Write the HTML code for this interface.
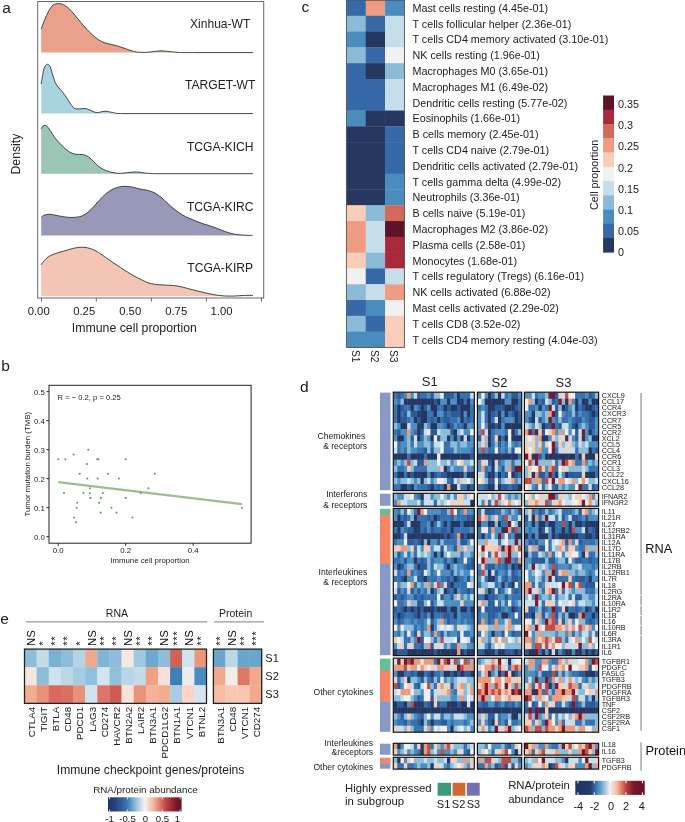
<!DOCTYPE html>
<html><head><meta charset="utf-8"><style>
html,body{margin:0;padding:0;background:#fff;width:685px;height:822px;overflow:hidden}
svg{display:block;will-change:transform}
text{font-family:"Liberation Sans", sans-serif}
</style></head><body>
<svg width="685" height="822" viewBox="0 0 685 822" shape-rendering="auto">
<rect width="685" height="822" fill="#fff"/>
<text x="2.20" y="13.40" font-size="15.5" text-anchor="start" fill="#222" >a</text>
<path d="M41.20,29.20 C41.73,27.73 43.13,23.45 44.40,20.40 C45.67,17.35 47.35,13.45 48.80,10.90 C50.25,8.35 51.53,6.32 53.10,5.10 C54.67,3.88 56.48,3.67 58.20,3.60 C59.92,3.53 61.57,3.83 63.40,4.70 C65.23,5.57 67.27,7.03 69.20,8.80 C71.13,10.57 73.05,13.00 75.00,15.30 C76.95,17.60 78.95,20.28 80.90,22.60 C82.85,24.92 84.75,27.13 86.70,29.20 C88.65,31.27 90.65,33.25 92.60,35.00 C94.55,36.75 96.47,38.43 98.40,39.70 C100.33,40.97 102.02,41.80 104.20,42.60 C106.38,43.40 109.07,43.87 111.50,44.50 C113.93,45.13 116.37,45.67 118.80,46.40 C121.23,47.13 123.67,48.07 126.10,48.90 C128.53,49.73 131.08,50.83 133.40,51.40 C135.72,51.97 137.25,52.18 140.00,52.30 C142.75,52.42 146.43,52.35 149.90,52.10 C153.37,51.85 157.15,50.83 160.80,50.80 C164.45,50.77 168.52,51.62 171.80,51.90 C175.08,52.18 176.63,52.38 180.50,52.50 C184.37,52.62 192.58,52.58 195.00,52.60 L253,52.60 L195.00,52.60 L41.2,52.60 Z" fill="#E9A18B" stroke="none"/>
<path d="M41.20,29.20 C41.73,27.73 43.13,23.45 44.40,20.40 C45.67,17.35 47.35,13.45 48.80,10.90 C50.25,8.35 51.53,6.32 53.10,5.10 C54.67,3.88 56.48,3.67 58.20,3.60 C59.92,3.53 61.57,3.83 63.40,4.70 C65.23,5.57 67.27,7.03 69.20,8.80 C71.13,10.57 73.05,13.00 75.00,15.30 C76.95,17.60 78.95,20.28 80.90,22.60 C82.85,24.92 84.75,27.13 86.70,29.20 C88.65,31.27 90.65,33.25 92.60,35.00 C94.55,36.75 96.47,38.43 98.40,39.70 C100.33,40.97 102.02,41.80 104.20,42.60 C106.38,43.40 109.07,43.87 111.50,44.50 C113.93,45.13 116.37,45.67 118.80,46.40 C121.23,47.13 123.67,48.07 126.10,48.90 C128.53,49.73 131.08,50.83 133.40,51.40 C135.72,51.97 137.25,52.18 140.00,52.30 C142.75,52.42 146.43,52.35 149.90,52.10 C153.37,51.85 157.15,50.83 160.80,50.80 C164.45,50.77 168.52,51.62 171.80,51.90 C175.08,52.18 176.63,52.38 180.50,52.50 C184.37,52.62 192.58,52.58 195.00,52.60 L253,52.60" fill="none" stroke="#333" stroke-width="0.9"/>
<text x="220.20" y="28.00" font-size="12.1" text-anchor="middle" fill="#222" >Xinhua-WT</text>
<path d="M41.20,84.10 C41.60,81.78 42.83,73.37 43.60,70.20 C44.37,67.03 45.07,66.07 45.80,65.10 C46.53,64.13 47.27,64.15 48.00,64.40 C48.73,64.65 49.47,65.02 50.20,66.60 C50.93,68.18 51.55,71.23 52.40,73.90 C53.25,76.57 54.33,80.42 55.30,82.60 C56.27,84.78 56.98,85.42 58.20,87.00 C59.42,88.58 61.02,90.03 62.60,92.10 C64.18,94.17 66.12,97.08 67.70,99.40 C69.28,101.72 70.88,104.47 72.10,106.00 C73.32,107.53 73.78,108.12 75.00,108.60 C76.22,109.08 77.68,108.92 79.40,108.90 C81.12,108.88 83.60,108.33 85.30,108.50 C87.00,108.67 88.15,109.32 89.60,109.90 C91.05,110.48 92.53,111.55 94.00,112.00 C95.47,112.45 96.93,112.70 98.40,112.60 C99.87,112.50 101.33,111.60 102.80,111.40 C104.27,111.20 105.75,111.25 107.20,111.40 C108.65,111.55 110.05,111.98 111.50,112.30 C112.95,112.62 114.18,113.08 115.90,113.30 C117.62,113.52 120.82,113.55 121.80,113.60 L253,113.60 L121.80,113.60 L41.2,113.60 Z" fill="#A8D3DF" stroke="none"/>
<path d="M41.20,84.10 C41.60,81.78 42.83,73.37 43.60,70.20 C44.37,67.03 45.07,66.07 45.80,65.10 C46.53,64.13 47.27,64.15 48.00,64.40 C48.73,64.65 49.47,65.02 50.20,66.60 C50.93,68.18 51.55,71.23 52.40,73.90 C53.25,76.57 54.33,80.42 55.30,82.60 C56.27,84.78 56.98,85.42 58.20,87.00 C59.42,88.58 61.02,90.03 62.60,92.10 C64.18,94.17 66.12,97.08 67.70,99.40 C69.28,101.72 70.88,104.47 72.10,106.00 C73.32,107.53 73.78,108.12 75.00,108.60 C76.22,109.08 77.68,108.92 79.40,108.90 C81.12,108.88 83.60,108.33 85.30,108.50 C87.00,108.67 88.15,109.32 89.60,109.90 C91.05,110.48 92.53,111.55 94.00,112.00 C95.47,112.45 96.93,112.70 98.40,112.60 C99.87,112.50 101.33,111.60 102.80,111.40 C104.27,111.20 105.75,111.25 107.20,111.40 C108.65,111.55 110.05,111.98 111.50,112.30 C112.95,112.62 114.18,113.08 115.90,113.30 C117.62,113.52 120.82,113.55 121.80,113.60 L253,113.60" fill="none" stroke="#333" stroke-width="0.9"/>
<text x="220.20" y="88.60" font-size="12.1" text-anchor="middle" fill="#222" >TARGET-WT</text>
<path d="M41.20,128.80 C41.48,128.35 42.25,126.67 42.90,126.10 C43.55,125.53 44.37,125.32 45.10,125.40 C45.83,125.48 46.32,125.55 47.30,126.60 C48.28,127.65 49.78,129.88 51.00,131.70 C52.22,133.52 53.27,135.68 54.60,137.50 C55.93,139.32 57.53,141.02 59.00,142.60 C60.47,144.18 61.95,145.65 63.40,147.00 C64.85,148.35 66.25,149.65 67.70,150.70 C69.15,151.75 70.63,152.70 72.10,153.30 C73.57,153.90 74.80,154.08 76.50,154.30 C78.20,154.52 80.60,154.35 82.30,154.60 C84.00,154.85 85.23,155.05 86.70,155.80 C88.17,156.55 89.63,157.82 91.10,159.10 C92.57,160.38 94.03,162.12 95.50,163.50 C96.97,164.88 98.20,166.25 99.90,167.40 C101.60,168.55 103.52,169.53 105.70,170.40 C107.88,171.27 110.57,172.10 113.00,172.60 C115.43,173.10 117.87,173.40 120.30,173.40 C122.73,173.40 125.17,172.83 127.60,172.60 C130.03,172.37 132.83,172.05 134.90,172.00 C136.97,171.95 138.15,172.10 140.00,172.30 C141.85,172.50 143.63,172.97 146.00,173.20 C148.37,173.43 152.83,173.62 154.20,173.70 L253,173.70 L154.20,173.70 L41.2,173.70 Z" fill="#9BC6B5" stroke="none"/>
<path d="M41.20,128.80 C41.48,128.35 42.25,126.67 42.90,126.10 C43.55,125.53 44.37,125.32 45.10,125.40 C45.83,125.48 46.32,125.55 47.30,126.60 C48.28,127.65 49.78,129.88 51.00,131.70 C52.22,133.52 53.27,135.68 54.60,137.50 C55.93,139.32 57.53,141.02 59.00,142.60 C60.47,144.18 61.95,145.65 63.40,147.00 C64.85,148.35 66.25,149.65 67.70,150.70 C69.15,151.75 70.63,152.70 72.10,153.30 C73.57,153.90 74.80,154.08 76.50,154.30 C78.20,154.52 80.60,154.35 82.30,154.60 C84.00,154.85 85.23,155.05 86.70,155.80 C88.17,156.55 89.63,157.82 91.10,159.10 C92.57,160.38 94.03,162.12 95.50,163.50 C96.97,164.88 98.20,166.25 99.90,167.40 C101.60,168.55 103.52,169.53 105.70,170.40 C107.88,171.27 110.57,172.10 113.00,172.60 C115.43,173.10 117.87,173.40 120.30,173.40 C122.73,173.40 125.17,172.83 127.60,172.60 C130.03,172.37 132.83,172.05 134.90,172.00 C136.97,171.95 138.15,172.10 140.00,172.30 C141.85,172.50 143.63,172.97 146.00,173.20 C148.37,173.43 152.83,173.62 154.20,173.70 L253,173.70" fill="none" stroke="#333" stroke-width="0.9"/>
<text x="220.20" y="151.00" font-size="12.1" text-anchor="middle" fill="#222" >TCGA-KICH</text>
<path d="M41.20,217.20 C41.73,216.83 43.02,215.48 44.40,215.00 C45.78,214.52 47.80,214.30 49.50,214.30 C51.20,214.30 52.53,214.63 54.60,215.00 C56.67,215.37 59.47,216.10 61.90,216.50 C64.33,216.90 66.77,217.28 69.20,217.40 C71.63,217.52 74.32,217.47 76.50,217.20 C78.68,216.93 80.35,216.65 82.30,215.80 C84.25,214.95 86.25,213.68 88.20,212.10 C90.15,210.52 92.05,208.37 94.00,206.30 C95.95,204.23 97.95,201.77 99.90,199.70 C101.85,197.63 103.52,195.67 105.70,193.90 C107.88,192.13 110.57,190.30 113.00,189.10 C115.43,187.90 118.12,187.15 120.30,186.70 C122.48,186.25 123.92,186.30 126.10,186.40 C128.28,186.50 131.08,186.85 133.40,187.30 C135.72,187.75 137.73,188.62 140.00,189.10 C142.27,189.58 144.67,189.62 147.00,190.20 C149.33,190.78 151.67,191.43 154.00,192.60 C156.33,193.77 158.67,195.35 161.00,197.20 C163.33,199.05 165.67,201.60 168.00,203.70 C170.33,205.80 172.67,207.97 175.00,209.80 C177.33,211.63 179.67,213.30 182.00,214.70 C184.33,216.10 186.65,217.12 189.00,218.20 C191.35,219.28 193.75,220.27 196.10,221.20 C198.45,222.13 200.77,223.02 203.10,223.80 C205.43,224.58 207.77,225.13 210.10,225.90 C212.43,226.67 214.77,227.52 217.10,228.40 C219.43,229.28 221.77,230.37 224.10,231.20 C226.43,232.03 228.77,232.82 231.10,233.40 C233.43,233.98 235.77,234.40 238.10,234.70 C240.43,235.00 242.70,235.08 245.10,235.20 C247.50,235.32 251.27,235.37 252.50,235.40 L252.50,235.40 L41.2,235.40 Z" fill="#9898B8" stroke="none"/>
<path d="M41.20,217.20 C41.73,216.83 43.02,215.48 44.40,215.00 C45.78,214.52 47.80,214.30 49.50,214.30 C51.20,214.30 52.53,214.63 54.60,215.00 C56.67,215.37 59.47,216.10 61.90,216.50 C64.33,216.90 66.77,217.28 69.20,217.40 C71.63,217.52 74.32,217.47 76.50,217.20 C78.68,216.93 80.35,216.65 82.30,215.80 C84.25,214.95 86.25,213.68 88.20,212.10 C90.15,210.52 92.05,208.37 94.00,206.30 C95.95,204.23 97.95,201.77 99.90,199.70 C101.85,197.63 103.52,195.67 105.70,193.90 C107.88,192.13 110.57,190.30 113.00,189.10 C115.43,187.90 118.12,187.15 120.30,186.70 C122.48,186.25 123.92,186.30 126.10,186.40 C128.28,186.50 131.08,186.85 133.40,187.30 C135.72,187.75 137.73,188.62 140.00,189.10 C142.27,189.58 144.67,189.62 147.00,190.20 C149.33,190.78 151.67,191.43 154.00,192.60 C156.33,193.77 158.67,195.35 161.00,197.20 C163.33,199.05 165.67,201.60 168.00,203.70 C170.33,205.80 172.67,207.97 175.00,209.80 C177.33,211.63 179.67,213.30 182.00,214.70 C184.33,216.10 186.65,217.12 189.00,218.20 C191.35,219.28 193.75,220.27 196.10,221.20 C198.45,222.13 200.77,223.02 203.10,223.80 C205.43,224.58 207.77,225.13 210.10,225.90 C212.43,226.67 214.77,227.52 217.10,228.40 C219.43,229.28 221.77,230.37 224.10,231.20 C226.43,232.03 228.77,232.82 231.10,233.40 C233.43,233.98 235.77,234.40 238.10,234.70 C240.43,235.00 242.70,235.08 245.10,235.20 C247.50,235.32 251.27,235.37 252.50,235.40" fill="none" stroke="#333" stroke-width="0.9"/>
<text x="220.20" y="211.00" font-size="12.1" text-anchor="middle" fill="#222" >TCGA-KIRC</text>
<path d="M41.20,264.80 C41.73,264.07 43.13,261.78 44.40,260.40 C45.67,259.02 47.10,257.58 48.80,256.50 C50.50,255.42 52.42,254.70 54.60,253.90 C56.78,253.10 59.47,252.43 61.90,251.70 C64.33,250.97 66.77,250.17 69.20,249.50 C71.63,248.83 74.07,248.07 76.50,247.70 C78.93,247.33 81.37,247.12 83.80,247.30 C86.23,247.48 88.67,247.95 91.10,248.80 C93.53,249.65 95.97,250.95 98.40,252.40 C100.83,253.85 103.27,255.80 105.70,257.50 C108.13,259.20 110.57,260.95 113.00,262.60 C115.43,264.25 117.87,265.82 120.30,267.40 C122.73,268.98 125.17,270.58 127.60,272.10 C130.03,273.62 132.83,275.37 134.90,276.50 C136.97,277.63 138.20,278.02 140.00,278.90 C141.80,279.78 143.80,281.00 145.70,281.80 C147.60,282.60 149.18,283.20 151.40,283.70 C153.62,284.20 156.15,284.55 159.00,284.80 C161.85,285.05 165.33,284.98 168.50,285.20 C171.67,285.42 174.85,285.57 178.00,286.10 C181.15,286.63 184.25,287.60 187.40,288.40 C190.55,289.20 193.73,290.12 196.90,290.90 C200.07,291.68 203.23,292.42 206.40,293.10 C209.57,293.78 212.73,294.52 215.90,295.00 C219.07,295.48 222.23,295.83 225.40,296.00 C228.57,296.17 231.73,296.10 234.90,296.00 C238.07,295.90 241.40,295.50 244.40,295.40 C247.40,295.30 251.48,295.40 252.90,295.40 L252.90,296.20 L41.2,296.20 Z" fill="#F4C5B5" stroke="none"/>
<path d="M41.20,264.80 C41.73,264.07 43.13,261.78 44.40,260.40 C45.67,259.02 47.10,257.58 48.80,256.50 C50.50,255.42 52.42,254.70 54.60,253.90 C56.78,253.10 59.47,252.43 61.90,251.70 C64.33,250.97 66.77,250.17 69.20,249.50 C71.63,248.83 74.07,248.07 76.50,247.70 C78.93,247.33 81.37,247.12 83.80,247.30 C86.23,247.48 88.67,247.95 91.10,248.80 C93.53,249.65 95.97,250.95 98.40,252.40 C100.83,253.85 103.27,255.80 105.70,257.50 C108.13,259.20 110.57,260.95 113.00,262.60 C115.43,264.25 117.87,265.82 120.30,267.40 C122.73,268.98 125.17,270.58 127.60,272.10 C130.03,273.62 132.83,275.37 134.90,276.50 C136.97,277.63 138.20,278.02 140.00,278.90 C141.80,279.78 143.80,281.00 145.70,281.80 C147.60,282.60 149.18,283.20 151.40,283.70 C153.62,284.20 156.15,284.55 159.00,284.80 C161.85,285.05 165.33,284.98 168.50,285.20 C171.67,285.42 174.85,285.57 178.00,286.10 C181.15,286.63 184.25,287.60 187.40,288.40 C190.55,289.20 193.73,290.12 196.90,290.90 C200.07,291.68 203.23,292.42 206.40,293.10 C209.57,293.78 212.73,294.52 215.90,295.00 C219.07,295.48 222.23,295.83 225.40,296.00 C228.57,296.17 231.73,296.10 234.90,296.00 C238.07,295.90 241.40,295.50 244.40,295.40 C247.40,295.30 251.48,295.40 252.90,295.40" fill="none" stroke="#333" stroke-width="0.9"/>
<text x="220.20" y="271.90" font-size="12.1" text-anchor="middle" fill="#222" >TCGA-KIRP</text>
<rect x="37.7" y="1.5" width="226" height="296.5" fill="none" stroke="#6a6a6a" stroke-width="1"/>
<line x1="41.50" y1="298.00" x2="41.50" y2="301.50" stroke="#555" stroke-width="0.9" />
<line x1="96.30" y1="298.00" x2="96.30" y2="301.50" stroke="#555" stroke-width="0.9" />
<line x1="151.40" y1="298.00" x2="151.40" y2="301.50" stroke="#555" stroke-width="0.9" />
<line x1="206.40" y1="298.00" x2="206.40" y2="301.50" stroke="#555" stroke-width="0.9" />
<line x1="261.50" y1="298.00" x2="261.50" y2="301.50" stroke="#555" stroke-width="0.9" />
<text x="38.70" y="314.90" font-size="11.3" text-anchor="middle" fill="#222" >0.00</text>
<text x="84.20" y="314.90" font-size="11.3" text-anchor="middle" fill="#222" >0.25</text>
<text x="130.20" y="314.90" font-size="11.3" text-anchor="middle" fill="#222" >0.50</text>
<text x="176.20" y="314.90" font-size="11.3" text-anchor="middle" fill="#222" >0.75</text>
<text x="221.50" y="314.90" font-size="11.3" text-anchor="middle" fill="#222" >1.00</text>
<text x="134.40" y="332.30" font-size="12.3" text-anchor="middle" fill="#222" >Immune cell proportion</text>
<text transform="translate(19.90,154.10) rotate(-90)" font-size="12.25" text-anchor="middle" fill="#222">Density</text>
<text x="1.20" y="371.20" font-size="15.5" text-anchor="start" fill="#222" >b</text>
<rect x="49" y="385.3" width="202.1" height="157.9" fill="none" stroke="#222" stroke-width="1"/>
<line x1="46.40" y1="536.70" x2="49.00" y2="536.70" stroke="#222" stroke-width="1" />
<text x="44.90" y="539.55" font-size="7.8" text-anchor="end" fill="#222" >0.0</text>
<line x1="46.40" y1="507.70" x2="49.00" y2="507.70" stroke="#222" stroke-width="1" />
<text x="44.90" y="510.55" font-size="7.8" text-anchor="end" fill="#222" >0.1</text>
<line x1="46.40" y1="478.70" x2="49.00" y2="478.70" stroke="#222" stroke-width="1" />
<text x="44.90" y="481.55" font-size="7.8" text-anchor="end" fill="#222" >0.2</text>
<line x1="46.40" y1="449.70" x2="49.00" y2="449.70" stroke="#222" stroke-width="1" />
<text x="44.90" y="452.55" font-size="7.8" text-anchor="end" fill="#222" >0.3</text>
<line x1="46.40" y1="420.70" x2="49.00" y2="420.70" stroke="#222" stroke-width="1" />
<text x="44.90" y="423.55" font-size="7.8" text-anchor="end" fill="#222" >0.4</text>
<line x1="46.40" y1="391.70" x2="49.00" y2="391.70" stroke="#222" stroke-width="1" />
<text x="44.90" y="394.55" font-size="7.8" text-anchor="end" fill="#222" >0.5</text>
<line x1="58.20" y1="543.20" x2="58.20" y2="545.80" stroke="#222" stroke-width="1" />
<text x="58.20" y="552.70" font-size="7.8" text-anchor="middle" fill="#222" >0.0</text>
<line x1="125.70" y1="543.20" x2="125.70" y2="545.80" stroke="#222" stroke-width="1" />
<text x="125.70" y="552.70" font-size="7.8" text-anchor="middle" fill="#222" >0.2</text>
<line x1="193.20" y1="543.20" x2="193.20" y2="545.80" stroke="#222" stroke-width="1" />
<text x="193.20" y="552.70" font-size="7.8" text-anchor="middle" fill="#222" >0.4</text>
<text x="150.00" y="562.60" font-size="7.8" text-anchor="middle" fill="#222" >Immune cell proportion</text>
<text transform="translate(29.60,464.30) rotate(-90)" font-size="7.8" text-anchor="middle" fill="#222">Tumor mutation burden (TMB)</text>
<text x="57.60" y="400.20" font-size="7.6" text-anchor="start" fill="#222" >R = − 0.2, p = 0.25</text>
<line x1="58.20" y1="482.10" x2="241.90" y2="504.10" stroke="#9DBF8E" stroke-width="2.4" />
<circle cx="58.2" cy="459.2" r="1.05" fill="#63A05C"/>
<circle cx="65.4" cy="459.2" r="1.05" fill="#63A05C"/>
<circle cx="73.6" cy="454.5" r="1.05" fill="#63A05C"/>
<circle cx="88.3" cy="449.8" r="1.05" fill="#63A05C"/>
<circle cx="86.9" cy="464.1" r="1.05" fill="#63A05C"/>
<circle cx="97.2" cy="459.2" r="1.05" fill="#63A05C"/>
<circle cx="98.4" cy="459.2" r="1.05" fill="#63A05C"/>
<circle cx="125.7" cy="459.2" r="1.05" fill="#63A05C"/>
<circle cx="79.7" cy="473.7" r="1.05" fill="#63A05C"/>
<circle cx="107.9" cy="473.7" r="1.05" fill="#63A05C"/>
<circle cx="87.3" cy="478.6" r="1.05" fill="#63A05C"/>
<circle cx="97.7" cy="478.6" r="1.05" fill="#63A05C"/>
<circle cx="118.9" cy="478.6" r="1.05" fill="#63A05C"/>
<circle cx="64.0" cy="493.0" r="1.05" fill="#63A05C"/>
<circle cx="83.4" cy="493.0" r="1.05" fill="#63A05C"/>
<circle cx="89.9" cy="488.2" r="1.05" fill="#63A05C"/>
<circle cx="89.9" cy="493.0" r="1.05" fill="#63A05C"/>
<circle cx="90.5" cy="497.9" r="1.05" fill="#63A05C"/>
<circle cx="102.8" cy="493.0" r="1.05" fill="#63A05C"/>
<circle cx="100.8" cy="497.9" r="1.05" fill="#63A05C"/>
<circle cx="125.7" cy="497.9" r="1.05" fill="#63A05C"/>
<circle cx="77.3" cy="502.8" r="1.05" fill="#63A05C"/>
<circle cx="76.6" cy="507.7" r="1.05" fill="#63A05C"/>
<circle cx="99.1" cy="502.8" r="1.05" fill="#63A05C"/>
<circle cx="111.4" cy="507.7" r="1.05" fill="#63A05C"/>
<circle cx="100.6" cy="512.6" r="1.05" fill="#63A05C"/>
<circle cx="116.5" cy="512.6" r="1.05" fill="#63A05C"/>
<circle cx="74.0" cy="517.5" r="1.05" fill="#63A05C"/>
<circle cx="132.4" cy="517.5" r="1.05" fill="#63A05C"/>
<circle cx="76.0" cy="522.2" r="1.05" fill="#63A05C"/>
<circle cx="154.8" cy="473.7" r="1.05" fill="#63A05C"/>
<circle cx="148.4" cy="488.3" r="1.05" fill="#63A05C"/>
<circle cx="140.7" cy="493.1" r="1.05" fill="#63A05C"/>
<circle cx="241.9" cy="508.0" r="1.05" fill="#63A05C"/>
<text x="301.60" y="11.90" font-size="15.5" text-anchor="start" fill="#222" >c</text>
<rect x="346.40" y="0.00" width="19.63" height="16.09" fill="#3768A8" />
<rect x="365.73" y="0.00" width="19.63" height="16.09" fill="#EE9C82" />
<rect x="385.07" y="0.00" width="19.63" height="16.09" fill="#4A8CBE" />
<text x="412.50" y="11.90" font-size="10.75" text-anchor="start" fill="#222" >Mast cells resting (4.45e-01)</text>
<rect x="346.40" y="15.79" width="19.63" height="16.09" fill="#8BBBD7" />
<rect x="365.73" y="15.79" width="19.63" height="16.09" fill="#3768A8" />
<rect x="385.07" y="15.79" width="19.63" height="16.09" fill="#C6DDEA" />
<text x="412.50" y="27.69" font-size="10.75" text-anchor="start" fill="#222" >T cells follicular helper (2.36e-01)</text>
<rect x="346.40" y="31.58" width="19.63" height="16.09" fill="#4A8CBE" />
<rect x="365.73" y="31.58" width="19.63" height="16.09" fill="#263760" />
<rect x="385.07" y="31.58" width="19.63" height="16.09" fill="#C6DDEA" />
<text x="412.50" y="43.48" font-size="10.75" text-anchor="start" fill="#222" >T cells CD4 memory activated (3.10e-01)</text>
<rect x="346.40" y="47.37" width="19.63" height="16.09" fill="#8BBBD7" />
<rect x="365.73" y="47.37" width="19.63" height="16.09" fill="#3768A8" />
<rect x="385.07" y="47.37" width="19.63" height="16.09" fill="#F1F1F1" />
<text x="412.50" y="59.27" font-size="10.75" text-anchor="start" fill="#222" >NK cells resting (1.96e-01)</text>
<rect x="346.40" y="63.16" width="19.63" height="16.09" fill="#3768A8" />
<rect x="365.73" y="63.16" width="19.63" height="16.09" fill="#263760" />
<rect x="385.07" y="63.16" width="19.63" height="16.09" fill="#8BBBD7" />
<text x="412.50" y="75.06" font-size="10.75" text-anchor="start" fill="#222" >Macrophages M0 (3.65e-01)</text>
<rect x="346.40" y="78.95" width="19.63" height="16.09" fill="#3768A8" />
<rect x="365.73" y="78.95" width="19.63" height="16.09" fill="#3768A8" />
<rect x="385.07" y="78.95" width="19.63" height="16.09" fill="#C6DDEA" />
<text x="412.50" y="90.85" font-size="10.75" text-anchor="start" fill="#222" >Macrophages M1 (6.49e-02)</text>
<rect x="346.40" y="94.75" width="19.63" height="16.09" fill="#3768A8" />
<rect x="365.73" y="94.75" width="19.63" height="16.09" fill="#3768A8" />
<rect x="385.07" y="94.75" width="19.63" height="16.09" fill="#C6DDEA" />
<text x="412.50" y="106.65" font-size="10.75" text-anchor="start" fill="#222" >Dendritic cells resting (5.77e-02)</text>
<rect x="346.40" y="110.54" width="19.63" height="16.09" fill="#4A8CBE" />
<rect x="365.73" y="110.54" width="19.63" height="16.09" fill="#263760" />
<rect x="385.07" y="110.54" width="19.63" height="16.09" fill="#263760" />
<text x="412.50" y="122.44" font-size="10.75" text-anchor="start" fill="#222" >Eosinophils (1.66e-01)</text>
<rect x="346.40" y="126.33" width="19.63" height="16.09" fill="#263760" />
<rect x="365.73" y="126.33" width="19.63" height="16.09" fill="#263760" />
<rect x="385.07" y="126.33" width="19.63" height="16.09" fill="#3768A8" />
<text x="412.50" y="138.23" font-size="10.75" text-anchor="start" fill="#222" >B cells memory (2.45e-01)</text>
<rect x="346.40" y="142.12" width="19.63" height="16.09" fill="#263760" />
<rect x="365.73" y="142.12" width="19.63" height="16.09" fill="#263760" />
<rect x="385.07" y="142.12" width="19.63" height="16.09" fill="#3768A8" />
<text x="412.50" y="154.02" font-size="10.75" text-anchor="start" fill="#222" >T cells CD4 naive (2.79e-01)</text>
<rect x="346.40" y="157.91" width="19.63" height="16.09" fill="#263760" />
<rect x="365.73" y="157.91" width="19.63" height="16.09" fill="#263760" />
<rect x="385.07" y="157.91" width="19.63" height="16.09" fill="#3768A8" />
<text x="412.50" y="169.81" font-size="10.75" text-anchor="start" fill="#222" >Dendritic cells activated (2.79e-01)</text>
<rect x="346.40" y="173.70" width="19.63" height="16.09" fill="#263760" />
<rect x="365.73" y="173.70" width="19.63" height="16.09" fill="#263760" />
<rect x="385.07" y="173.70" width="19.63" height="16.09" fill="#4A8CBE" />
<text x="412.50" y="185.60" font-size="10.75" text-anchor="start" fill="#222" >T cells gamma delta (4.99e-02)</text>
<rect x="346.40" y="189.49" width="19.63" height="16.09" fill="#263760" />
<rect x="365.73" y="189.49" width="19.63" height="16.09" fill="#263760" />
<rect x="385.07" y="189.49" width="19.63" height="16.09" fill="#4A8CBE" />
<text x="412.50" y="201.39" font-size="10.75" text-anchor="start" fill="#222" >Neutrophils (3.36e-01)</text>
<rect x="346.40" y="205.28" width="19.63" height="16.09" fill="#F9CDB9" />
<rect x="365.73" y="205.28" width="19.63" height="16.09" fill="#8BBBD7" />
<rect x="385.07" y="205.28" width="19.63" height="16.09" fill="#D2695A" />
<text x="412.50" y="217.18" font-size="10.75" text-anchor="start" fill="#222" >B cells naive (5.19e-01)</text>
<rect x="346.40" y="221.07" width="19.63" height="16.09" fill="#EE9C82" />
<rect x="365.73" y="221.07" width="19.63" height="16.09" fill="#C6DDEA" />
<rect x="385.07" y="221.07" width="19.63" height="16.09" fill="#5E1428" />
<text x="412.50" y="232.97" font-size="10.75" text-anchor="start" fill="#222" >Macrophages M2 (3.86e-02)</text>
<rect x="346.40" y="236.86" width="19.63" height="16.09" fill="#EE9C82" />
<rect x="365.73" y="236.86" width="19.63" height="16.09" fill="#C6DDEA" />
<rect x="385.07" y="236.86" width="19.63" height="16.09" fill="#A8293A" />
<text x="412.50" y="248.76" font-size="10.75" text-anchor="start" fill="#222" >Plasma cells (2.58e-01)</text>
<rect x="346.40" y="252.65" width="19.63" height="16.09" fill="#F9CDB9" />
<rect x="365.73" y="252.65" width="19.63" height="16.09" fill="#8BBBD7" />
<rect x="385.07" y="252.65" width="19.63" height="16.09" fill="#A8293A" />
<text x="412.50" y="264.55" font-size="10.75" text-anchor="start" fill="#222" >Monocytes (1.68e-01)</text>
<rect x="346.40" y="268.45" width="19.63" height="16.09" fill="#F1F1F1" />
<rect x="365.73" y="268.45" width="19.63" height="16.09" fill="#3768A8" />
<rect x="385.07" y="268.45" width="19.63" height="16.09" fill="#C6DDEA" />
<text x="412.50" y="280.35" font-size="10.75" text-anchor="start" fill="#222" >T cells regulatory (Tregs) (6.16e-01)</text>
<rect x="346.40" y="284.24" width="19.63" height="16.09" fill="#8BBBD7" />
<rect x="365.73" y="284.24" width="19.63" height="16.09" fill="#C6DDEA" />
<rect x="385.07" y="284.24" width="19.63" height="16.09" fill="#EE9C82" />
<text x="412.50" y="296.14" font-size="10.75" text-anchor="start" fill="#222" >NK cells activated (6.88e-02)</text>
<rect x="346.40" y="300.03" width="19.63" height="16.09" fill="#3768A8" />
<rect x="365.73" y="300.03" width="19.63" height="16.09" fill="#4A8CBE" />
<rect x="385.07" y="300.03" width="19.63" height="16.09" fill="#F1F1F1" />
<text x="412.50" y="311.93" font-size="10.75" text-anchor="start" fill="#222" >Mast cells activated (2.29e-02)</text>
<rect x="346.40" y="315.82" width="19.63" height="16.09" fill="#8BBBD7" />
<rect x="365.73" y="315.82" width="19.63" height="16.09" fill="#3768A8" />
<rect x="385.07" y="315.82" width="19.63" height="16.09" fill="#F9CDB9" />
<text x="412.50" y="327.72" font-size="10.75" text-anchor="start" fill="#222" >T cells CD8 (3.52e-02)</text>
<rect x="346.40" y="331.61" width="19.63" height="16.09" fill="#4A8CBE" />
<rect x="365.73" y="331.61" width="19.63" height="16.09" fill="#4A8CBE" />
<rect x="385.07" y="331.61" width="19.63" height="16.09" fill="#F9CDB9" />
<text x="412.50" y="343.51" font-size="10.75" text-anchor="start" fill="#222" >T cells CD4 memory resting (4.04e-03)</text>
<rect x="346.40" y="0.3" width="58.00" height="347.1" fill="none" stroke="#555" stroke-width="0.9"/>
<text transform="translate(351.57,349.90) rotate(90)" font-size="10.3" text-anchor="start" fill="#222">S1</text>
<text transform="translate(370.90,349.90) rotate(90)" font-size="10.3" text-anchor="start" fill="#222">S2</text>
<text transform="translate(390.23,349.90) rotate(90)" font-size="10.3" text-anchor="start" fill="#222">S3</text>
<rect x="603.10" y="95.50" width="10.90" height="14.55" fill="#5E1428" />
<rect x="603.10" y="109.75" width="10.90" height="14.55" fill="#A8293A" />
<rect x="603.10" y="124.01" width="10.90" height="14.55" fill="#D2695A" />
<rect x="603.10" y="138.26" width="10.90" height="14.55" fill="#EE9C82" />
<rect x="603.10" y="152.52" width="10.90" height="14.55" fill="#F9CDB9" />
<rect x="603.10" y="166.77" width="10.90" height="14.55" fill="#F1F1F1" />
<rect x="603.10" y="181.03" width="10.90" height="14.55" fill="#C6DDEA" />
<rect x="603.10" y="195.28" width="10.90" height="14.55" fill="#8BBBD7" />
<rect x="603.10" y="209.54" width="10.90" height="14.55" fill="#4A8CBE" />
<rect x="603.10" y="223.79" width="10.90" height="14.55" fill="#3768A8" />
<rect x="603.10" y="238.05" width="10.90" height="14.55" fill="#263760" />
<text x="618.00" y="108.10" font-size="10.8" text-anchor="start" fill="#222" >0.35</text>
<text x="618.00" y="129.25" font-size="10.8" text-anchor="start" fill="#222" >0.3</text>
<text x="618.00" y="150.40" font-size="10.8" text-anchor="start" fill="#222" >0.25</text>
<text x="618.00" y="171.55" font-size="10.8" text-anchor="start" fill="#222" >0.2</text>
<text x="618.00" y="192.70" font-size="10.8" text-anchor="start" fill="#222" >0.15</text>
<text x="618.00" y="213.85" font-size="10.8" text-anchor="start" fill="#222" >0.1</text>
<text x="618.00" y="235.00" font-size="10.8" text-anchor="start" fill="#222" >0.05</text>
<text x="618.00" y="256.15" font-size="10.8" text-anchor="start" fill="#222" >0</text>
<text transform="translate(597.60,174.90) rotate(-90)" font-size="10.8" text-anchor="middle" fill="#222">Cell proportion</text>
<text x="300.00" y="391.80" font-size="15.5" text-anchor="start" fill="#222" >d</text>
<text x="429.70" y="385.50" font-size="13" text-anchor="middle" fill="#222" >S1</text>
<text x="499.50" y="386.80" font-size="13" text-anchor="middle" fill="#222" >S2</text>
<text x="563.50" y="386.90" font-size="13" text-anchor="middle" fill="#222" >S3</text>
<rect x="393.90" y="392.60" width="3.72" height="6.50" fill="#3671B0" />
<rect x="397.22" y="392.60" width="3.72" height="6.50" fill="#2B5B9A" />
<rect x="400.54" y="392.60" width="3.72" height="6.50" fill="#3671B0" />
<rect x="403.86" y="392.60" width="3.72" height="6.50" fill="#4B8FC2" />
<rect x="407.18" y="392.60" width="3.72" height="6.50" fill="#EC9A7E" />
<rect x="410.50" y="392.60" width="3.72" height="6.50" fill="#4B8FC2" />
<rect x="413.82" y="392.60" width="3.72" height="6.50" fill="#C8DEEB" />
<rect x="417.14" y="392.60" width="3.72" height="6.50" fill="#2B5B9A" />
<rect x="420.46" y="392.60" width="3.72" height="6.50" fill="#3671B0" />
<rect x="423.78" y="392.60" width="3.72" height="6.50" fill="#3671B0" />
<rect x="427.10" y="392.60" width="3.72" height="6.50" fill="#4B8FC2" />
<rect x="430.42" y="392.60" width="3.72" height="6.50" fill="#2B5B9A" />
<rect x="433.74" y="392.60" width="3.72" height="6.50" fill="#8BBDD9" />
<rect x="437.06" y="392.60" width="3.72" height="6.50" fill="#8BBDD9" />
<rect x="440.38" y="392.60" width="3.72" height="6.50" fill="#F3EEEC" />
<rect x="443.70" y="392.60" width="3.72" height="6.50" fill="#2B5B9A" />
<rect x="447.02" y="392.60" width="3.72" height="6.50" fill="#2B5B9A" />
<rect x="450.34" y="392.60" width="3.72" height="6.50" fill="#2B5B9A" />
<rect x="453.66" y="392.60" width="3.72" height="6.50" fill="#4B8FC2" />
<rect x="456.98" y="392.60" width="3.72" height="6.50" fill="#243763" />
<rect x="460.30" y="392.60" width="3.72" height="6.50" fill="#3671B0" />
<rect x="463.62" y="392.60" width="3.72" height="6.50" fill="#3671B0" />
<rect x="466.94" y="392.60" width="3.72" height="6.50" fill="#3671B0" />
<rect x="470.26" y="392.60" width="3.72" height="6.50" fill="#C8DEEB" />
<rect x="393.90" y="398.70" width="3.72" height="6.50" fill="#4B8FC2" />
<rect x="397.22" y="398.70" width="3.72" height="6.50" fill="#3671B0" />
<rect x="400.54" y="398.70" width="3.72" height="6.50" fill="#8BBDD9" />
<rect x="403.86" y="398.70" width="3.72" height="6.50" fill="#243763" />
<rect x="407.18" y="398.70" width="3.72" height="6.50" fill="#243763" />
<rect x="410.50" y="398.70" width="3.72" height="6.50" fill="#243763" />
<rect x="413.82" y="398.70" width="3.72" height="6.50" fill="#243763" />
<rect x="417.14" y="398.70" width="3.72" height="6.50" fill="#243763" />
<rect x="420.46" y="398.70" width="3.72" height="6.50" fill="#243763" />
<rect x="423.78" y="398.70" width="3.72" height="6.50" fill="#243763" />
<rect x="427.10" y="398.70" width="3.72" height="6.50" fill="#243763" />
<rect x="430.42" y="398.70" width="3.72" height="6.50" fill="#243763" />
<rect x="433.74" y="398.70" width="3.72" height="6.50" fill="#2B5B9A" />
<rect x="437.06" y="398.70" width="3.72" height="6.50" fill="#243763" />
<rect x="440.38" y="398.70" width="3.72" height="6.50" fill="#4B8FC2" />
<rect x="443.70" y="398.70" width="3.72" height="6.50" fill="#4B8FC2" />
<rect x="447.02" y="398.70" width="3.72" height="6.50" fill="#243763" />
<rect x="450.34" y="398.70" width="3.72" height="6.50" fill="#4B8FC2" />
<rect x="453.66" y="398.70" width="3.72" height="6.50" fill="#4B8FC2" />
<rect x="456.98" y="398.70" width="3.72" height="6.50" fill="#243763" />
<rect x="460.30" y="398.70" width="3.72" height="6.50" fill="#243763" />
<rect x="463.62" y="398.70" width="3.72" height="6.50" fill="#3671B0" />
<rect x="466.94" y="398.70" width="3.72" height="6.50" fill="#243763" />
<rect x="470.26" y="398.70" width="3.72" height="6.50" fill="#4B8FC2" />
<rect x="393.90" y="404.80" width="3.72" height="6.50" fill="#3671B0" />
<rect x="397.22" y="404.80" width="3.72" height="6.50" fill="#243763" />
<rect x="400.54" y="404.80" width="3.72" height="6.50" fill="#2B5B9A" />
<rect x="403.86" y="404.80" width="3.72" height="6.50" fill="#3671B0" />
<rect x="407.18" y="404.80" width="3.72" height="6.50" fill="#3671B0" />
<rect x="410.50" y="404.80" width="3.72" height="6.50" fill="#243763" />
<rect x="413.82" y="404.80" width="3.72" height="6.50" fill="#4B8FC2" />
<rect x="417.14" y="404.80" width="3.72" height="6.50" fill="#3671B0" />
<rect x="420.46" y="404.80" width="3.72" height="6.50" fill="#243763" />
<rect x="423.78" y="404.80" width="3.72" height="6.50" fill="#2B5B9A" />
<rect x="427.10" y="404.80" width="3.72" height="6.50" fill="#4B8FC2" />
<rect x="430.42" y="404.80" width="3.72" height="6.50" fill="#243763" />
<rect x="433.74" y="404.80" width="3.72" height="6.50" fill="#243763" />
<rect x="437.06" y="404.80" width="3.72" height="6.50" fill="#3671B0" />
<rect x="440.38" y="404.80" width="3.72" height="6.50" fill="#3671B0" />
<rect x="443.70" y="404.80" width="3.72" height="6.50" fill="#243763" />
<rect x="447.02" y="404.80" width="3.72" height="6.50" fill="#2B5B9A" />
<rect x="450.34" y="404.80" width="3.72" height="6.50" fill="#243763" />
<rect x="453.66" y="404.80" width="3.72" height="6.50" fill="#243763" />
<rect x="456.98" y="404.80" width="3.72" height="6.50" fill="#2B5B9A" />
<rect x="460.30" y="404.80" width="3.72" height="6.50" fill="#243763" />
<rect x="463.62" y="404.80" width="3.72" height="6.50" fill="#243763" />
<rect x="466.94" y="404.80" width="3.72" height="6.50" fill="#243763" />
<rect x="470.26" y="404.80" width="3.72" height="6.50" fill="#3671B0" />
<rect x="393.90" y="410.90" width="3.72" height="6.50" fill="#3671B0" />
<rect x="397.22" y="410.90" width="3.72" height="6.50" fill="#243763" />
<rect x="400.54" y="410.90" width="3.72" height="6.50" fill="#3671B0" />
<rect x="403.86" y="410.90" width="3.72" height="6.50" fill="#2B5B9A" />
<rect x="407.18" y="410.90" width="3.72" height="6.50" fill="#8BBDD9" />
<rect x="410.50" y="410.90" width="3.72" height="6.50" fill="#2B5B9A" />
<rect x="413.82" y="410.90" width="3.72" height="6.50" fill="#2B5B9A" />
<rect x="417.14" y="410.90" width="3.72" height="6.50" fill="#243763" />
<rect x="420.46" y="410.90" width="3.72" height="6.50" fill="#243763" />
<rect x="423.78" y="410.90" width="3.72" height="6.50" fill="#243763" />
<rect x="427.10" y="410.90" width="3.72" height="6.50" fill="#3671B0" />
<rect x="430.42" y="410.90" width="3.72" height="6.50" fill="#3671B0" />
<rect x="433.74" y="410.90" width="3.72" height="6.50" fill="#243763" />
<rect x="437.06" y="410.90" width="3.72" height="6.50" fill="#4B8FC2" />
<rect x="440.38" y="410.90" width="3.72" height="6.50" fill="#4B8FC2" />
<rect x="443.70" y="410.90" width="3.72" height="6.50" fill="#2B5B9A" />
<rect x="447.02" y="410.90" width="3.72" height="6.50" fill="#3671B0" />
<rect x="450.34" y="410.90" width="3.72" height="6.50" fill="#2B5B9A" />
<rect x="453.66" y="410.90" width="3.72" height="6.50" fill="#2B5B9A" />
<rect x="456.98" y="410.90" width="3.72" height="6.50" fill="#2B5B9A" />
<rect x="460.30" y="410.90" width="3.72" height="6.50" fill="#243763" />
<rect x="463.62" y="410.90" width="3.72" height="6.50" fill="#4B8FC2" />
<rect x="466.94" y="410.90" width="3.72" height="6.50" fill="#243763" />
<rect x="470.26" y="410.90" width="3.72" height="6.50" fill="#3671B0" />
<rect x="393.90" y="417.00" width="3.72" height="6.50" fill="#3671B0" />
<rect x="397.22" y="417.00" width="3.72" height="6.50" fill="#243763" />
<rect x="400.54" y="417.00" width="3.72" height="6.50" fill="#2B5B9A" />
<rect x="403.86" y="417.00" width="3.72" height="6.50" fill="#2B5B9A" />
<rect x="407.18" y="417.00" width="3.72" height="6.50" fill="#3671B0" />
<rect x="410.50" y="417.00" width="3.72" height="6.50" fill="#4B8FC2" />
<rect x="413.82" y="417.00" width="3.72" height="6.50" fill="#243763" />
<rect x="417.14" y="417.00" width="3.72" height="6.50" fill="#2B5B9A" />
<rect x="420.46" y="417.00" width="3.72" height="6.50" fill="#243763" />
<rect x="423.78" y="417.00" width="3.72" height="6.50" fill="#243763" />
<rect x="427.10" y="417.00" width="3.72" height="6.50" fill="#3671B0" />
<rect x="430.42" y="417.00" width="3.72" height="6.50" fill="#2B5B9A" />
<rect x="433.74" y="417.00" width="3.72" height="6.50" fill="#3671B0" />
<rect x="437.06" y="417.00" width="3.72" height="6.50" fill="#243763" />
<rect x="440.38" y="417.00" width="3.72" height="6.50" fill="#3671B0" />
<rect x="443.70" y="417.00" width="3.72" height="6.50" fill="#2B5B9A" />
<rect x="447.02" y="417.00" width="3.72" height="6.50" fill="#2B5B9A" />
<rect x="450.34" y="417.00" width="3.72" height="6.50" fill="#3671B0" />
<rect x="453.66" y="417.00" width="3.72" height="6.50" fill="#3671B0" />
<rect x="456.98" y="417.00" width="3.72" height="6.50" fill="#4B8FC2" />
<rect x="460.30" y="417.00" width="3.72" height="6.50" fill="#243763" />
<rect x="463.62" y="417.00" width="3.72" height="6.50" fill="#3671B0" />
<rect x="466.94" y="417.00" width="3.72" height="6.50" fill="#2B5B9A" />
<rect x="470.26" y="417.00" width="3.72" height="6.50" fill="#3671B0" />
<rect x="393.90" y="423.10" width="3.72" height="6.50" fill="#8BBDD9" />
<rect x="397.22" y="423.10" width="3.72" height="6.50" fill="#4B8FC2" />
<rect x="400.54" y="423.10" width="3.72" height="6.50" fill="#243763" />
<rect x="403.86" y="423.10" width="3.72" height="6.50" fill="#243763" />
<rect x="407.18" y="423.10" width="3.72" height="6.50" fill="#C8DEEB" />
<rect x="410.50" y="423.10" width="3.72" height="6.50" fill="#4B8FC2" />
<rect x="413.82" y="423.10" width="3.72" height="6.50" fill="#4B8FC2" />
<rect x="417.14" y="423.10" width="3.72" height="6.50" fill="#243763" />
<rect x="420.46" y="423.10" width="3.72" height="6.50" fill="#243763" />
<rect x="423.78" y="423.10" width="3.72" height="6.50" fill="#8BBDD9" />
<rect x="427.10" y="423.10" width="3.72" height="6.50" fill="#4B8FC2" />
<rect x="430.42" y="423.10" width="3.72" height="6.50" fill="#243763" />
<rect x="433.74" y="423.10" width="3.72" height="6.50" fill="#243763" />
<rect x="437.06" y="423.10" width="3.72" height="6.50" fill="#4B8FC2" />
<rect x="440.38" y="423.10" width="3.72" height="6.50" fill="#4B8FC2" />
<rect x="443.70" y="423.10" width="3.72" height="6.50" fill="#3671B0" />
<rect x="447.02" y="423.10" width="3.72" height="6.50" fill="#243763" />
<rect x="450.34" y="423.10" width="3.72" height="6.50" fill="#2B5B9A" />
<rect x="453.66" y="423.10" width="3.72" height="6.50" fill="#4B8FC2" />
<rect x="456.98" y="423.10" width="3.72" height="6.50" fill="#3671B0" />
<rect x="460.30" y="423.10" width="3.72" height="6.50" fill="#3671B0" />
<rect x="463.62" y="423.10" width="3.72" height="6.50" fill="#243763" />
<rect x="466.94" y="423.10" width="3.72" height="6.50" fill="#4B8FC2" />
<rect x="470.26" y="423.10" width="3.72" height="6.50" fill="#4B8FC2" />
<rect x="393.90" y="429.20" width="3.72" height="6.50" fill="#3671B0" />
<rect x="397.22" y="429.20" width="3.72" height="6.50" fill="#2B5B9A" />
<rect x="400.54" y="429.20" width="3.72" height="6.50" fill="#4B8FC2" />
<rect x="403.86" y="429.20" width="3.72" height="6.50" fill="#4B8FC2" />
<rect x="407.18" y="429.20" width="3.72" height="6.50" fill="#EC9A7E" />
<rect x="410.50" y="429.20" width="3.72" height="6.50" fill="#4B8FC2" />
<rect x="413.82" y="429.20" width="3.72" height="6.50" fill="#3671B0" />
<rect x="417.14" y="429.20" width="3.72" height="6.50" fill="#243763" />
<rect x="420.46" y="429.20" width="3.72" height="6.50" fill="#2B5B9A" />
<rect x="423.78" y="429.20" width="3.72" height="6.50" fill="#C8DEEB" />
<rect x="427.10" y="429.20" width="3.72" height="6.50" fill="#F3EEEC" />
<rect x="430.42" y="429.20" width="3.72" height="6.50" fill="#2B5B9A" />
<rect x="433.74" y="429.20" width="3.72" height="6.50" fill="#2B5B9A" />
<rect x="437.06" y="429.20" width="3.72" height="6.50" fill="#C8DEEB" />
<rect x="440.38" y="429.20" width="3.72" height="6.50" fill="#8BBDD9" />
<rect x="443.70" y="429.20" width="3.72" height="6.50" fill="#8BBDD9" />
<rect x="447.02" y="429.20" width="3.72" height="6.50" fill="#8BBDD9" />
<rect x="450.34" y="429.20" width="3.72" height="6.50" fill="#2B5B9A" />
<rect x="453.66" y="429.20" width="3.72" height="6.50" fill="#243763" />
<rect x="456.98" y="429.20" width="3.72" height="6.50" fill="#8BBDD9" />
<rect x="460.30" y="429.20" width="3.72" height="6.50" fill="#C8DEEB" />
<rect x="463.62" y="429.20" width="3.72" height="6.50" fill="#4B8FC2" />
<rect x="466.94" y="429.20" width="3.72" height="6.50" fill="#4B8FC2" />
<rect x="470.26" y="429.20" width="3.72" height="6.50" fill="#F3EEEC" />
<rect x="393.90" y="435.30" width="3.72" height="6.50" fill="#4B8FC2" />
<rect x="397.22" y="435.30" width="3.72" height="6.50" fill="#243763" />
<rect x="400.54" y="435.30" width="3.72" height="6.50" fill="#243763" />
<rect x="403.86" y="435.30" width="3.72" height="6.50" fill="#4B8FC2" />
<rect x="407.18" y="435.30" width="3.72" height="6.50" fill="#8BBDD9" />
<rect x="410.50" y="435.30" width="3.72" height="6.50" fill="#2B5B9A" />
<rect x="413.82" y="435.30" width="3.72" height="6.50" fill="#C8DEEB" />
<rect x="417.14" y="435.30" width="3.72" height="6.50" fill="#243763" />
<rect x="420.46" y="435.30" width="3.72" height="6.50" fill="#3671B0" />
<rect x="423.78" y="435.30" width="3.72" height="6.50" fill="#8BBDD9" />
<rect x="427.10" y="435.30" width="3.72" height="6.50" fill="#4B8FC2" />
<rect x="430.42" y="435.30" width="3.72" height="6.50" fill="#243763" />
<rect x="433.74" y="435.30" width="3.72" height="6.50" fill="#F3EEEC" />
<rect x="437.06" y="435.30" width="3.72" height="6.50" fill="#2B5B9A" />
<rect x="440.38" y="435.30" width="3.72" height="6.50" fill="#8BBDD9" />
<rect x="443.70" y="435.30" width="3.72" height="6.50" fill="#8BBDD9" />
<rect x="447.02" y="435.30" width="3.72" height="6.50" fill="#243763" />
<rect x="450.34" y="435.30" width="3.72" height="6.50" fill="#4B8FC2" />
<rect x="453.66" y="435.30" width="3.72" height="6.50" fill="#243763" />
<rect x="456.98" y="435.30" width="3.72" height="6.50" fill="#4B8FC2" />
<rect x="460.30" y="435.30" width="3.72" height="6.50" fill="#243763" />
<rect x="463.62" y="435.30" width="3.72" height="6.50" fill="#C8DEEB" />
<rect x="466.94" y="435.30" width="3.72" height="6.50" fill="#243763" />
<rect x="470.26" y="435.30" width="3.72" height="6.50" fill="#4B8FC2" />
<rect x="393.90" y="441.40" width="3.72" height="6.50" fill="#F3EEEC" />
<rect x="397.22" y="441.40" width="3.72" height="6.50" fill="#3671B0" />
<rect x="400.54" y="441.40" width="3.72" height="6.50" fill="#4B8FC2" />
<rect x="403.86" y="441.40" width="3.72" height="6.50" fill="#4B8FC2" />
<rect x="407.18" y="441.40" width="3.72" height="6.50" fill="#8BBDD9" />
<rect x="410.50" y="441.40" width="3.72" height="6.50" fill="#3671B0" />
<rect x="413.82" y="441.40" width="3.72" height="6.50" fill="#C8DEEB" />
<rect x="417.14" y="441.40" width="3.72" height="6.50" fill="#4B8FC2" />
<rect x="420.46" y="441.40" width="3.72" height="6.50" fill="#4B8FC2" />
<rect x="423.78" y="441.40" width="3.72" height="6.50" fill="#8BBDD9" />
<rect x="427.10" y="441.40" width="3.72" height="6.50" fill="#8BBDD9" />
<rect x="430.42" y="441.40" width="3.72" height="6.50" fill="#3671B0" />
<rect x="433.74" y="441.40" width="3.72" height="6.50" fill="#C8DEEB" />
<rect x="437.06" y="441.40" width="3.72" height="6.50" fill="#C8DEEB" />
<rect x="440.38" y="441.40" width="3.72" height="6.50" fill="#F3EEEC" />
<rect x="443.70" y="441.40" width="3.72" height="6.50" fill="#3671B0" />
<rect x="447.02" y="441.40" width="3.72" height="6.50" fill="#3671B0" />
<rect x="450.34" y="441.40" width="3.72" height="6.50" fill="#8BBDD9" />
<rect x="453.66" y="441.40" width="3.72" height="6.50" fill="#8BBDD9" />
<rect x="456.98" y="441.40" width="3.72" height="6.50" fill="#4B8FC2" />
<rect x="460.30" y="441.40" width="3.72" height="6.50" fill="#8BBDD9" />
<rect x="463.62" y="441.40" width="3.72" height="6.50" fill="#8BBDD9" />
<rect x="466.94" y="441.40" width="3.72" height="6.50" fill="#4B8FC2" />
<rect x="470.26" y="441.40" width="3.72" height="6.50" fill="#4B8FC2" />
<rect x="393.90" y="447.50" width="3.72" height="6.50" fill="#C8DEEB" />
<rect x="397.22" y="447.50" width="3.72" height="6.50" fill="#3671B0" />
<rect x="400.54" y="447.50" width="3.72" height="6.50" fill="#4B8FC2" />
<rect x="403.86" y="447.50" width="3.72" height="6.50" fill="#3671B0" />
<rect x="407.18" y="447.50" width="3.72" height="6.50" fill="#8BBDD9" />
<rect x="410.50" y="447.50" width="3.72" height="6.50" fill="#4B8FC2" />
<rect x="413.82" y="447.50" width="3.72" height="6.50" fill="#4B8FC2" />
<rect x="417.14" y="447.50" width="3.72" height="6.50" fill="#3671B0" />
<rect x="420.46" y="447.50" width="3.72" height="6.50" fill="#3671B0" />
<rect x="423.78" y="447.50" width="3.72" height="6.50" fill="#2B5B9A" />
<rect x="427.10" y="447.50" width="3.72" height="6.50" fill="#8BBDD9" />
<rect x="430.42" y="447.50" width="3.72" height="6.50" fill="#2B5B9A" />
<rect x="433.74" y="447.50" width="3.72" height="6.50" fill="#8BBDD9" />
<rect x="437.06" y="447.50" width="3.72" height="6.50" fill="#8BBDD9" />
<rect x="440.38" y="447.50" width="3.72" height="6.50" fill="#F3EEEC" />
<rect x="443.70" y="447.50" width="3.72" height="6.50" fill="#3671B0" />
<rect x="447.02" y="447.50" width="3.72" height="6.50" fill="#3671B0" />
<rect x="450.34" y="447.50" width="3.72" height="6.50" fill="#3671B0" />
<rect x="453.66" y="447.50" width="3.72" height="6.50" fill="#8BBDD9" />
<rect x="456.98" y="447.50" width="3.72" height="6.50" fill="#4B8FC2" />
<rect x="460.30" y="447.50" width="3.72" height="6.50" fill="#4B8FC2" />
<rect x="463.62" y="447.50" width="3.72" height="6.50" fill="#4B8FC2" />
<rect x="466.94" y="447.50" width="3.72" height="6.50" fill="#4B8FC2" />
<rect x="470.26" y="447.50" width="3.72" height="6.50" fill="#3671B0" />
<rect x="393.90" y="453.60" width="3.72" height="6.50" fill="#243763" />
<rect x="397.22" y="453.60" width="3.72" height="6.50" fill="#243763" />
<rect x="400.54" y="453.60" width="3.72" height="6.50" fill="#243763" />
<rect x="403.86" y="453.60" width="3.72" height="6.50" fill="#243763" />
<rect x="407.18" y="453.60" width="3.72" height="6.50" fill="#3671B0" />
<rect x="410.50" y="453.60" width="3.72" height="6.50" fill="#243763" />
<rect x="413.82" y="453.60" width="3.72" height="6.50" fill="#243763" />
<rect x="417.14" y="453.60" width="3.72" height="6.50" fill="#243763" />
<rect x="420.46" y="453.60" width="3.72" height="6.50" fill="#243763" />
<rect x="423.78" y="453.60" width="3.72" height="6.50" fill="#3671B0" />
<rect x="427.10" y="453.60" width="3.72" height="6.50" fill="#243763" />
<rect x="430.42" y="453.60" width="3.72" height="6.50" fill="#243763" />
<rect x="433.74" y="453.60" width="3.72" height="6.50" fill="#243763" />
<rect x="437.06" y="453.60" width="3.72" height="6.50" fill="#F3EEEC" />
<rect x="440.38" y="453.60" width="3.72" height="6.50" fill="#243763" />
<rect x="443.70" y="453.60" width="3.72" height="6.50" fill="#243763" />
<rect x="447.02" y="453.60" width="3.72" height="6.50" fill="#243763" />
<rect x="450.34" y="453.60" width="3.72" height="6.50" fill="#243763" />
<rect x="453.66" y="453.60" width="3.72" height="6.50" fill="#243763" />
<rect x="456.98" y="453.60" width="3.72" height="6.50" fill="#243763" />
<rect x="460.30" y="453.60" width="3.72" height="6.50" fill="#243763" />
<rect x="463.62" y="453.60" width="3.72" height="6.50" fill="#243763" />
<rect x="466.94" y="453.60" width="3.72" height="6.50" fill="#243763" />
<rect x="470.26" y="453.60" width="3.72" height="6.50" fill="#2B5B9A" />
<rect x="393.90" y="459.70" width="3.72" height="6.50" fill="#4B8FC2" />
<rect x="397.22" y="459.70" width="3.72" height="6.50" fill="#8BBDD9" />
<rect x="400.54" y="459.70" width="3.72" height="6.50" fill="#4B8FC2" />
<rect x="403.86" y="459.70" width="3.72" height="6.50" fill="#8BBDD9" />
<rect x="407.18" y="459.70" width="3.72" height="6.50" fill="#C44A45" />
<rect x="410.50" y="459.70" width="3.72" height="6.50" fill="#8BBDD9" />
<rect x="413.82" y="459.70" width="3.72" height="6.50" fill="#C8DEEB" />
<rect x="417.14" y="459.70" width="3.72" height="6.50" fill="#2B5B9A" />
<rect x="420.46" y="459.70" width="3.72" height="6.50" fill="#2B5B9A" />
<rect x="423.78" y="459.70" width="3.72" height="6.50" fill="#EC9A7E" />
<rect x="427.10" y="459.70" width="3.72" height="6.50" fill="#8BBDD9" />
<rect x="430.42" y="459.70" width="3.72" height="6.50" fill="#8BBDD9" />
<rect x="433.74" y="459.70" width="3.72" height="6.50" fill="#8BBDD9" />
<rect x="437.06" y="459.70" width="3.72" height="6.50" fill="#F3EEEC" />
<rect x="440.38" y="459.70" width="3.72" height="6.50" fill="#8BBDD9" />
<rect x="443.70" y="459.70" width="3.72" height="6.50" fill="#8BBDD9" />
<rect x="447.02" y="459.70" width="3.72" height="6.50" fill="#C8DEEB" />
<rect x="450.34" y="459.70" width="3.72" height="6.50" fill="#4B8FC2" />
<rect x="453.66" y="459.70" width="3.72" height="6.50" fill="#8BBDD9" />
<rect x="456.98" y="459.70" width="3.72" height="6.50" fill="#F3EEEC" />
<rect x="460.30" y="459.70" width="3.72" height="6.50" fill="#F8CDB8" />
<rect x="463.62" y="459.70" width="3.72" height="6.50" fill="#8BBDD9" />
<rect x="466.94" y="459.70" width="3.72" height="6.50" fill="#8BBDD9" />
<rect x="470.26" y="459.70" width="3.72" height="6.50" fill="#C8DEEB" />
<rect x="393.90" y="465.80" width="3.72" height="6.50" fill="#8BBDD9" />
<rect x="397.22" y="465.80" width="3.72" height="6.50" fill="#3671B0" />
<rect x="400.54" y="465.80" width="3.72" height="6.50" fill="#3671B0" />
<rect x="403.86" y="465.80" width="3.72" height="6.50" fill="#4B8FC2" />
<rect x="407.18" y="465.80" width="3.72" height="6.50" fill="#F8CDB8" />
<rect x="410.50" y="465.80" width="3.72" height="6.50" fill="#8BBDD9" />
<rect x="413.82" y="465.80" width="3.72" height="6.50" fill="#3671B0" />
<rect x="417.14" y="465.80" width="3.72" height="6.50" fill="#3671B0" />
<rect x="420.46" y="465.80" width="3.72" height="6.50" fill="#3671B0" />
<rect x="423.78" y="465.80" width="3.72" height="6.50" fill="#3671B0" />
<rect x="427.10" y="465.80" width="3.72" height="6.50" fill="#8BBDD9" />
<rect x="430.42" y="465.80" width="3.72" height="6.50" fill="#8BBDD9" />
<rect x="433.74" y="465.80" width="3.72" height="6.50" fill="#8BBDD9" />
<rect x="437.06" y="465.80" width="3.72" height="6.50" fill="#8BBDD9" />
<rect x="440.38" y="465.80" width="3.72" height="6.50" fill="#F8CDB8" />
<rect x="443.70" y="465.80" width="3.72" height="6.50" fill="#243763" />
<rect x="447.02" y="465.80" width="3.72" height="6.50" fill="#3671B0" />
<rect x="450.34" y="465.80" width="3.72" height="6.50" fill="#8BBDD9" />
<rect x="453.66" y="465.80" width="3.72" height="6.50" fill="#4B8FC2" />
<rect x="456.98" y="465.80" width="3.72" height="6.50" fill="#4B8FC2" />
<rect x="460.30" y="465.80" width="3.72" height="6.50" fill="#4B8FC2" />
<rect x="463.62" y="465.80" width="3.72" height="6.50" fill="#F8CDB8" />
<rect x="466.94" y="465.80" width="3.72" height="6.50" fill="#4B8FC2" />
<rect x="470.26" y="465.80" width="3.72" height="6.50" fill="#4B8FC2" />
<rect x="393.90" y="471.90" width="3.72" height="6.50" fill="#3671B0" />
<rect x="397.22" y="471.90" width="3.72" height="6.50" fill="#243763" />
<rect x="400.54" y="471.90" width="3.72" height="6.50" fill="#243763" />
<rect x="403.86" y="471.90" width="3.72" height="6.50" fill="#3671B0" />
<rect x="407.18" y="471.90" width="3.72" height="6.50" fill="#243763" />
<rect x="410.50" y="471.90" width="3.72" height="6.50" fill="#2B5B9A" />
<rect x="413.82" y="471.90" width="3.72" height="6.50" fill="#243763" />
<rect x="417.14" y="471.90" width="3.72" height="6.50" fill="#243763" />
<rect x="420.46" y="471.90" width="3.72" height="6.50" fill="#243763" />
<rect x="423.78" y="471.90" width="3.72" height="6.50" fill="#243763" />
<rect x="427.10" y="471.90" width="3.72" height="6.50" fill="#4B8FC2" />
<rect x="430.42" y="471.90" width="3.72" height="6.50" fill="#243763" />
<rect x="433.74" y="471.90" width="3.72" height="6.50" fill="#2B5B9A" />
<rect x="437.06" y="471.90" width="3.72" height="6.50" fill="#3671B0" />
<rect x="440.38" y="471.90" width="3.72" height="6.50" fill="#2B5B9A" />
<rect x="443.70" y="471.90" width="3.72" height="6.50" fill="#2B5B9A" />
<rect x="447.02" y="471.90" width="3.72" height="6.50" fill="#243763" />
<rect x="450.34" y="471.90" width="3.72" height="6.50" fill="#243763" />
<rect x="453.66" y="471.90" width="3.72" height="6.50" fill="#243763" />
<rect x="456.98" y="471.90" width="3.72" height="6.50" fill="#243763" />
<rect x="460.30" y="471.90" width="3.72" height="6.50" fill="#243763" />
<rect x="463.62" y="471.90" width="3.72" height="6.50" fill="#4B8FC2" />
<rect x="466.94" y="471.90" width="3.72" height="6.50" fill="#243763" />
<rect x="470.26" y="471.90" width="3.72" height="6.50" fill="#243763" />
<rect x="393.90" y="478.00" width="3.72" height="6.50" fill="#8BBDD9" />
<rect x="397.22" y="478.00" width="3.72" height="6.50" fill="#4B8FC2" />
<rect x="400.54" y="478.00" width="3.72" height="6.50" fill="#8BBDD9" />
<rect x="403.86" y="478.00" width="3.72" height="6.50" fill="#8BBDD9" />
<rect x="407.18" y="478.00" width="3.72" height="6.50" fill="#C8DEEB" />
<rect x="410.50" y="478.00" width="3.72" height="6.50" fill="#8BBDD9" />
<rect x="413.82" y="478.00" width="3.72" height="6.50" fill="#4B8FC2" />
<rect x="417.14" y="478.00" width="3.72" height="6.50" fill="#8BBDD9" />
<rect x="420.46" y="478.00" width="3.72" height="6.50" fill="#243763" />
<rect x="423.78" y="478.00" width="3.72" height="6.50" fill="#8BBDD9" />
<rect x="427.10" y="478.00" width="3.72" height="6.50" fill="#C8DEEB" />
<rect x="430.42" y="478.00" width="3.72" height="6.50" fill="#4B8FC2" />
<rect x="433.74" y="478.00" width="3.72" height="6.50" fill="#8BBDD9" />
<rect x="437.06" y="478.00" width="3.72" height="6.50" fill="#F3EEEC" />
<rect x="440.38" y="478.00" width="3.72" height="6.50" fill="#F3EEEC" />
<rect x="443.70" y="478.00" width="3.72" height="6.50" fill="#C8DEEB" />
<rect x="447.02" y="478.00" width="3.72" height="6.50" fill="#3671B0" />
<rect x="450.34" y="478.00" width="3.72" height="6.50" fill="#2B5B9A" />
<rect x="453.66" y="478.00" width="3.72" height="6.50" fill="#C8DEEB" />
<rect x="456.98" y="478.00" width="3.72" height="6.50" fill="#8BBDD9" />
<rect x="460.30" y="478.00" width="3.72" height="6.50" fill="#F8CDB8" />
<rect x="463.62" y="478.00" width="3.72" height="6.50" fill="#C8DEEB" />
<rect x="466.94" y="478.00" width="3.72" height="6.50" fill="#F3EEEC" />
<rect x="470.26" y="478.00" width="3.72" height="6.50" fill="#8BBDD9" />
<rect x="393.90" y="484.10" width="3.72" height="6.50" fill="#3671B0" />
<rect x="397.22" y="484.10" width="3.72" height="6.50" fill="#3671B0" />
<rect x="400.54" y="484.10" width="3.72" height="6.50" fill="#243763" />
<rect x="403.86" y="484.10" width="3.72" height="6.50" fill="#243763" />
<rect x="407.18" y="484.10" width="3.72" height="6.50" fill="#2B5B9A" />
<rect x="410.50" y="484.10" width="3.72" height="6.50" fill="#243763" />
<rect x="413.82" y="484.10" width="3.72" height="6.50" fill="#4B8FC2" />
<rect x="417.14" y="484.10" width="3.72" height="6.50" fill="#3671B0" />
<rect x="420.46" y="484.10" width="3.72" height="6.50" fill="#3671B0" />
<rect x="423.78" y="484.10" width="3.72" height="6.50" fill="#3671B0" />
<rect x="427.10" y="484.10" width="3.72" height="6.50" fill="#2B5B9A" />
<rect x="430.42" y="484.10" width="3.72" height="6.50" fill="#243763" />
<rect x="433.74" y="484.10" width="3.72" height="6.50" fill="#3671B0" />
<rect x="437.06" y="484.10" width="3.72" height="6.50" fill="#2B5B9A" />
<rect x="440.38" y="484.10" width="3.72" height="6.50" fill="#3671B0" />
<rect x="443.70" y="484.10" width="3.72" height="6.50" fill="#243763" />
<rect x="447.02" y="484.10" width="3.72" height="6.50" fill="#EC9A7E" />
<rect x="450.34" y="484.10" width="3.72" height="6.50" fill="#243763" />
<rect x="453.66" y="484.10" width="3.72" height="6.50" fill="#243763" />
<rect x="456.98" y="484.10" width="3.72" height="6.50" fill="#C8DEEB" />
<rect x="460.30" y="484.10" width="3.72" height="6.50" fill="#3671B0" />
<rect x="463.62" y="484.10" width="3.72" height="6.50" fill="#3671B0" />
<rect x="466.94" y="484.10" width="3.72" height="6.50" fill="#243763" />
<rect x="470.26" y="484.10" width="3.72" height="6.50" fill="#2B5B9A" />
<rect x="393.30" y="392.20" width="81.00" height="98.40" fill="none" stroke="#111" stroke-width="1.2"/>
<rect x="478.00" y="392.60" width="3.73" height="6.50" fill="#4B8FC2" />
<rect x="481.33" y="392.60" width="3.73" height="6.50" fill="#F3EEEC" />
<rect x="484.66" y="392.60" width="3.73" height="6.50" fill="#4B8FC2" />
<rect x="487.99" y="392.60" width="3.73" height="6.50" fill="#243763" />
<rect x="491.32" y="392.60" width="3.73" height="6.50" fill="#3671B0" />
<rect x="494.65" y="392.60" width="3.73" height="6.50" fill="#8BBDD9" />
<rect x="497.98" y="392.60" width="3.73" height="6.50" fill="#243763" />
<rect x="501.31" y="392.60" width="3.73" height="6.50" fill="#C8DEEB" />
<rect x="504.64" y="392.60" width="3.73" height="6.50" fill="#3671B0" />
<rect x="507.97" y="392.60" width="3.73" height="6.50" fill="#4B8FC2" />
<rect x="511.30" y="392.60" width="3.73" height="6.50" fill="#2B5B9A" />
<rect x="514.63" y="392.60" width="3.73" height="6.50" fill="#2B5B9A" />
<rect x="517.96" y="392.60" width="3.73" height="6.50" fill="#4B8FC2" />
<rect x="478.00" y="398.70" width="3.73" height="6.50" fill="#F3EEEC" />
<rect x="481.33" y="398.70" width="3.73" height="6.50" fill="#8BBDD9" />
<rect x="484.66" y="398.70" width="3.73" height="6.50" fill="#243763" />
<rect x="487.99" y="398.70" width="3.73" height="6.50" fill="#243763" />
<rect x="491.32" y="398.70" width="3.73" height="6.50" fill="#243763" />
<rect x="494.65" y="398.70" width="3.73" height="6.50" fill="#243763" />
<rect x="497.98" y="398.70" width="3.73" height="6.50" fill="#243763" />
<rect x="501.31" y="398.70" width="3.73" height="6.50" fill="#243763" />
<rect x="504.64" y="398.70" width="3.73" height="6.50" fill="#4B8FC2" />
<rect x="507.97" y="398.70" width="3.73" height="6.50" fill="#4B8FC2" />
<rect x="511.30" y="398.70" width="3.73" height="6.50" fill="#243763" />
<rect x="514.63" y="398.70" width="3.73" height="6.50" fill="#243763" />
<rect x="517.96" y="398.70" width="3.73" height="6.50" fill="#3671B0" />
<rect x="478.00" y="404.80" width="3.73" height="6.50" fill="#3671B0" />
<rect x="481.33" y="404.80" width="3.73" height="6.50" fill="#4B8FC2" />
<rect x="484.66" y="404.80" width="3.73" height="6.50" fill="#3671B0" />
<rect x="487.99" y="404.80" width="3.73" height="6.50" fill="#243763" />
<rect x="491.32" y="404.80" width="3.73" height="6.50" fill="#243763" />
<rect x="494.65" y="404.80" width="3.73" height="6.50" fill="#2B5B9A" />
<rect x="497.98" y="404.80" width="3.73" height="6.50" fill="#2B5B9A" />
<rect x="501.31" y="404.80" width="3.73" height="6.50" fill="#2B5B9A" />
<rect x="504.64" y="404.80" width="3.73" height="6.50" fill="#243763" />
<rect x="507.97" y="404.80" width="3.73" height="6.50" fill="#243763" />
<rect x="511.30" y="404.80" width="3.73" height="6.50" fill="#243763" />
<rect x="514.63" y="404.80" width="3.73" height="6.50" fill="#2B5B9A" />
<rect x="517.96" y="404.80" width="3.73" height="6.50" fill="#3671B0" />
<rect x="478.00" y="410.90" width="3.73" height="6.50" fill="#4B8FC2" />
<rect x="481.33" y="410.90" width="3.73" height="6.50" fill="#C8DEEB" />
<rect x="484.66" y="410.90" width="3.73" height="6.50" fill="#3671B0" />
<rect x="487.99" y="410.90" width="3.73" height="6.50" fill="#243763" />
<rect x="491.32" y="410.90" width="3.73" height="6.50" fill="#2B5B9A" />
<rect x="494.65" y="410.90" width="3.73" height="6.50" fill="#3671B0" />
<rect x="497.98" y="410.90" width="3.73" height="6.50" fill="#243763" />
<rect x="501.31" y="410.90" width="3.73" height="6.50" fill="#4B8FC2" />
<rect x="504.64" y="410.90" width="3.73" height="6.50" fill="#243763" />
<rect x="507.97" y="410.90" width="3.73" height="6.50" fill="#3671B0" />
<rect x="511.30" y="410.90" width="3.73" height="6.50" fill="#2B5B9A" />
<rect x="514.63" y="410.90" width="3.73" height="6.50" fill="#243763" />
<rect x="517.96" y="410.90" width="3.73" height="6.50" fill="#2B5B9A" />
<rect x="478.00" y="417.00" width="3.73" height="6.50" fill="#4B8FC2" />
<rect x="481.33" y="417.00" width="3.73" height="6.50" fill="#C8DEEB" />
<rect x="484.66" y="417.00" width="3.73" height="6.50" fill="#3671B0" />
<rect x="487.99" y="417.00" width="3.73" height="6.50" fill="#243763" />
<rect x="491.32" y="417.00" width="3.73" height="6.50" fill="#3671B0" />
<rect x="494.65" y="417.00" width="3.73" height="6.50" fill="#C8DEEB" />
<rect x="497.98" y="417.00" width="3.73" height="6.50" fill="#243763" />
<rect x="501.31" y="417.00" width="3.73" height="6.50" fill="#3671B0" />
<rect x="504.64" y="417.00" width="3.73" height="6.50" fill="#4B8FC2" />
<rect x="507.97" y="417.00" width="3.73" height="6.50" fill="#4B8FC2" />
<rect x="511.30" y="417.00" width="3.73" height="6.50" fill="#4B8FC2" />
<rect x="514.63" y="417.00" width="3.73" height="6.50" fill="#243763" />
<rect x="517.96" y="417.00" width="3.73" height="6.50" fill="#2B5B9A" />
<rect x="478.00" y="423.10" width="3.73" height="6.50" fill="#4B8FC2" />
<rect x="481.33" y="423.10" width="3.73" height="6.50" fill="#F3EEEC" />
<rect x="484.66" y="423.10" width="3.73" height="6.50" fill="#4B8FC2" />
<rect x="487.99" y="423.10" width="3.73" height="6.50" fill="#243763" />
<rect x="491.32" y="423.10" width="3.73" height="6.50" fill="#243763" />
<rect x="494.65" y="423.10" width="3.73" height="6.50" fill="#2B5B9A" />
<rect x="497.98" y="423.10" width="3.73" height="6.50" fill="#243763" />
<rect x="501.31" y="423.10" width="3.73" height="6.50" fill="#4B8FC2" />
<rect x="504.64" y="423.10" width="3.73" height="6.50" fill="#243763" />
<rect x="507.97" y="423.10" width="3.73" height="6.50" fill="#243763" />
<rect x="511.30" y="423.10" width="3.73" height="6.50" fill="#243763" />
<rect x="514.63" y="423.10" width="3.73" height="6.50" fill="#243763" />
<rect x="517.96" y="423.10" width="3.73" height="6.50" fill="#243763" />
<rect x="478.00" y="429.20" width="3.73" height="6.50" fill="#4B8FC2" />
<rect x="481.33" y="429.20" width="3.73" height="6.50" fill="#C44A45" />
<rect x="484.66" y="429.20" width="3.73" height="6.50" fill="#C8DEEB" />
<rect x="487.99" y="429.20" width="3.73" height="6.50" fill="#243763" />
<rect x="491.32" y="429.20" width="3.73" height="6.50" fill="#3671B0" />
<rect x="494.65" y="429.20" width="3.73" height="6.50" fill="#4B8FC2" />
<rect x="497.98" y="429.20" width="3.73" height="6.50" fill="#4B8FC2" />
<rect x="501.31" y="429.20" width="3.73" height="6.50" fill="#4B8FC2" />
<rect x="504.64" y="429.20" width="3.73" height="6.50" fill="#3671B0" />
<rect x="507.97" y="429.20" width="3.73" height="6.50" fill="#F3EEEC" />
<rect x="511.30" y="429.20" width="3.73" height="6.50" fill="#243763" />
<rect x="514.63" y="429.20" width="3.73" height="6.50" fill="#3671B0" />
<rect x="517.96" y="429.20" width="3.73" height="6.50" fill="#8BBDD9" />
<rect x="478.00" y="435.30" width="3.73" height="6.50" fill="#2B5B9A" />
<rect x="481.33" y="435.30" width="3.73" height="6.50" fill="#F8CDB8" />
<rect x="484.66" y="435.30" width="3.73" height="6.50" fill="#8BBDD9" />
<rect x="487.99" y="435.30" width="3.73" height="6.50" fill="#243763" />
<rect x="491.32" y="435.30" width="3.73" height="6.50" fill="#3671B0" />
<rect x="494.65" y="435.30" width="3.73" height="6.50" fill="#F8CDB8" />
<rect x="497.98" y="435.30" width="3.73" height="6.50" fill="#243763" />
<rect x="501.31" y="435.30" width="3.73" height="6.50" fill="#3671B0" />
<rect x="504.64" y="435.30" width="3.73" height="6.50" fill="#243763" />
<rect x="507.97" y="435.30" width="3.73" height="6.50" fill="#F3EEEC" />
<rect x="511.30" y="435.30" width="3.73" height="6.50" fill="#243763" />
<rect x="514.63" y="435.30" width="3.73" height="6.50" fill="#243763" />
<rect x="517.96" y="435.30" width="3.73" height="6.50" fill="#243763" />
<rect x="478.00" y="441.40" width="3.73" height="6.50" fill="#8BBDD9" />
<rect x="481.33" y="441.40" width="3.73" height="6.50" fill="#F8CDB8" />
<rect x="484.66" y="441.40" width="3.73" height="6.50" fill="#8BBDD9" />
<rect x="487.99" y="441.40" width="3.73" height="6.50" fill="#243763" />
<rect x="491.32" y="441.40" width="3.73" height="6.50" fill="#3671B0" />
<rect x="494.65" y="441.40" width="3.73" height="6.50" fill="#8BBDD9" />
<rect x="497.98" y="441.40" width="3.73" height="6.50" fill="#2B5B9A" />
<rect x="501.31" y="441.40" width="3.73" height="6.50" fill="#4B8FC2" />
<rect x="504.64" y="441.40" width="3.73" height="6.50" fill="#3671B0" />
<rect x="507.97" y="441.40" width="3.73" height="6.50" fill="#C8DEEB" />
<rect x="511.30" y="441.40" width="3.73" height="6.50" fill="#4B8FC2" />
<rect x="514.63" y="441.40" width="3.73" height="6.50" fill="#3671B0" />
<rect x="517.96" y="441.40" width="3.73" height="6.50" fill="#4B8FC2" />
<rect x="478.00" y="447.50" width="3.73" height="6.50" fill="#4B8FC2" />
<rect x="481.33" y="447.50" width="3.73" height="6.50" fill="#C44A45" />
<rect x="484.66" y="447.50" width="3.73" height="6.50" fill="#4B8FC2" />
<rect x="487.99" y="447.50" width="3.73" height="6.50" fill="#3671B0" />
<rect x="491.32" y="447.50" width="3.73" height="6.50" fill="#3671B0" />
<rect x="494.65" y="447.50" width="3.73" height="6.50" fill="#F3EEEC" />
<rect x="497.98" y="447.50" width="3.73" height="6.50" fill="#3671B0" />
<rect x="501.31" y="447.50" width="3.73" height="6.50" fill="#4B8FC2" />
<rect x="504.64" y="447.50" width="3.73" height="6.50" fill="#3671B0" />
<rect x="507.97" y="447.50" width="3.73" height="6.50" fill="#8BBDD9" />
<rect x="511.30" y="447.50" width="3.73" height="6.50" fill="#2B5B9A" />
<rect x="514.63" y="447.50" width="3.73" height="6.50" fill="#F3EEEC" />
<rect x="517.96" y="447.50" width="3.73" height="6.50" fill="#F3EEEC" />
<rect x="478.00" y="453.60" width="3.73" height="6.50" fill="#243763" />
<rect x="481.33" y="453.60" width="3.73" height="6.50" fill="#243763" />
<rect x="484.66" y="453.60" width="3.73" height="6.50" fill="#243763" />
<rect x="487.99" y="453.60" width="3.73" height="6.50" fill="#243763" />
<rect x="491.32" y="453.60" width="3.73" height="6.50" fill="#243763" />
<rect x="494.65" y="453.60" width="3.73" height="6.50" fill="#243763" />
<rect x="497.98" y="453.60" width="3.73" height="6.50" fill="#243763" />
<rect x="501.31" y="453.60" width="3.73" height="6.50" fill="#243763" />
<rect x="504.64" y="453.60" width="3.73" height="6.50" fill="#243763" />
<rect x="507.97" y="453.60" width="3.73" height="6.50" fill="#243763" />
<rect x="511.30" y="453.60" width="3.73" height="6.50" fill="#243763" />
<rect x="514.63" y="453.60" width="3.73" height="6.50" fill="#243763" />
<rect x="517.96" y="453.60" width="3.73" height="6.50" fill="#3671B0" />
<rect x="478.00" y="459.70" width="3.73" height="6.50" fill="#4B8FC2" />
<rect x="481.33" y="459.70" width="3.73" height="6.50" fill="#F8CDB8" />
<rect x="484.66" y="459.70" width="3.73" height="6.50" fill="#C8DEEB" />
<rect x="487.99" y="459.70" width="3.73" height="6.50" fill="#2B5B9A" />
<rect x="491.32" y="459.70" width="3.73" height="6.50" fill="#243763" />
<rect x="494.65" y="459.70" width="3.73" height="6.50" fill="#F8CDB8" />
<rect x="497.98" y="459.70" width="3.73" height="6.50" fill="#3671B0" />
<rect x="501.31" y="459.70" width="3.73" height="6.50" fill="#4B8FC2" />
<rect x="504.64" y="459.70" width="3.73" height="6.50" fill="#8BBDD9" />
<rect x="507.97" y="459.70" width="3.73" height="6.50" fill="#8BBDD9" />
<rect x="511.30" y="459.70" width="3.73" height="6.50" fill="#3671B0" />
<rect x="514.63" y="459.70" width="3.73" height="6.50" fill="#8BBDD9" />
<rect x="517.96" y="459.70" width="3.73" height="6.50" fill="#8BBDD9" />
<rect x="478.00" y="465.80" width="3.73" height="6.50" fill="#4B8FC2" />
<rect x="481.33" y="465.80" width="3.73" height="6.50" fill="#EC9A7E" />
<rect x="484.66" y="465.80" width="3.73" height="6.50" fill="#3671B0" />
<rect x="487.99" y="465.80" width="3.73" height="6.50" fill="#4B8FC2" />
<rect x="491.32" y="465.80" width="3.73" height="6.50" fill="#243763" />
<rect x="494.65" y="465.80" width="3.73" height="6.50" fill="#C8DEEB" />
<rect x="497.98" y="465.80" width="3.73" height="6.50" fill="#4B8FC2" />
<rect x="501.31" y="465.80" width="3.73" height="6.50" fill="#2B5B9A" />
<rect x="504.64" y="465.80" width="3.73" height="6.50" fill="#8BBDD9" />
<rect x="507.97" y="465.80" width="3.73" height="6.50" fill="#EC9A7E" />
<rect x="511.30" y="465.80" width="3.73" height="6.50" fill="#3671B0" />
<rect x="514.63" y="465.80" width="3.73" height="6.50" fill="#78182A" />
<rect x="517.96" y="465.80" width="3.73" height="6.50" fill="#78182A" />
<rect x="478.00" y="471.90" width="3.73" height="6.50" fill="#C8DEEB" />
<rect x="481.33" y="471.90" width="3.73" height="6.50" fill="#C8DEEB" />
<rect x="484.66" y="471.90" width="3.73" height="6.50" fill="#3671B0" />
<rect x="487.99" y="471.90" width="3.73" height="6.50" fill="#243763" />
<rect x="491.32" y="471.90" width="3.73" height="6.50" fill="#243763" />
<rect x="494.65" y="471.90" width="3.73" height="6.50" fill="#4B8FC2" />
<rect x="497.98" y="471.90" width="3.73" height="6.50" fill="#243763" />
<rect x="501.31" y="471.90" width="3.73" height="6.50" fill="#3671B0" />
<rect x="504.64" y="471.90" width="3.73" height="6.50" fill="#2B5B9A" />
<rect x="507.97" y="471.90" width="3.73" height="6.50" fill="#F3EEEC" />
<rect x="511.30" y="471.90" width="3.73" height="6.50" fill="#243763" />
<rect x="514.63" y="471.90" width="3.73" height="6.50" fill="#2B5B9A" />
<rect x="517.96" y="471.90" width="3.73" height="6.50" fill="#3671B0" />
<rect x="478.00" y="478.00" width="3.73" height="6.50" fill="#F3EEEC" />
<rect x="481.33" y="478.00" width="3.73" height="6.50" fill="#F8CDB8" />
<rect x="484.66" y="478.00" width="3.73" height="6.50" fill="#8BBDD9" />
<rect x="487.99" y="478.00" width="3.73" height="6.50" fill="#2B5B9A" />
<rect x="491.32" y="478.00" width="3.73" height="6.50" fill="#2B5B9A" />
<rect x="494.65" y="478.00" width="3.73" height="6.50" fill="#F3EEEC" />
<rect x="497.98" y="478.00" width="3.73" height="6.50" fill="#3671B0" />
<rect x="501.31" y="478.00" width="3.73" height="6.50" fill="#8BBDD9" />
<rect x="504.64" y="478.00" width="3.73" height="6.50" fill="#C8DEEB" />
<rect x="507.97" y="478.00" width="3.73" height="6.50" fill="#C8DEEB" />
<rect x="511.30" y="478.00" width="3.73" height="6.50" fill="#EC9A7E" />
<rect x="514.63" y="478.00" width="3.73" height="6.50" fill="#4B8FC2" />
<rect x="517.96" y="478.00" width="3.73" height="6.50" fill="#8BBDD9" />
<rect x="478.00" y="484.10" width="3.73" height="6.50" fill="#3671B0" />
<rect x="481.33" y="484.10" width="3.73" height="6.50" fill="#3671B0" />
<rect x="484.66" y="484.10" width="3.73" height="6.50" fill="#2B5B9A" />
<rect x="487.99" y="484.10" width="3.73" height="6.50" fill="#243763" />
<rect x="491.32" y="484.10" width="3.73" height="6.50" fill="#243763" />
<rect x="494.65" y="484.10" width="3.73" height="6.50" fill="#C8DEEB" />
<rect x="497.98" y="484.10" width="3.73" height="6.50" fill="#243763" />
<rect x="501.31" y="484.10" width="3.73" height="6.50" fill="#2B5B9A" />
<rect x="504.64" y="484.10" width="3.73" height="6.50" fill="#2B5B9A" />
<rect x="507.97" y="484.10" width="3.73" height="6.50" fill="#3671B0" />
<rect x="511.30" y="484.10" width="3.73" height="6.50" fill="#2B5B9A" />
<rect x="514.63" y="484.10" width="3.73" height="6.50" fill="#2B5B9A" />
<rect x="517.96" y="484.10" width="3.73" height="6.50" fill="#243763" />
<rect x="477.40" y="392.20" width="44.30" height="98.40" fill="none" stroke="#111" stroke-width="1.2"/>
<rect x="525.00" y="392.60" width="3.74" height="6.50" fill="#4B8FC2" />
<rect x="528.34" y="392.60" width="3.74" height="6.50" fill="#4B8FC2" />
<rect x="531.68" y="392.60" width="3.74" height="6.50" fill="#C8DEEB" />
<rect x="535.02" y="392.60" width="3.74" height="6.50" fill="#3671B0" />
<rect x="538.36" y="392.60" width="3.74" height="6.50" fill="#4B8FC2" />
<rect x="541.70" y="392.60" width="3.74" height="6.50" fill="#4B8FC2" />
<rect x="545.04" y="392.60" width="3.74" height="6.50" fill="#8BBDD9" />
<rect x="548.38" y="392.60" width="3.74" height="6.50" fill="#78182A" />
<rect x="551.72" y="392.60" width="3.74" height="6.50" fill="#78182A" />
<rect x="555.06" y="392.60" width="3.74" height="6.50" fill="#2B5B9A" />
<rect x="558.40" y="392.60" width="3.74" height="6.50" fill="#F8CDB8" />
<rect x="561.74" y="392.60" width="3.74" height="6.50" fill="#C8DEEB" />
<rect x="565.08" y="392.60" width="3.74" height="6.50" fill="#C44A45" />
<rect x="568.42" y="392.60" width="3.74" height="6.50" fill="#F3EEEC" />
<rect x="571.76" y="392.60" width="3.74" height="6.50" fill="#F3EEEC" />
<rect x="575.10" y="392.60" width="3.74" height="6.50" fill="#3671B0" />
<rect x="578.44" y="392.60" width="3.74" height="6.50" fill="#3671B0" />
<rect x="581.78" y="392.60" width="3.74" height="6.50" fill="#3671B0" />
<rect x="585.12" y="392.60" width="3.74" height="6.50" fill="#4B8FC2" />
<rect x="588.46" y="392.60" width="3.74" height="6.50" fill="#2B5B9A" />
<rect x="591.80" y="392.60" width="3.74" height="6.50" fill="#3671B0" />
<rect x="595.14" y="392.60" width="3.74" height="6.50" fill="#8BBDD9" />
<rect x="525.00" y="398.70" width="3.74" height="6.50" fill="#F3EEEC" />
<rect x="528.34" y="398.70" width="3.74" height="6.50" fill="#EC9A7E" />
<rect x="531.68" y="398.70" width="3.74" height="6.50" fill="#8BBDD9" />
<rect x="535.02" y="398.70" width="3.74" height="6.50" fill="#243763" />
<rect x="538.36" y="398.70" width="3.74" height="6.50" fill="#3671B0" />
<rect x="541.70" y="398.70" width="3.74" height="6.50" fill="#2B5B9A" />
<rect x="545.04" y="398.70" width="3.74" height="6.50" fill="#C8DEEB" />
<rect x="548.38" y="398.70" width="3.74" height="6.50" fill="#8BBDD9" />
<rect x="551.72" y="398.70" width="3.74" height="6.50" fill="#2B5B9A" />
<rect x="555.06" y="398.70" width="3.74" height="6.50" fill="#3671B0" />
<rect x="558.40" y="398.70" width="3.74" height="6.50" fill="#78182A" />
<rect x="561.74" y="398.70" width="3.74" height="6.50" fill="#8BBDD9" />
<rect x="565.08" y="398.70" width="3.74" height="6.50" fill="#243763" />
<rect x="568.42" y="398.70" width="3.74" height="6.50" fill="#EC9A7E" />
<rect x="571.76" y="398.70" width="3.74" height="6.50" fill="#4B8FC2" />
<rect x="575.10" y="398.70" width="3.74" height="6.50" fill="#243763" />
<rect x="578.44" y="398.70" width="3.74" height="6.50" fill="#4B8FC2" />
<rect x="581.78" y="398.70" width="3.74" height="6.50" fill="#243763" />
<rect x="585.12" y="398.70" width="3.74" height="6.50" fill="#243763" />
<rect x="588.46" y="398.70" width="3.74" height="6.50" fill="#4B8FC2" />
<rect x="591.80" y="398.70" width="3.74" height="6.50" fill="#243763" />
<rect x="595.14" y="398.70" width="3.74" height="6.50" fill="#243763" />
<rect x="525.00" y="404.80" width="3.74" height="6.50" fill="#F3EEEC" />
<rect x="528.34" y="404.80" width="3.74" height="6.50" fill="#3671B0" />
<rect x="531.68" y="404.80" width="3.74" height="6.50" fill="#3671B0" />
<rect x="535.02" y="404.80" width="3.74" height="6.50" fill="#4B8FC2" />
<rect x="538.36" y="404.80" width="3.74" height="6.50" fill="#243763" />
<rect x="541.70" y="404.80" width="3.74" height="6.50" fill="#4B8FC2" />
<rect x="545.04" y="404.80" width="3.74" height="6.50" fill="#3671B0" />
<rect x="548.38" y="404.80" width="3.74" height="6.50" fill="#78182A" />
<rect x="551.72" y="404.80" width="3.74" height="6.50" fill="#C8DEEB" />
<rect x="555.06" y="404.80" width="3.74" height="6.50" fill="#2B5B9A" />
<rect x="558.40" y="404.80" width="3.74" height="6.50" fill="#8BBDD9" />
<rect x="561.74" y="404.80" width="3.74" height="6.50" fill="#243763" />
<rect x="565.08" y="404.80" width="3.74" height="6.50" fill="#2B5B9A" />
<rect x="568.42" y="404.80" width="3.74" height="6.50" fill="#4B8FC2" />
<rect x="571.76" y="404.80" width="3.74" height="6.50" fill="#8BBDD9" />
<rect x="575.10" y="404.80" width="3.74" height="6.50" fill="#243763" />
<rect x="578.44" y="404.80" width="3.74" height="6.50" fill="#3671B0" />
<rect x="581.78" y="404.80" width="3.74" height="6.50" fill="#2B5B9A" />
<rect x="585.12" y="404.80" width="3.74" height="6.50" fill="#243763" />
<rect x="588.46" y="404.80" width="3.74" height="6.50" fill="#243763" />
<rect x="591.80" y="404.80" width="3.74" height="6.50" fill="#2B5B9A" />
<rect x="595.14" y="404.80" width="3.74" height="6.50" fill="#3671B0" />
<rect x="525.00" y="410.90" width="3.74" height="6.50" fill="#4B8FC2" />
<rect x="528.34" y="410.90" width="3.74" height="6.50" fill="#4B8FC2" />
<rect x="531.68" y="410.90" width="3.74" height="6.50" fill="#243763" />
<rect x="535.02" y="410.90" width="3.74" height="6.50" fill="#8BBDD9" />
<rect x="538.36" y="410.90" width="3.74" height="6.50" fill="#8BBDD9" />
<rect x="541.70" y="410.90" width="3.74" height="6.50" fill="#4B8FC2" />
<rect x="545.04" y="410.90" width="3.74" height="6.50" fill="#8BBDD9" />
<rect x="548.38" y="410.90" width="3.74" height="6.50" fill="#EC9A7E" />
<rect x="551.72" y="410.90" width="3.74" height="6.50" fill="#78182A" />
<rect x="555.06" y="410.90" width="3.74" height="6.50" fill="#2B5B9A" />
<rect x="558.40" y="410.90" width="3.74" height="6.50" fill="#F3EEEC" />
<rect x="561.74" y="410.90" width="3.74" height="6.50" fill="#4B8FC2" />
<rect x="565.08" y="410.90" width="3.74" height="6.50" fill="#3671B0" />
<rect x="568.42" y="410.90" width="3.74" height="6.50" fill="#3671B0" />
<rect x="571.76" y="410.90" width="3.74" height="6.50" fill="#8BBDD9" />
<rect x="575.10" y="410.90" width="3.74" height="6.50" fill="#2B5B9A" />
<rect x="578.44" y="410.90" width="3.74" height="6.50" fill="#4B8FC2" />
<rect x="581.78" y="410.90" width="3.74" height="6.50" fill="#3671B0" />
<rect x="585.12" y="410.90" width="3.74" height="6.50" fill="#3671B0" />
<rect x="588.46" y="410.90" width="3.74" height="6.50" fill="#2B5B9A" />
<rect x="591.80" y="410.90" width="3.74" height="6.50" fill="#243763" />
<rect x="595.14" y="410.90" width="3.74" height="6.50" fill="#2B5B9A" />
<rect x="525.00" y="417.00" width="3.74" height="6.50" fill="#4B8FC2" />
<rect x="528.34" y="417.00" width="3.74" height="6.50" fill="#2B5B9A" />
<rect x="531.68" y="417.00" width="3.74" height="6.50" fill="#243763" />
<rect x="535.02" y="417.00" width="3.74" height="6.50" fill="#C8DEEB" />
<rect x="538.36" y="417.00" width="3.74" height="6.50" fill="#2B5B9A" />
<rect x="541.70" y="417.00" width="3.74" height="6.50" fill="#4B8FC2" />
<rect x="545.04" y="417.00" width="3.74" height="6.50" fill="#8BBDD9" />
<rect x="548.38" y="417.00" width="3.74" height="6.50" fill="#78182A" />
<rect x="551.72" y="417.00" width="3.74" height="6.50" fill="#4B8FC2" />
<rect x="555.06" y="417.00" width="3.74" height="6.50" fill="#3671B0" />
<rect x="558.40" y="417.00" width="3.74" height="6.50" fill="#8BBDD9" />
<rect x="561.74" y="417.00" width="3.74" height="6.50" fill="#3671B0" />
<rect x="565.08" y="417.00" width="3.74" height="6.50" fill="#3671B0" />
<rect x="568.42" y="417.00" width="3.74" height="6.50" fill="#4B8FC2" />
<rect x="571.76" y="417.00" width="3.74" height="6.50" fill="#3671B0" />
<rect x="575.10" y="417.00" width="3.74" height="6.50" fill="#2B5B9A" />
<rect x="578.44" y="417.00" width="3.74" height="6.50" fill="#2B5B9A" />
<rect x="581.78" y="417.00" width="3.74" height="6.50" fill="#4B8FC2" />
<rect x="585.12" y="417.00" width="3.74" height="6.50" fill="#3671B0" />
<rect x="588.46" y="417.00" width="3.74" height="6.50" fill="#2B5B9A" />
<rect x="591.80" y="417.00" width="3.74" height="6.50" fill="#2B5B9A" />
<rect x="595.14" y="417.00" width="3.74" height="6.50" fill="#4B8FC2" />
<rect x="525.00" y="423.10" width="3.74" height="6.50" fill="#C8DEEB" />
<rect x="528.34" y="423.10" width="3.74" height="6.50" fill="#8BBDD9" />
<rect x="531.68" y="423.10" width="3.74" height="6.50" fill="#4B8FC2" />
<rect x="535.02" y="423.10" width="3.74" height="6.50" fill="#C8DEEB" />
<rect x="538.36" y="423.10" width="3.74" height="6.50" fill="#8BBDD9" />
<rect x="541.70" y="423.10" width="3.74" height="6.50" fill="#243763" />
<rect x="545.04" y="423.10" width="3.74" height="6.50" fill="#2B5B9A" />
<rect x="548.38" y="423.10" width="3.74" height="6.50" fill="#2B5B9A" />
<rect x="551.72" y="423.10" width="3.74" height="6.50" fill="#78182A" />
<rect x="555.06" y="423.10" width="3.74" height="6.50" fill="#3671B0" />
<rect x="558.40" y="423.10" width="3.74" height="6.50" fill="#2B5B9A" />
<rect x="561.74" y="423.10" width="3.74" height="6.50" fill="#C8DEEB" />
<rect x="565.08" y="423.10" width="3.74" height="6.50" fill="#C8DEEB" />
<rect x="568.42" y="423.10" width="3.74" height="6.50" fill="#4B8FC2" />
<rect x="571.76" y="423.10" width="3.74" height="6.50" fill="#2B5B9A" />
<rect x="575.10" y="423.10" width="3.74" height="6.50" fill="#243763" />
<rect x="578.44" y="423.10" width="3.74" height="6.50" fill="#4B8FC2" />
<rect x="581.78" y="423.10" width="3.74" height="6.50" fill="#8BBDD9" />
<rect x="585.12" y="423.10" width="3.74" height="6.50" fill="#4B8FC2" />
<rect x="588.46" y="423.10" width="3.74" height="6.50" fill="#2B5B9A" />
<rect x="591.80" y="423.10" width="3.74" height="6.50" fill="#2B5B9A" />
<rect x="595.14" y="423.10" width="3.74" height="6.50" fill="#4B8FC2" />
<rect x="525.00" y="429.20" width="3.74" height="6.50" fill="#EC9A7E" />
<rect x="528.34" y="429.20" width="3.74" height="6.50" fill="#78182A" />
<rect x="531.68" y="429.20" width="3.74" height="6.50" fill="#3671B0" />
<rect x="535.02" y="429.20" width="3.74" height="6.50" fill="#78182A" />
<rect x="538.36" y="429.20" width="3.74" height="6.50" fill="#F8CDB8" />
<rect x="541.70" y="429.20" width="3.74" height="6.50" fill="#2B5B9A" />
<rect x="545.04" y="429.20" width="3.74" height="6.50" fill="#F3EEEC" />
<rect x="548.38" y="429.20" width="3.74" height="6.50" fill="#F8CDB8" />
<rect x="551.72" y="429.20" width="3.74" height="6.50" fill="#EC9A7E" />
<rect x="555.06" y="429.20" width="3.74" height="6.50" fill="#4B8FC2" />
<rect x="558.40" y="429.20" width="3.74" height="6.50" fill="#EC9A7E" />
<rect x="561.74" y="429.20" width="3.74" height="6.50" fill="#8BBDD9" />
<rect x="565.08" y="429.20" width="3.74" height="6.50" fill="#F3EEEC" />
<rect x="568.42" y="429.20" width="3.74" height="6.50" fill="#4B8FC2" />
<rect x="571.76" y="429.20" width="3.74" height="6.50" fill="#F3EEEC" />
<rect x="575.10" y="429.20" width="3.74" height="6.50" fill="#2B5B9A" />
<rect x="578.44" y="429.20" width="3.74" height="6.50" fill="#C8DEEB" />
<rect x="581.78" y="429.20" width="3.74" height="6.50" fill="#78182A" />
<rect x="585.12" y="429.20" width="3.74" height="6.50" fill="#4B8FC2" />
<rect x="588.46" y="429.20" width="3.74" height="6.50" fill="#243763" />
<rect x="591.80" y="429.20" width="3.74" height="6.50" fill="#3671B0" />
<rect x="595.14" y="429.20" width="3.74" height="6.50" fill="#4B8FC2" />
<rect x="525.00" y="435.30" width="3.74" height="6.50" fill="#C8DEEB" />
<rect x="528.34" y="435.30" width="3.74" height="6.50" fill="#F3EEEC" />
<rect x="531.68" y="435.30" width="3.74" height="6.50" fill="#F8CDB8" />
<rect x="535.02" y="435.30" width="3.74" height="6.50" fill="#8BBDD9" />
<rect x="538.36" y="435.30" width="3.74" height="6.50" fill="#EC9A7E" />
<rect x="541.70" y="435.30" width="3.74" height="6.50" fill="#243763" />
<rect x="545.04" y="435.30" width="3.74" height="6.50" fill="#243763" />
<rect x="548.38" y="435.30" width="3.74" height="6.50" fill="#4B8FC2" />
<rect x="551.72" y="435.30" width="3.74" height="6.50" fill="#F8CDB8" />
<rect x="555.06" y="435.30" width="3.74" height="6.50" fill="#8BBDD9" />
<rect x="558.40" y="435.30" width="3.74" height="6.50" fill="#F8CDB8" />
<rect x="561.74" y="435.30" width="3.74" height="6.50" fill="#C8DEEB" />
<rect x="565.08" y="435.30" width="3.74" height="6.50" fill="#78182A" />
<rect x="568.42" y="435.30" width="3.74" height="6.50" fill="#C8DEEB" />
<rect x="571.76" y="435.30" width="3.74" height="6.50" fill="#4B8FC2" />
<rect x="575.10" y="435.30" width="3.74" height="6.50" fill="#2B5B9A" />
<rect x="578.44" y="435.30" width="3.74" height="6.50" fill="#F8CDB8" />
<rect x="581.78" y="435.30" width="3.74" height="6.50" fill="#243763" />
<rect x="585.12" y="435.30" width="3.74" height="6.50" fill="#4B8FC2" />
<rect x="588.46" y="435.30" width="3.74" height="6.50" fill="#8BBDD9" />
<rect x="591.80" y="435.30" width="3.74" height="6.50" fill="#243763" />
<rect x="595.14" y="435.30" width="3.74" height="6.50" fill="#243763" />
<rect x="525.00" y="441.40" width="3.74" height="6.50" fill="#F8CDB8" />
<rect x="528.34" y="441.40" width="3.74" height="6.50" fill="#C8DEEB" />
<rect x="531.68" y="441.40" width="3.74" height="6.50" fill="#F8CDB8" />
<rect x="535.02" y="441.40" width="3.74" height="6.50" fill="#8BBDD9" />
<rect x="538.36" y="441.40" width="3.74" height="6.50" fill="#F8CDB8" />
<rect x="541.70" y="441.40" width="3.74" height="6.50" fill="#4B8FC2" />
<rect x="545.04" y="441.40" width="3.74" height="6.50" fill="#F8CDB8" />
<rect x="548.38" y="441.40" width="3.74" height="6.50" fill="#F3EEEC" />
<rect x="551.72" y="441.40" width="3.74" height="6.50" fill="#78182A" />
<rect x="555.06" y="441.40" width="3.74" height="6.50" fill="#4B8FC2" />
<rect x="558.40" y="441.40" width="3.74" height="6.50" fill="#F8CDB8" />
<rect x="561.74" y="441.40" width="3.74" height="6.50" fill="#8BBDD9" />
<rect x="565.08" y="441.40" width="3.74" height="6.50" fill="#C8DEEB" />
<rect x="568.42" y="441.40" width="3.74" height="6.50" fill="#F8CDB8" />
<rect x="571.76" y="441.40" width="3.74" height="6.50" fill="#8BBDD9" />
<rect x="575.10" y="441.40" width="3.74" height="6.50" fill="#4B8FC2" />
<rect x="578.44" y="441.40" width="3.74" height="6.50" fill="#C8DEEB" />
<rect x="581.78" y="441.40" width="3.74" height="6.50" fill="#8BBDD9" />
<rect x="585.12" y="441.40" width="3.74" height="6.50" fill="#C8DEEB" />
<rect x="588.46" y="441.40" width="3.74" height="6.50" fill="#4B8FC2" />
<rect x="591.80" y="441.40" width="3.74" height="6.50" fill="#4B8FC2" />
<rect x="595.14" y="441.40" width="3.74" height="6.50" fill="#4B8FC2" />
<rect x="525.00" y="447.50" width="3.74" height="6.50" fill="#F8CDB8" />
<rect x="528.34" y="447.50" width="3.74" height="6.50" fill="#F3EEEC" />
<rect x="531.68" y="447.50" width="3.74" height="6.50" fill="#F8CDB8" />
<rect x="535.02" y="447.50" width="3.74" height="6.50" fill="#8BBDD9" />
<rect x="538.36" y="447.50" width="3.74" height="6.50" fill="#EC9A7E" />
<rect x="541.70" y="447.50" width="3.74" height="6.50" fill="#4B8FC2" />
<rect x="545.04" y="447.50" width="3.74" height="6.50" fill="#4B8FC2" />
<rect x="548.38" y="447.50" width="3.74" height="6.50" fill="#F3EEEC" />
<rect x="551.72" y="447.50" width="3.74" height="6.50" fill="#78182A" />
<rect x="555.06" y="447.50" width="3.74" height="6.50" fill="#3671B0" />
<rect x="558.40" y="447.50" width="3.74" height="6.50" fill="#C8DEEB" />
<rect x="561.74" y="447.50" width="3.74" height="6.50" fill="#C8DEEB" />
<rect x="565.08" y="447.50" width="3.74" height="6.50" fill="#F8CDB8" />
<rect x="568.42" y="447.50" width="3.74" height="6.50" fill="#C8DEEB" />
<rect x="571.76" y="447.50" width="3.74" height="6.50" fill="#C8DEEB" />
<rect x="575.10" y="447.50" width="3.74" height="6.50" fill="#3671B0" />
<rect x="578.44" y="447.50" width="3.74" height="6.50" fill="#8BBDD9" />
<rect x="581.78" y="447.50" width="3.74" height="6.50" fill="#8BBDD9" />
<rect x="585.12" y="447.50" width="3.74" height="6.50" fill="#8BBDD9" />
<rect x="588.46" y="447.50" width="3.74" height="6.50" fill="#243763" />
<rect x="591.80" y="447.50" width="3.74" height="6.50" fill="#3671B0" />
<rect x="595.14" y="447.50" width="3.74" height="6.50" fill="#2B5B9A" />
<rect x="525.00" y="453.60" width="3.74" height="6.50" fill="#78182A" />
<rect x="528.34" y="453.60" width="3.74" height="6.50" fill="#F8CDB8" />
<rect x="531.68" y="453.60" width="3.74" height="6.50" fill="#243763" />
<rect x="535.02" y="453.60" width="3.74" height="6.50" fill="#78182A" />
<rect x="538.36" y="453.60" width="3.74" height="6.50" fill="#2B5B9A" />
<rect x="541.70" y="453.60" width="3.74" height="6.50" fill="#4B8FC2" />
<rect x="545.04" y="453.60" width="3.74" height="6.50" fill="#243763" />
<rect x="548.38" y="453.60" width="3.74" height="6.50" fill="#243763" />
<rect x="551.72" y="453.60" width="3.74" height="6.50" fill="#243763" />
<rect x="555.06" y="453.60" width="3.74" height="6.50" fill="#243763" />
<rect x="558.40" y="453.60" width="3.74" height="6.50" fill="#243763" />
<rect x="561.74" y="453.60" width="3.74" height="6.50" fill="#243763" />
<rect x="565.08" y="453.60" width="3.74" height="6.50" fill="#243763" />
<rect x="568.42" y="453.60" width="3.74" height="6.50" fill="#243763" />
<rect x="571.76" y="453.60" width="3.74" height="6.50" fill="#243763" />
<rect x="575.10" y="453.60" width="3.74" height="6.50" fill="#3671B0" />
<rect x="578.44" y="453.60" width="3.74" height="6.50" fill="#243763" />
<rect x="581.78" y="453.60" width="3.74" height="6.50" fill="#F8CDB8" />
<rect x="585.12" y="453.60" width="3.74" height="6.50" fill="#243763" />
<rect x="588.46" y="453.60" width="3.74" height="6.50" fill="#243763" />
<rect x="591.80" y="453.60" width="3.74" height="6.50" fill="#243763" />
<rect x="595.14" y="453.60" width="3.74" height="6.50" fill="#F8CDB8" />
<rect x="525.00" y="459.70" width="3.74" height="6.50" fill="#F3EEEC" />
<rect x="528.34" y="459.70" width="3.74" height="6.50" fill="#C44A45" />
<rect x="531.68" y="459.70" width="3.74" height="6.50" fill="#8BBDD9" />
<rect x="535.02" y="459.70" width="3.74" height="6.50" fill="#78182A" />
<rect x="538.36" y="459.70" width="3.74" height="6.50" fill="#8BBDD9" />
<rect x="541.70" y="459.70" width="3.74" height="6.50" fill="#8BBDD9" />
<rect x="545.04" y="459.70" width="3.74" height="6.50" fill="#8BBDD9" />
<rect x="548.38" y="459.70" width="3.74" height="6.50" fill="#8BBDD9" />
<rect x="551.72" y="459.70" width="3.74" height="6.50" fill="#F8CDB8" />
<rect x="555.06" y="459.70" width="3.74" height="6.50" fill="#3671B0" />
<rect x="558.40" y="459.70" width="3.74" height="6.50" fill="#8BBDD9" />
<rect x="561.74" y="459.70" width="3.74" height="6.50" fill="#78182A" />
<rect x="565.08" y="459.70" width="3.74" height="6.50" fill="#C44A45" />
<rect x="568.42" y="459.70" width="3.74" height="6.50" fill="#F8CDB8" />
<rect x="571.76" y="459.70" width="3.74" height="6.50" fill="#EC9A7E" />
<rect x="575.10" y="459.70" width="3.74" height="6.50" fill="#3671B0" />
<rect x="578.44" y="459.70" width="3.74" height="6.50" fill="#3671B0" />
<rect x="581.78" y="459.70" width="3.74" height="6.50" fill="#EC9A7E" />
<rect x="585.12" y="459.70" width="3.74" height="6.50" fill="#4B8FC2" />
<rect x="588.46" y="459.70" width="3.74" height="6.50" fill="#8BBDD9" />
<rect x="591.80" y="459.70" width="3.74" height="6.50" fill="#4B8FC2" />
<rect x="595.14" y="459.70" width="3.74" height="6.50" fill="#8BBDD9" />
<rect x="525.00" y="465.80" width="3.74" height="6.50" fill="#8BBDD9" />
<rect x="528.34" y="465.80" width="3.74" height="6.50" fill="#F8CDB8" />
<rect x="531.68" y="465.80" width="3.74" height="6.50" fill="#F3EEEC" />
<rect x="535.02" y="465.80" width="3.74" height="6.50" fill="#F3EEEC" />
<rect x="538.36" y="465.80" width="3.74" height="6.50" fill="#C44A45" />
<rect x="541.70" y="465.80" width="3.74" height="6.50" fill="#F8CDB8" />
<rect x="545.04" y="465.80" width="3.74" height="6.50" fill="#4B8FC2" />
<rect x="548.38" y="465.80" width="3.74" height="6.50" fill="#EC9A7E" />
<rect x="551.72" y="465.80" width="3.74" height="6.50" fill="#C44A45" />
<rect x="555.06" y="465.80" width="3.74" height="6.50" fill="#3671B0" />
<rect x="558.40" y="465.80" width="3.74" height="6.50" fill="#F3EEEC" />
<rect x="561.74" y="465.80" width="3.74" height="6.50" fill="#F8CDB8" />
<rect x="565.08" y="465.80" width="3.74" height="6.50" fill="#C8DEEB" />
<rect x="568.42" y="465.80" width="3.74" height="6.50" fill="#8BBDD9" />
<rect x="571.76" y="465.80" width="3.74" height="6.50" fill="#8BBDD9" />
<rect x="575.10" y="465.80" width="3.74" height="6.50" fill="#8BBDD9" />
<rect x="578.44" y="465.80" width="3.74" height="6.50" fill="#8BBDD9" />
<rect x="581.78" y="465.80" width="3.74" height="6.50" fill="#C8DEEB" />
<rect x="585.12" y="465.80" width="3.74" height="6.50" fill="#8BBDD9" />
<rect x="588.46" y="465.80" width="3.74" height="6.50" fill="#3671B0" />
<rect x="591.80" y="465.80" width="3.74" height="6.50" fill="#3671B0" />
<rect x="595.14" y="465.80" width="3.74" height="6.50" fill="#3671B0" />
<rect x="525.00" y="471.90" width="3.74" height="6.50" fill="#8BBDD9" />
<rect x="528.34" y="471.90" width="3.74" height="6.50" fill="#F8CDB8" />
<rect x="531.68" y="471.90" width="3.74" height="6.50" fill="#243763" />
<rect x="535.02" y="471.90" width="3.74" height="6.50" fill="#EC9A7E" />
<rect x="538.36" y="471.90" width="3.74" height="6.50" fill="#2B5B9A" />
<rect x="541.70" y="471.90" width="3.74" height="6.50" fill="#2B5B9A" />
<rect x="545.04" y="471.90" width="3.74" height="6.50" fill="#4B8FC2" />
<rect x="548.38" y="471.90" width="3.74" height="6.50" fill="#78182A" />
<rect x="551.72" y="471.90" width="3.74" height="6.50" fill="#3671B0" />
<rect x="555.06" y="471.90" width="3.74" height="6.50" fill="#243763" />
<rect x="558.40" y="471.90" width="3.74" height="6.50" fill="#C8DEEB" />
<rect x="561.74" y="471.90" width="3.74" height="6.50" fill="#4B8FC2" />
<rect x="565.08" y="471.90" width="3.74" height="6.50" fill="#243763" />
<rect x="568.42" y="471.90" width="3.74" height="6.50" fill="#2B5B9A" />
<rect x="571.76" y="471.90" width="3.74" height="6.50" fill="#2B5B9A" />
<rect x="575.10" y="471.90" width="3.74" height="6.50" fill="#2B5B9A" />
<rect x="578.44" y="471.90" width="3.74" height="6.50" fill="#2B5B9A" />
<rect x="581.78" y="471.90" width="3.74" height="6.50" fill="#F8CDB8" />
<rect x="585.12" y="471.90" width="3.74" height="6.50" fill="#243763" />
<rect x="588.46" y="471.90" width="3.74" height="6.50" fill="#243763" />
<rect x="591.80" y="471.90" width="3.74" height="6.50" fill="#243763" />
<rect x="595.14" y="471.90" width="3.74" height="6.50" fill="#3671B0" />
<rect x="525.00" y="478.00" width="3.74" height="6.50" fill="#C44A45" />
<rect x="528.34" y="478.00" width="3.74" height="6.50" fill="#C44A45" />
<rect x="531.68" y="478.00" width="3.74" height="6.50" fill="#8BBDD9" />
<rect x="535.02" y="478.00" width="3.74" height="6.50" fill="#EC9A7E" />
<rect x="538.36" y="478.00" width="3.74" height="6.50" fill="#EC9A7E" />
<rect x="541.70" y="478.00" width="3.74" height="6.50" fill="#3671B0" />
<rect x="545.04" y="478.00" width="3.74" height="6.50" fill="#C44A45" />
<rect x="548.38" y="478.00" width="3.74" height="6.50" fill="#C8DEEB" />
<rect x="551.72" y="478.00" width="3.74" height="6.50" fill="#78182A" />
<rect x="555.06" y="478.00" width="3.74" height="6.50" fill="#C8DEEB" />
<rect x="558.40" y="478.00" width="3.74" height="6.50" fill="#EC9A7E" />
<rect x="561.74" y="478.00" width="3.74" height="6.50" fill="#EC9A7E" />
<rect x="565.08" y="478.00" width="3.74" height="6.50" fill="#F3EEEC" />
<rect x="568.42" y="478.00" width="3.74" height="6.50" fill="#C8DEEB" />
<rect x="571.76" y="478.00" width="3.74" height="6.50" fill="#EC9A7E" />
<rect x="575.10" y="478.00" width="3.74" height="6.50" fill="#8BBDD9" />
<rect x="578.44" y="478.00" width="3.74" height="6.50" fill="#F3EEEC" />
<rect x="581.78" y="478.00" width="3.74" height="6.50" fill="#EC9A7E" />
<rect x="585.12" y="478.00" width="3.74" height="6.50" fill="#F3EEEC" />
<rect x="588.46" y="478.00" width="3.74" height="6.50" fill="#8BBDD9" />
<rect x="591.80" y="478.00" width="3.74" height="6.50" fill="#8BBDD9" />
<rect x="595.14" y="478.00" width="3.74" height="6.50" fill="#C8DEEB" />
<rect x="525.00" y="484.10" width="3.74" height="6.50" fill="#F3EEEC" />
<rect x="528.34" y="484.10" width="3.74" height="6.50" fill="#C8DEEB" />
<rect x="531.68" y="484.10" width="3.74" height="6.50" fill="#4B8FC2" />
<rect x="535.02" y="484.10" width="3.74" height="6.50" fill="#3671B0" />
<rect x="538.36" y="484.10" width="3.74" height="6.50" fill="#F3EEEC" />
<rect x="541.70" y="484.10" width="3.74" height="6.50" fill="#3671B0" />
<rect x="545.04" y="484.10" width="3.74" height="6.50" fill="#8BBDD9" />
<rect x="548.38" y="484.10" width="3.74" height="6.50" fill="#F3EEEC" />
<rect x="551.72" y="484.10" width="3.74" height="6.50" fill="#3671B0" />
<rect x="555.06" y="484.10" width="3.74" height="6.50" fill="#2B5B9A" />
<rect x="558.40" y="484.10" width="3.74" height="6.50" fill="#8BBDD9" />
<rect x="561.74" y="484.10" width="3.74" height="6.50" fill="#4B8FC2" />
<rect x="565.08" y="484.10" width="3.74" height="6.50" fill="#8BBDD9" />
<rect x="568.42" y="484.10" width="3.74" height="6.50" fill="#4B8FC2" />
<rect x="571.76" y="484.10" width="3.74" height="6.50" fill="#4B8FC2" />
<rect x="575.10" y="484.10" width="3.74" height="6.50" fill="#F3EEEC" />
<rect x="578.44" y="484.10" width="3.74" height="6.50" fill="#78182A" />
<rect x="581.78" y="484.10" width="3.74" height="6.50" fill="#3671B0" />
<rect x="585.12" y="484.10" width="3.74" height="6.50" fill="#3671B0" />
<rect x="588.46" y="484.10" width="3.74" height="6.50" fill="#C8DEEB" />
<rect x="591.80" y="484.10" width="3.74" height="6.50" fill="#2B5B9A" />
<rect x="595.14" y="484.10" width="3.74" height="6.50" fill="#3671B0" />
<rect x="524.40" y="392.20" width="74.20" height="98.40" fill="none" stroke="#111" stroke-width="1.2"/>
<rect x="380.00" y="392.60" width="10.50" height="97.60" fill="#8899C6" />
<text x="601.70" y="398.15" font-size="7.2" text-anchor="start" fill="#222" >CXCL9</text>
<text x="601.70" y="404.25" font-size="7.2" text-anchor="start" fill="#222" >CCL17</text>
<text x="601.70" y="410.35" font-size="7.2" text-anchor="start" fill="#222" >CCR4</text>
<text x="601.70" y="416.45" font-size="7.2" text-anchor="start" fill="#222" >CXCR3</text>
<text x="601.70" y="422.55" font-size="7.2" text-anchor="start" fill="#222" >CCR7</text>
<text x="601.70" y="428.65" font-size="7.2" text-anchor="start" fill="#222" >CCR5</text>
<text x="601.70" y="434.75" font-size="7.2" text-anchor="start" fill="#222" >CCR2</text>
<text x="601.70" y="440.85" font-size="7.2" text-anchor="start" fill="#222" >XCL2</text>
<text x="601.70" y="446.95" font-size="7.2" text-anchor="start" fill="#222" >CCL5</text>
<text x="601.70" y="453.05" font-size="7.2" text-anchor="start" fill="#222" >CCL4</text>
<text x="601.70" y="459.15" font-size="7.2" text-anchor="start" fill="#222" >CCR6</text>
<text x="601.70" y="465.25" font-size="7.2" text-anchor="start" fill="#222" >CCR1</text>
<text x="601.70" y="471.35" font-size="7.2" text-anchor="start" fill="#222" >CCL3</text>
<text x="601.70" y="477.45" font-size="7.2" text-anchor="start" fill="#222" >CCL22</text>
<text x="601.70" y="483.55" font-size="7.2" text-anchor="start" fill="#222" >CXCL16</text>
<text x="601.70" y="489.65" font-size="7.2" text-anchor="start" fill="#222" >CCL28</text>
<rect x="393.90" y="493.70" width="3.72" height="6.45" fill="#8BBDD9" />
<rect x="397.22" y="493.70" width="3.72" height="6.45" fill="#4B8FC2" />
<rect x="400.54" y="493.70" width="3.72" height="6.45" fill="#4B8FC2" />
<rect x="403.86" y="493.70" width="3.72" height="6.45" fill="#C8DEEB" />
<rect x="407.18" y="493.70" width="3.72" height="6.45" fill="#C8DEEB" />
<rect x="410.50" y="493.70" width="3.72" height="6.45" fill="#F3EEEC" />
<rect x="413.82" y="493.70" width="3.72" height="6.45" fill="#4B8FC2" />
<rect x="417.14" y="493.70" width="3.72" height="6.45" fill="#3671B0" />
<rect x="420.46" y="493.70" width="3.72" height="6.45" fill="#243763" />
<rect x="423.78" y="493.70" width="3.72" height="6.45" fill="#C8DEEB" />
<rect x="427.10" y="493.70" width="3.72" height="6.45" fill="#C8DEEB" />
<rect x="430.42" y="493.70" width="3.72" height="6.45" fill="#4B8FC2" />
<rect x="433.74" y="493.70" width="3.72" height="6.45" fill="#8BBDD9" />
<rect x="437.06" y="493.70" width="3.72" height="6.45" fill="#8BBDD9" />
<rect x="440.38" y="493.70" width="3.72" height="6.45" fill="#F3EEEC" />
<rect x="443.70" y="493.70" width="3.72" height="6.45" fill="#8BBDD9" />
<rect x="447.02" y="493.70" width="3.72" height="6.45" fill="#4B8FC2" />
<rect x="450.34" y="493.70" width="3.72" height="6.45" fill="#C8DEEB" />
<rect x="453.66" y="493.70" width="3.72" height="6.45" fill="#4B8FC2" />
<rect x="456.98" y="493.70" width="3.72" height="6.45" fill="#F8CDB8" />
<rect x="460.30" y="493.70" width="3.72" height="6.45" fill="#F8CDB8" />
<rect x="463.62" y="493.70" width="3.72" height="6.45" fill="#8BBDD9" />
<rect x="466.94" y="493.70" width="3.72" height="6.45" fill="#C8DEEB" />
<rect x="470.26" y="493.70" width="3.72" height="6.45" fill="#F3EEEC" />
<rect x="393.90" y="499.75" width="3.72" height="6.45" fill="#4B8FC2" />
<rect x="397.22" y="499.75" width="3.72" height="6.45" fill="#EC9A7E" />
<rect x="400.54" y="499.75" width="3.72" height="6.45" fill="#C8DEEB" />
<rect x="403.86" y="499.75" width="3.72" height="6.45" fill="#C8DEEB" />
<rect x="407.18" y="499.75" width="3.72" height="6.45" fill="#8BBDD9" />
<rect x="410.50" y="499.75" width="3.72" height="6.45" fill="#8BBDD9" />
<rect x="413.82" y="499.75" width="3.72" height="6.45" fill="#8BBDD9" />
<rect x="417.14" y="499.75" width="3.72" height="6.45" fill="#C8DEEB" />
<rect x="420.46" y="499.75" width="3.72" height="6.45" fill="#3671B0" />
<rect x="423.78" y="499.75" width="3.72" height="6.45" fill="#C8DEEB" />
<rect x="427.10" y="499.75" width="3.72" height="6.45" fill="#C8DEEB" />
<rect x="430.42" y="499.75" width="3.72" height="6.45" fill="#C8DEEB" />
<rect x="433.74" y="499.75" width="3.72" height="6.45" fill="#3671B0" />
<rect x="437.06" y="499.75" width="3.72" height="6.45" fill="#C8DEEB" />
<rect x="440.38" y="499.75" width="3.72" height="6.45" fill="#8BBDD9" />
<rect x="443.70" y="499.75" width="3.72" height="6.45" fill="#C8DEEB" />
<rect x="447.02" y="499.75" width="3.72" height="6.45" fill="#F3EEEC" />
<rect x="450.34" y="499.75" width="3.72" height="6.45" fill="#F8CDB8" />
<rect x="453.66" y="499.75" width="3.72" height="6.45" fill="#C8DEEB" />
<rect x="456.98" y="499.75" width="3.72" height="6.45" fill="#F8CDB8" />
<rect x="460.30" y="499.75" width="3.72" height="6.45" fill="#F8CDB8" />
<rect x="463.62" y="499.75" width="3.72" height="6.45" fill="#C8DEEB" />
<rect x="466.94" y="499.75" width="3.72" height="6.45" fill="#C8DEEB" />
<rect x="470.26" y="499.75" width="3.72" height="6.45" fill="#243763" />
<rect x="393.30" y="493.30" width="81.00" height="12.90" fill="none" stroke="#111" stroke-width="1.2"/>
<rect x="478.00" y="493.70" width="3.73" height="6.45" fill="#C8DEEB" />
<rect x="481.33" y="493.70" width="3.73" height="6.45" fill="#C8DEEB" />
<rect x="484.66" y="493.70" width="3.73" height="6.45" fill="#C8DEEB" />
<rect x="487.99" y="493.70" width="3.73" height="6.45" fill="#F3EEEC" />
<rect x="491.32" y="493.70" width="3.73" height="6.45" fill="#8BBDD9" />
<rect x="494.65" y="493.70" width="3.73" height="6.45" fill="#C8DEEB" />
<rect x="497.98" y="493.70" width="3.73" height="6.45" fill="#C44A45" />
<rect x="501.31" y="493.70" width="3.73" height="6.45" fill="#F3EEEC" />
<rect x="504.64" y="493.70" width="3.73" height="6.45" fill="#8BBDD9" />
<rect x="507.97" y="493.70" width="3.73" height="6.45" fill="#4B8FC2" />
<rect x="511.30" y="493.70" width="3.73" height="6.45" fill="#8BBDD9" />
<rect x="514.63" y="493.70" width="3.73" height="6.45" fill="#4B8FC2" />
<rect x="517.96" y="493.70" width="3.73" height="6.45" fill="#8BBDD9" />
<rect x="478.00" y="499.75" width="3.73" height="6.45" fill="#C8DEEB" />
<rect x="481.33" y="499.75" width="3.73" height="6.45" fill="#4B8FC2" />
<rect x="484.66" y="499.75" width="3.73" height="6.45" fill="#F8CDB8" />
<rect x="487.99" y="499.75" width="3.73" height="6.45" fill="#3671B0" />
<rect x="491.32" y="499.75" width="3.73" height="6.45" fill="#C8DEEB" />
<rect x="494.65" y="499.75" width="3.73" height="6.45" fill="#C44A45" />
<rect x="497.98" y="499.75" width="3.73" height="6.45" fill="#8BBDD9" />
<rect x="501.31" y="499.75" width="3.73" height="6.45" fill="#F8CDB8" />
<rect x="504.64" y="499.75" width="3.73" height="6.45" fill="#F3EEEC" />
<rect x="507.97" y="499.75" width="3.73" height="6.45" fill="#EC9A7E" />
<rect x="511.30" y="499.75" width="3.73" height="6.45" fill="#C8DEEB" />
<rect x="514.63" y="499.75" width="3.73" height="6.45" fill="#F3EEEC" />
<rect x="517.96" y="499.75" width="3.73" height="6.45" fill="#F8CDB8" />
<rect x="477.40" y="493.30" width="44.30" height="12.90" fill="none" stroke="#111" stroke-width="1.2"/>
<rect x="525.00" y="493.70" width="3.74" height="6.45" fill="#F3EEEC" />
<rect x="528.34" y="493.70" width="3.74" height="6.45" fill="#F8CDB8" />
<rect x="531.68" y="493.70" width="3.74" height="6.45" fill="#8BBDD9" />
<rect x="535.02" y="493.70" width="3.74" height="6.45" fill="#F3EEEC" />
<rect x="538.36" y="493.70" width="3.74" height="6.45" fill="#F8CDB8" />
<rect x="541.70" y="493.70" width="3.74" height="6.45" fill="#C8DEEB" />
<rect x="545.04" y="493.70" width="3.74" height="6.45" fill="#F8CDB8" />
<rect x="548.38" y="493.70" width="3.74" height="6.45" fill="#78182A" />
<rect x="551.72" y="493.70" width="3.74" height="6.45" fill="#78182A" />
<rect x="555.06" y="493.70" width="3.74" height="6.45" fill="#4B8FC2" />
<rect x="558.40" y="493.70" width="3.74" height="6.45" fill="#F8CDB8" />
<rect x="561.74" y="493.70" width="3.74" height="6.45" fill="#C8DEEB" />
<rect x="565.08" y="493.70" width="3.74" height="6.45" fill="#C8DEEB" />
<rect x="568.42" y="493.70" width="3.74" height="6.45" fill="#8BBDD9" />
<rect x="571.76" y="493.70" width="3.74" height="6.45" fill="#F3EEEC" />
<rect x="575.10" y="493.70" width="3.74" height="6.45" fill="#F8CDB8" />
<rect x="578.44" y="493.70" width="3.74" height="6.45" fill="#F8CDB8" />
<rect x="581.78" y="493.70" width="3.74" height="6.45" fill="#F3EEEC" />
<rect x="585.12" y="493.70" width="3.74" height="6.45" fill="#C8DEEB" />
<rect x="588.46" y="493.70" width="3.74" height="6.45" fill="#EC9A7E" />
<rect x="591.80" y="493.70" width="3.74" height="6.45" fill="#4B8FC2" />
<rect x="595.14" y="493.70" width="3.74" height="6.45" fill="#F8CDB8" />
<rect x="525.00" y="499.75" width="3.74" height="6.45" fill="#8BBDD9" />
<rect x="528.34" y="499.75" width="3.74" height="6.45" fill="#F8CDB8" />
<rect x="531.68" y="499.75" width="3.74" height="6.45" fill="#F8CDB8" />
<rect x="535.02" y="499.75" width="3.74" height="6.45" fill="#EC9A7E" />
<rect x="538.36" y="499.75" width="3.74" height="6.45" fill="#F8CDB8" />
<rect x="541.70" y="499.75" width="3.74" height="6.45" fill="#C8DEEB" />
<rect x="545.04" y="499.75" width="3.74" height="6.45" fill="#C44A45" />
<rect x="548.38" y="499.75" width="3.74" height="6.45" fill="#4B8FC2" />
<rect x="551.72" y="499.75" width="3.74" height="6.45" fill="#F8CDB8" />
<rect x="555.06" y="499.75" width="3.74" height="6.45" fill="#F8CDB8" />
<rect x="558.40" y="499.75" width="3.74" height="6.45" fill="#EC9A7E" />
<rect x="561.74" y="499.75" width="3.74" height="6.45" fill="#F3EEEC" />
<rect x="565.08" y="499.75" width="3.74" height="6.45" fill="#C8DEEB" />
<rect x="568.42" y="499.75" width="3.74" height="6.45" fill="#C8DEEB" />
<rect x="571.76" y="499.75" width="3.74" height="6.45" fill="#F3EEEC" />
<rect x="575.10" y="499.75" width="3.74" height="6.45" fill="#F3EEEC" />
<rect x="578.44" y="499.75" width="3.74" height="6.45" fill="#F8CDB8" />
<rect x="581.78" y="499.75" width="3.74" height="6.45" fill="#78182A" />
<rect x="585.12" y="499.75" width="3.74" height="6.45" fill="#F3EEEC" />
<rect x="588.46" y="499.75" width="3.74" height="6.45" fill="#EC9A7E" />
<rect x="591.80" y="499.75" width="3.74" height="6.45" fill="#C8DEEB" />
<rect x="595.14" y="499.75" width="3.74" height="6.45" fill="#8BBDD9" />
<rect x="524.40" y="493.30" width="74.20" height="12.90" fill="none" stroke="#111" stroke-width="1.2"/>
<rect x="380.00" y="493.70" width="10.50" height="12.10" fill="#8899C6" />
<text x="601.70" y="499.22" font-size="7.2" text-anchor="start" fill="#222" >IFNAR2</text>
<text x="601.70" y="505.27" font-size="7.2" text-anchor="start" fill="#222" >IFNGR2</text>
<rect x="393.90" y="508.80" width="3.72" height="6.50" fill="#4B8FC2" />
<rect x="397.22" y="508.80" width="3.72" height="6.50" fill="#3671B0" />
<rect x="400.54" y="508.80" width="3.72" height="6.50" fill="#8BBDD9" />
<rect x="403.86" y="508.80" width="3.72" height="6.50" fill="#3671B0" />
<rect x="407.18" y="508.80" width="3.72" height="6.50" fill="#F3EEEC" />
<rect x="410.50" y="508.80" width="3.72" height="6.50" fill="#8BBDD9" />
<rect x="413.82" y="508.80" width="3.72" height="6.50" fill="#3671B0" />
<rect x="417.14" y="508.80" width="3.72" height="6.50" fill="#78182A" />
<rect x="420.46" y="508.80" width="3.72" height="6.50" fill="#EC9A7E" />
<rect x="423.78" y="508.80" width="3.72" height="6.50" fill="#F3EEEC" />
<rect x="427.10" y="508.80" width="3.72" height="6.50" fill="#4B8FC2" />
<rect x="430.42" y="508.80" width="3.72" height="6.50" fill="#4B8FC2" />
<rect x="433.74" y="508.80" width="3.72" height="6.50" fill="#4B8FC2" />
<rect x="437.06" y="508.80" width="3.72" height="6.50" fill="#4B8FC2" />
<rect x="440.38" y="508.80" width="3.72" height="6.50" fill="#3671B0" />
<rect x="443.70" y="508.80" width="3.72" height="6.50" fill="#3671B0" />
<rect x="447.02" y="508.80" width="3.72" height="6.50" fill="#8BBDD9" />
<rect x="450.34" y="508.80" width="3.72" height="6.50" fill="#C44A45" />
<rect x="453.66" y="508.80" width="3.72" height="6.50" fill="#F3EEEC" />
<rect x="456.98" y="508.80" width="3.72" height="6.50" fill="#3671B0" />
<rect x="460.30" y="508.80" width="3.72" height="6.50" fill="#4B8FC2" />
<rect x="463.62" y="508.80" width="3.72" height="6.50" fill="#EC9A7E" />
<rect x="466.94" y="508.80" width="3.72" height="6.50" fill="#4B8FC2" />
<rect x="470.26" y="508.80" width="3.72" height="6.50" fill="#4B8FC2" />
<rect x="393.90" y="514.90" width="3.72" height="6.50" fill="#4B8FC2" />
<rect x="397.22" y="514.90" width="3.72" height="6.50" fill="#243763" />
<rect x="400.54" y="514.90" width="3.72" height="6.50" fill="#3671B0" />
<rect x="403.86" y="514.90" width="3.72" height="6.50" fill="#2B5B9A" />
<rect x="407.18" y="514.90" width="3.72" height="6.50" fill="#3671B0" />
<rect x="410.50" y="514.90" width="3.72" height="6.50" fill="#8BBDD9" />
<rect x="413.82" y="514.90" width="3.72" height="6.50" fill="#243763" />
<rect x="417.14" y="514.90" width="3.72" height="6.50" fill="#3671B0" />
<rect x="420.46" y="514.90" width="3.72" height="6.50" fill="#3671B0" />
<rect x="423.78" y="514.90" width="3.72" height="6.50" fill="#3671B0" />
<rect x="427.10" y="514.90" width="3.72" height="6.50" fill="#2B5B9A" />
<rect x="430.42" y="514.90" width="3.72" height="6.50" fill="#3671B0" />
<rect x="433.74" y="514.90" width="3.72" height="6.50" fill="#243763" />
<rect x="437.06" y="514.90" width="3.72" height="6.50" fill="#2B5B9A" />
<rect x="440.38" y="514.90" width="3.72" height="6.50" fill="#3671B0" />
<rect x="443.70" y="514.90" width="3.72" height="6.50" fill="#3671B0" />
<rect x="447.02" y="514.90" width="3.72" height="6.50" fill="#3671B0" />
<rect x="450.34" y="514.90" width="3.72" height="6.50" fill="#2B5B9A" />
<rect x="453.66" y="514.90" width="3.72" height="6.50" fill="#4B8FC2" />
<rect x="456.98" y="514.90" width="3.72" height="6.50" fill="#3671B0" />
<rect x="460.30" y="514.90" width="3.72" height="6.50" fill="#3671B0" />
<rect x="463.62" y="514.90" width="3.72" height="6.50" fill="#3671B0" />
<rect x="466.94" y="514.90" width="3.72" height="6.50" fill="#2B5B9A" />
<rect x="470.26" y="514.90" width="3.72" height="6.50" fill="#2B5B9A" />
<rect x="393.90" y="521.00" width="3.72" height="6.50" fill="#243763" />
<rect x="397.22" y="521.00" width="3.72" height="6.50" fill="#243763" />
<rect x="400.54" y="521.00" width="3.72" height="6.50" fill="#243763" />
<rect x="403.86" y="521.00" width="3.72" height="6.50" fill="#3671B0" />
<rect x="407.18" y="521.00" width="3.72" height="6.50" fill="#C8DEEB" />
<rect x="410.50" y="521.00" width="3.72" height="6.50" fill="#243763" />
<rect x="413.82" y="521.00" width="3.72" height="6.50" fill="#243763" />
<rect x="417.14" y="521.00" width="3.72" height="6.50" fill="#243763" />
<rect x="420.46" y="521.00" width="3.72" height="6.50" fill="#3671B0" />
<rect x="423.78" y="521.00" width="3.72" height="6.50" fill="#3671B0" />
<rect x="427.10" y="521.00" width="3.72" height="6.50" fill="#4B8FC2" />
<rect x="430.42" y="521.00" width="3.72" height="6.50" fill="#243763" />
<rect x="433.74" y="521.00" width="3.72" height="6.50" fill="#3671B0" />
<rect x="437.06" y="521.00" width="3.72" height="6.50" fill="#8BBDD9" />
<rect x="440.38" y="521.00" width="3.72" height="6.50" fill="#3671B0" />
<rect x="443.70" y="521.00" width="3.72" height="6.50" fill="#243763" />
<rect x="447.02" y="521.00" width="3.72" height="6.50" fill="#3671B0" />
<rect x="450.34" y="521.00" width="3.72" height="6.50" fill="#243763" />
<rect x="453.66" y="521.00" width="3.72" height="6.50" fill="#243763" />
<rect x="456.98" y="521.00" width="3.72" height="6.50" fill="#243763" />
<rect x="460.30" y="521.00" width="3.72" height="6.50" fill="#3671B0" />
<rect x="463.62" y="521.00" width="3.72" height="6.50" fill="#243763" />
<rect x="466.94" y="521.00" width="3.72" height="6.50" fill="#243763" />
<rect x="470.26" y="521.00" width="3.72" height="6.50" fill="#243763" />
<rect x="393.90" y="527.10" width="3.72" height="6.50" fill="#3671B0" />
<rect x="397.22" y="527.10" width="3.72" height="6.50" fill="#243763" />
<rect x="400.54" y="527.10" width="3.72" height="6.50" fill="#4B8FC2" />
<rect x="403.86" y="527.10" width="3.72" height="6.50" fill="#3671B0" />
<rect x="407.18" y="527.10" width="3.72" height="6.50" fill="#2B5B9A" />
<rect x="410.50" y="527.10" width="3.72" height="6.50" fill="#2B5B9A" />
<rect x="413.82" y="527.10" width="3.72" height="6.50" fill="#243763" />
<rect x="417.14" y="527.10" width="3.72" height="6.50" fill="#243763" />
<rect x="420.46" y="527.10" width="3.72" height="6.50" fill="#3671B0" />
<rect x="423.78" y="527.10" width="3.72" height="6.50" fill="#2B5B9A" />
<rect x="427.10" y="527.10" width="3.72" height="6.50" fill="#4B8FC2" />
<rect x="430.42" y="527.10" width="3.72" height="6.50" fill="#2B5B9A" />
<rect x="433.74" y="527.10" width="3.72" height="6.50" fill="#3671B0" />
<rect x="437.06" y="527.10" width="3.72" height="6.50" fill="#3671B0" />
<rect x="440.38" y="527.10" width="3.72" height="6.50" fill="#2B5B9A" />
<rect x="443.70" y="527.10" width="3.72" height="6.50" fill="#2B5B9A" />
<rect x="447.02" y="527.10" width="3.72" height="6.50" fill="#3671B0" />
<rect x="450.34" y="527.10" width="3.72" height="6.50" fill="#243763" />
<rect x="453.66" y="527.10" width="3.72" height="6.50" fill="#3671B0" />
<rect x="456.98" y="527.10" width="3.72" height="6.50" fill="#3671B0" />
<rect x="460.30" y="527.10" width="3.72" height="6.50" fill="#3671B0" />
<rect x="463.62" y="527.10" width="3.72" height="6.50" fill="#3671B0" />
<rect x="466.94" y="527.10" width="3.72" height="6.50" fill="#3671B0" />
<rect x="470.26" y="527.10" width="3.72" height="6.50" fill="#4B8FC2" />
<rect x="393.90" y="533.20" width="3.72" height="6.50" fill="#243763" />
<rect x="397.22" y="533.20" width="3.72" height="6.50" fill="#243763" />
<rect x="400.54" y="533.20" width="3.72" height="6.50" fill="#2B5B9A" />
<rect x="403.86" y="533.20" width="3.72" height="6.50" fill="#C8DEEB" />
<rect x="407.18" y="533.20" width="3.72" height="6.50" fill="#243763" />
<rect x="410.50" y="533.20" width="3.72" height="6.50" fill="#243763" />
<rect x="413.82" y="533.20" width="3.72" height="6.50" fill="#243763" />
<rect x="417.14" y="533.20" width="3.72" height="6.50" fill="#243763" />
<rect x="420.46" y="533.20" width="3.72" height="6.50" fill="#243763" />
<rect x="423.78" y="533.20" width="3.72" height="6.50" fill="#243763" />
<rect x="427.10" y="533.20" width="3.72" height="6.50" fill="#243763" />
<rect x="430.42" y="533.20" width="3.72" height="6.50" fill="#243763" />
<rect x="433.74" y="533.20" width="3.72" height="6.50" fill="#243763" />
<rect x="437.06" y="533.20" width="3.72" height="6.50" fill="#243763" />
<rect x="440.38" y="533.20" width="3.72" height="6.50" fill="#243763" />
<rect x="443.70" y="533.20" width="3.72" height="6.50" fill="#2B5B9A" />
<rect x="447.02" y="533.20" width="3.72" height="6.50" fill="#243763" />
<rect x="450.34" y="533.20" width="3.72" height="6.50" fill="#2B5B9A" />
<rect x="453.66" y="533.20" width="3.72" height="6.50" fill="#3671B0" />
<rect x="456.98" y="533.20" width="3.72" height="6.50" fill="#EC9A7E" />
<rect x="460.30" y="533.20" width="3.72" height="6.50" fill="#243763" />
<rect x="463.62" y="533.20" width="3.72" height="6.50" fill="#2B5B9A" />
<rect x="466.94" y="533.20" width="3.72" height="6.50" fill="#243763" />
<rect x="470.26" y="533.20" width="3.72" height="6.50" fill="#243763" />
<rect x="393.90" y="539.30" width="3.72" height="6.50" fill="#3671B0" />
<rect x="397.22" y="539.30" width="3.72" height="6.50" fill="#4B8FC2" />
<rect x="400.54" y="539.30" width="3.72" height="6.50" fill="#4B8FC2" />
<rect x="403.86" y="539.30" width="3.72" height="6.50" fill="#F3EEEC" />
<rect x="407.18" y="539.30" width="3.72" height="6.50" fill="#2B5B9A" />
<rect x="410.50" y="539.30" width="3.72" height="6.50" fill="#2B5B9A" />
<rect x="413.82" y="539.30" width="3.72" height="6.50" fill="#3671B0" />
<rect x="417.14" y="539.30" width="3.72" height="6.50" fill="#2B5B9A" />
<rect x="420.46" y="539.30" width="3.72" height="6.50" fill="#243763" />
<rect x="423.78" y="539.30" width="3.72" height="6.50" fill="#8BBDD9" />
<rect x="427.10" y="539.30" width="3.72" height="6.50" fill="#243763" />
<rect x="430.42" y="539.30" width="3.72" height="6.50" fill="#4B8FC2" />
<rect x="433.74" y="539.30" width="3.72" height="6.50" fill="#4B8FC2" />
<rect x="437.06" y="539.30" width="3.72" height="6.50" fill="#2B5B9A" />
<rect x="440.38" y="539.30" width="3.72" height="6.50" fill="#8BBDD9" />
<rect x="443.70" y="539.30" width="3.72" height="6.50" fill="#3671B0" />
<rect x="447.02" y="539.30" width="3.72" height="6.50" fill="#3671B0" />
<rect x="450.34" y="539.30" width="3.72" height="6.50" fill="#3671B0" />
<rect x="453.66" y="539.30" width="3.72" height="6.50" fill="#3671B0" />
<rect x="456.98" y="539.30" width="3.72" height="6.50" fill="#8BBDD9" />
<rect x="460.30" y="539.30" width="3.72" height="6.50" fill="#2B5B9A" />
<rect x="463.62" y="539.30" width="3.72" height="6.50" fill="#2B5B9A" />
<rect x="466.94" y="539.30" width="3.72" height="6.50" fill="#4B8FC2" />
<rect x="470.26" y="539.30" width="3.72" height="6.50" fill="#F3EEEC" />
<rect x="393.90" y="545.40" width="3.72" height="6.50" fill="#F8CDB8" />
<rect x="397.22" y="545.40" width="3.72" height="6.50" fill="#F8CDB8" />
<rect x="400.54" y="545.40" width="3.72" height="6.50" fill="#EC9A7E" />
<rect x="403.86" y="545.40" width="3.72" height="6.50" fill="#EC9A7E" />
<rect x="407.18" y="545.40" width="3.72" height="6.50" fill="#8BBDD9" />
<rect x="410.50" y="545.40" width="3.72" height="6.50" fill="#F8CDB8" />
<rect x="413.82" y="545.40" width="3.72" height="6.50" fill="#3671B0" />
<rect x="417.14" y="545.40" width="3.72" height="6.50" fill="#C8DEEB" />
<rect x="420.46" y="545.40" width="3.72" height="6.50" fill="#4B8FC2" />
<rect x="423.78" y="545.40" width="3.72" height="6.50" fill="#F8CDB8" />
<rect x="427.10" y="545.40" width="3.72" height="6.50" fill="#F8CDB8" />
<rect x="430.42" y="545.40" width="3.72" height="6.50" fill="#4B8FC2" />
<rect x="433.74" y="545.40" width="3.72" height="6.50" fill="#C8DEEB" />
<rect x="437.06" y="545.40" width="3.72" height="6.50" fill="#C8DEEB" />
<rect x="440.38" y="545.40" width="3.72" height="6.50" fill="#2B5B9A" />
<rect x="443.70" y="545.40" width="3.72" height="6.50" fill="#C8DEEB" />
<rect x="447.02" y="545.40" width="3.72" height="6.50" fill="#4B8FC2" />
<rect x="450.34" y="545.40" width="3.72" height="6.50" fill="#4B8FC2" />
<rect x="453.66" y="545.40" width="3.72" height="6.50" fill="#2B5B9A" />
<rect x="456.98" y="545.40" width="3.72" height="6.50" fill="#EC9A7E" />
<rect x="460.30" y="545.40" width="3.72" height="6.50" fill="#8BBDD9" />
<rect x="463.62" y="545.40" width="3.72" height="6.50" fill="#F8CDB8" />
<rect x="466.94" y="545.40" width="3.72" height="6.50" fill="#8BBDD9" />
<rect x="470.26" y="545.40" width="3.72" height="6.50" fill="#8BBDD9" />
<rect x="393.90" y="551.50" width="3.72" height="6.50" fill="#8BBDD9" />
<rect x="397.22" y="551.50" width="3.72" height="6.50" fill="#2B5B9A" />
<rect x="400.54" y="551.50" width="3.72" height="6.50" fill="#4B8FC2" />
<rect x="403.86" y="551.50" width="3.72" height="6.50" fill="#C8DEEB" />
<rect x="407.18" y="551.50" width="3.72" height="6.50" fill="#3671B0" />
<rect x="410.50" y="551.50" width="3.72" height="6.50" fill="#8BBDD9" />
<rect x="413.82" y="551.50" width="3.72" height="6.50" fill="#3671B0" />
<rect x="417.14" y="551.50" width="3.72" height="6.50" fill="#C8DEEB" />
<rect x="420.46" y="551.50" width="3.72" height="6.50" fill="#8BBDD9" />
<rect x="423.78" y="551.50" width="3.72" height="6.50" fill="#C8DEEB" />
<rect x="427.10" y="551.50" width="3.72" height="6.50" fill="#8BBDD9" />
<rect x="430.42" y="551.50" width="3.72" height="6.50" fill="#4B8FC2" />
<rect x="433.74" y="551.50" width="3.72" height="6.50" fill="#243763" />
<rect x="437.06" y="551.50" width="3.72" height="6.50" fill="#4B8FC2" />
<rect x="440.38" y="551.50" width="3.72" height="6.50" fill="#243763" />
<rect x="443.70" y="551.50" width="3.72" height="6.50" fill="#8BBDD9" />
<rect x="447.02" y="551.50" width="3.72" height="6.50" fill="#F3EEEC" />
<rect x="450.34" y="551.50" width="3.72" height="6.50" fill="#8BBDD9" />
<rect x="453.66" y="551.50" width="3.72" height="6.50" fill="#8BBDD9" />
<rect x="456.98" y="551.50" width="3.72" height="6.50" fill="#8BBDD9" />
<rect x="460.30" y="551.50" width="3.72" height="6.50" fill="#3671B0" />
<rect x="463.62" y="551.50" width="3.72" height="6.50" fill="#8BBDD9" />
<rect x="466.94" y="551.50" width="3.72" height="6.50" fill="#8BBDD9" />
<rect x="470.26" y="551.50" width="3.72" height="6.50" fill="#4B8FC2" />
<rect x="393.90" y="557.60" width="3.72" height="6.50" fill="#3671B0" />
<rect x="397.22" y="557.60" width="3.72" height="6.50" fill="#3671B0" />
<rect x="400.54" y="557.60" width="3.72" height="6.50" fill="#4B8FC2" />
<rect x="403.86" y="557.60" width="3.72" height="6.50" fill="#2B5B9A" />
<rect x="407.18" y="557.60" width="3.72" height="6.50" fill="#4B8FC2" />
<rect x="410.50" y="557.60" width="3.72" height="6.50" fill="#4B8FC2" />
<rect x="413.82" y="557.60" width="3.72" height="6.50" fill="#243763" />
<rect x="417.14" y="557.60" width="3.72" height="6.50" fill="#3671B0" />
<rect x="420.46" y="557.60" width="3.72" height="6.50" fill="#2B5B9A" />
<rect x="423.78" y="557.60" width="3.72" height="6.50" fill="#3671B0" />
<rect x="427.10" y="557.60" width="3.72" height="6.50" fill="#8BBDD9" />
<rect x="430.42" y="557.60" width="3.72" height="6.50" fill="#3671B0" />
<rect x="433.74" y="557.60" width="3.72" height="6.50" fill="#4B8FC2" />
<rect x="437.06" y="557.60" width="3.72" height="6.50" fill="#4B8FC2" />
<rect x="440.38" y="557.60" width="3.72" height="6.50" fill="#4B8FC2" />
<rect x="443.70" y="557.60" width="3.72" height="6.50" fill="#2B5B9A" />
<rect x="447.02" y="557.60" width="3.72" height="6.50" fill="#4B8FC2" />
<rect x="450.34" y="557.60" width="3.72" height="6.50" fill="#3671B0" />
<rect x="453.66" y="557.60" width="3.72" height="6.50" fill="#243763" />
<rect x="456.98" y="557.60" width="3.72" height="6.50" fill="#3671B0" />
<rect x="460.30" y="557.60" width="3.72" height="6.50" fill="#3671B0" />
<rect x="463.62" y="557.60" width="3.72" height="6.50" fill="#F3EEEC" />
<rect x="466.94" y="557.60" width="3.72" height="6.50" fill="#3671B0" />
<rect x="470.26" y="557.60" width="3.72" height="6.50" fill="#2B5B9A" />
<rect x="393.90" y="563.70" width="3.72" height="6.50" fill="#4B8FC2" />
<rect x="397.22" y="563.70" width="3.72" height="6.50" fill="#243763" />
<rect x="400.54" y="563.70" width="3.72" height="6.50" fill="#2B5B9A" />
<rect x="403.86" y="563.70" width="3.72" height="6.50" fill="#4B8FC2" />
<rect x="407.18" y="563.70" width="3.72" height="6.50" fill="#8BBDD9" />
<rect x="410.50" y="563.70" width="3.72" height="6.50" fill="#8BBDD9" />
<rect x="413.82" y="563.70" width="3.72" height="6.50" fill="#3671B0" />
<rect x="417.14" y="563.70" width="3.72" height="6.50" fill="#243763" />
<rect x="420.46" y="563.70" width="3.72" height="6.50" fill="#2B5B9A" />
<rect x="423.78" y="563.70" width="3.72" height="6.50" fill="#2B5B9A" />
<rect x="427.10" y="563.70" width="3.72" height="6.50" fill="#8BBDD9" />
<rect x="430.42" y="563.70" width="3.72" height="6.50" fill="#3671B0" />
<rect x="433.74" y="563.70" width="3.72" height="6.50" fill="#C8DEEB" />
<rect x="437.06" y="563.70" width="3.72" height="6.50" fill="#8BBDD9" />
<rect x="440.38" y="563.70" width="3.72" height="6.50" fill="#8BBDD9" />
<rect x="443.70" y="563.70" width="3.72" height="6.50" fill="#3671B0" />
<rect x="447.02" y="563.70" width="3.72" height="6.50" fill="#243763" />
<rect x="450.34" y="563.70" width="3.72" height="6.50" fill="#4B8FC2" />
<rect x="453.66" y="563.70" width="3.72" height="6.50" fill="#8BBDD9" />
<rect x="456.98" y="563.70" width="3.72" height="6.50" fill="#4B8FC2" />
<rect x="460.30" y="563.70" width="3.72" height="6.50" fill="#4B8FC2" />
<rect x="463.62" y="563.70" width="3.72" height="6.50" fill="#3671B0" />
<rect x="466.94" y="563.70" width="3.72" height="6.50" fill="#2B5B9A" />
<rect x="470.26" y="563.70" width="3.72" height="6.50" fill="#2B5B9A" />
<rect x="393.90" y="569.80" width="3.72" height="6.50" fill="#C8DEEB" />
<rect x="397.22" y="569.80" width="3.72" height="6.50" fill="#3671B0" />
<rect x="400.54" y="569.80" width="3.72" height="6.50" fill="#4B8FC2" />
<rect x="403.86" y="569.80" width="3.72" height="6.50" fill="#3671B0" />
<rect x="407.18" y="569.80" width="3.72" height="6.50" fill="#EC9A7E" />
<rect x="410.50" y="569.80" width="3.72" height="6.50" fill="#3671B0" />
<rect x="413.82" y="569.80" width="3.72" height="6.50" fill="#4B8FC2" />
<rect x="417.14" y="569.80" width="3.72" height="6.50" fill="#3671B0" />
<rect x="420.46" y="569.80" width="3.72" height="6.50" fill="#2B5B9A" />
<rect x="423.78" y="569.80" width="3.72" height="6.50" fill="#F3EEEC" />
<rect x="427.10" y="569.80" width="3.72" height="6.50" fill="#8BBDD9" />
<rect x="430.42" y="569.80" width="3.72" height="6.50" fill="#3671B0" />
<rect x="433.74" y="569.80" width="3.72" height="6.50" fill="#4B8FC2" />
<rect x="437.06" y="569.80" width="3.72" height="6.50" fill="#F3EEEC" />
<rect x="440.38" y="569.80" width="3.72" height="6.50" fill="#4B8FC2" />
<rect x="443.70" y="569.80" width="3.72" height="6.50" fill="#4B8FC2" />
<rect x="447.02" y="569.80" width="3.72" height="6.50" fill="#4B8FC2" />
<rect x="450.34" y="569.80" width="3.72" height="6.50" fill="#2B5B9A" />
<rect x="453.66" y="569.80" width="3.72" height="6.50" fill="#8BBDD9" />
<rect x="456.98" y="569.80" width="3.72" height="6.50" fill="#4B8FC2" />
<rect x="460.30" y="569.80" width="3.72" height="6.50" fill="#8BBDD9" />
<rect x="463.62" y="569.80" width="3.72" height="6.50" fill="#4B8FC2" />
<rect x="466.94" y="569.80" width="3.72" height="6.50" fill="#4B8FC2" />
<rect x="470.26" y="569.80" width="3.72" height="6.50" fill="#F3EEEC" />
<rect x="393.90" y="575.90" width="3.72" height="6.50" fill="#3671B0" />
<rect x="397.22" y="575.90" width="3.72" height="6.50" fill="#3671B0" />
<rect x="400.54" y="575.90" width="3.72" height="6.50" fill="#2B5B9A" />
<rect x="403.86" y="575.90" width="3.72" height="6.50" fill="#243763" />
<rect x="407.18" y="575.90" width="3.72" height="6.50" fill="#4B8FC2" />
<rect x="410.50" y="575.90" width="3.72" height="6.50" fill="#4B8FC2" />
<rect x="413.82" y="575.90" width="3.72" height="6.50" fill="#C8DEEB" />
<rect x="417.14" y="575.90" width="3.72" height="6.50" fill="#2B5B9A" />
<rect x="420.46" y="575.90" width="3.72" height="6.50" fill="#2B5B9A" />
<rect x="423.78" y="575.90" width="3.72" height="6.50" fill="#243763" />
<rect x="427.10" y="575.90" width="3.72" height="6.50" fill="#3671B0" />
<rect x="430.42" y="575.90" width="3.72" height="6.50" fill="#3671B0" />
<rect x="433.74" y="575.90" width="3.72" height="6.50" fill="#3671B0" />
<rect x="437.06" y="575.90" width="3.72" height="6.50" fill="#4B8FC2" />
<rect x="440.38" y="575.90" width="3.72" height="6.50" fill="#3671B0" />
<rect x="443.70" y="575.90" width="3.72" height="6.50" fill="#3671B0" />
<rect x="447.02" y="575.90" width="3.72" height="6.50" fill="#2B5B9A" />
<rect x="450.34" y="575.90" width="3.72" height="6.50" fill="#3671B0" />
<rect x="453.66" y="575.90" width="3.72" height="6.50" fill="#243763" />
<rect x="456.98" y="575.90" width="3.72" height="6.50" fill="#2B5B9A" />
<rect x="460.30" y="575.90" width="3.72" height="6.50" fill="#3671B0" />
<rect x="463.62" y="575.90" width="3.72" height="6.50" fill="#4B8FC2" />
<rect x="466.94" y="575.90" width="3.72" height="6.50" fill="#2B5B9A" />
<rect x="470.26" y="575.90" width="3.72" height="6.50" fill="#8BBDD9" />
<rect x="393.90" y="582.00" width="3.72" height="6.50" fill="#F3EEEC" />
<rect x="397.22" y="582.00" width="3.72" height="6.50" fill="#4B8FC2" />
<rect x="400.54" y="582.00" width="3.72" height="6.50" fill="#8BBDD9" />
<rect x="403.86" y="582.00" width="3.72" height="6.50" fill="#8BBDD9" />
<rect x="407.18" y="582.00" width="3.72" height="6.50" fill="#F3EEEC" />
<rect x="410.50" y="582.00" width="3.72" height="6.50" fill="#EC9A7E" />
<rect x="413.82" y="582.00" width="3.72" height="6.50" fill="#3671B0" />
<rect x="417.14" y="582.00" width="3.72" height="6.50" fill="#8BBDD9" />
<rect x="420.46" y="582.00" width="3.72" height="6.50" fill="#4B8FC2" />
<rect x="423.78" y="582.00" width="3.72" height="6.50" fill="#8BBDD9" />
<rect x="427.10" y="582.00" width="3.72" height="6.50" fill="#EC9A7E" />
<rect x="430.42" y="582.00" width="3.72" height="6.50" fill="#4B8FC2" />
<rect x="433.74" y="582.00" width="3.72" height="6.50" fill="#F8CDB8" />
<rect x="437.06" y="582.00" width="3.72" height="6.50" fill="#C44A45" />
<rect x="440.38" y="582.00" width="3.72" height="6.50" fill="#4B8FC2" />
<rect x="443.70" y="582.00" width="3.72" height="6.50" fill="#F8CDB8" />
<rect x="447.02" y="582.00" width="3.72" height="6.50" fill="#2B5B9A" />
<rect x="450.34" y="582.00" width="3.72" height="6.50" fill="#243763" />
<rect x="453.66" y="582.00" width="3.72" height="6.50" fill="#3671B0" />
<rect x="456.98" y="582.00" width="3.72" height="6.50" fill="#3671B0" />
<rect x="460.30" y="582.00" width="3.72" height="6.50" fill="#3671B0" />
<rect x="463.62" y="582.00" width="3.72" height="6.50" fill="#3671B0" />
<rect x="466.94" y="582.00" width="3.72" height="6.50" fill="#F3EEEC" />
<rect x="470.26" y="582.00" width="3.72" height="6.50" fill="#C8DEEB" />
<rect x="393.90" y="588.10" width="3.72" height="6.50" fill="#C8DEEB" />
<rect x="397.22" y="588.10" width="3.72" height="6.50" fill="#2B5B9A" />
<rect x="400.54" y="588.10" width="3.72" height="6.50" fill="#4B8FC2" />
<rect x="403.86" y="588.10" width="3.72" height="6.50" fill="#3671B0" />
<rect x="407.18" y="588.10" width="3.72" height="6.50" fill="#C8DEEB" />
<rect x="410.50" y="588.10" width="3.72" height="6.50" fill="#2B5B9A" />
<rect x="413.82" y="588.10" width="3.72" height="6.50" fill="#4B8FC2" />
<rect x="417.14" y="588.10" width="3.72" height="6.50" fill="#2B5B9A" />
<rect x="420.46" y="588.10" width="3.72" height="6.50" fill="#4B8FC2" />
<rect x="423.78" y="588.10" width="3.72" height="6.50" fill="#3671B0" />
<rect x="427.10" y="588.10" width="3.72" height="6.50" fill="#8BBDD9" />
<rect x="430.42" y="588.10" width="3.72" height="6.50" fill="#243763" />
<rect x="433.74" y="588.10" width="3.72" height="6.50" fill="#3671B0" />
<rect x="437.06" y="588.10" width="3.72" height="6.50" fill="#8BBDD9" />
<rect x="440.38" y="588.10" width="3.72" height="6.50" fill="#C8DEEB" />
<rect x="443.70" y="588.10" width="3.72" height="6.50" fill="#243763" />
<rect x="447.02" y="588.10" width="3.72" height="6.50" fill="#2B5B9A" />
<rect x="450.34" y="588.10" width="3.72" height="6.50" fill="#3671B0" />
<rect x="453.66" y="588.10" width="3.72" height="6.50" fill="#243763" />
<rect x="456.98" y="588.10" width="3.72" height="6.50" fill="#4B8FC2" />
<rect x="460.30" y="588.10" width="3.72" height="6.50" fill="#3671B0" />
<rect x="463.62" y="588.10" width="3.72" height="6.50" fill="#3671B0" />
<rect x="466.94" y="588.10" width="3.72" height="6.50" fill="#2B5B9A" />
<rect x="470.26" y="588.10" width="3.72" height="6.50" fill="#3671B0" />
<rect x="393.90" y="594.20" width="3.72" height="6.50" fill="#2B5B9A" />
<rect x="397.22" y="594.20" width="3.72" height="6.50" fill="#3671B0" />
<rect x="400.54" y="594.20" width="3.72" height="6.50" fill="#2B5B9A" />
<rect x="403.86" y="594.20" width="3.72" height="6.50" fill="#3671B0" />
<rect x="407.18" y="594.20" width="3.72" height="6.50" fill="#4B8FC2" />
<rect x="410.50" y="594.20" width="3.72" height="6.50" fill="#4B8FC2" />
<rect x="413.82" y="594.20" width="3.72" height="6.50" fill="#2B5B9A" />
<rect x="417.14" y="594.20" width="3.72" height="6.50" fill="#3671B0" />
<rect x="420.46" y="594.20" width="3.72" height="6.50" fill="#2B5B9A" />
<rect x="423.78" y="594.20" width="3.72" height="6.50" fill="#3671B0" />
<rect x="427.10" y="594.20" width="3.72" height="6.50" fill="#3671B0" />
<rect x="430.42" y="594.20" width="3.72" height="6.50" fill="#3671B0" />
<rect x="433.74" y="594.20" width="3.72" height="6.50" fill="#3671B0" />
<rect x="437.06" y="594.20" width="3.72" height="6.50" fill="#F3EEEC" />
<rect x="440.38" y="594.20" width="3.72" height="6.50" fill="#2B5B9A" />
<rect x="443.70" y="594.20" width="3.72" height="6.50" fill="#4B8FC2" />
<rect x="447.02" y="594.20" width="3.72" height="6.50" fill="#4B8FC2" />
<rect x="450.34" y="594.20" width="3.72" height="6.50" fill="#2B5B9A" />
<rect x="453.66" y="594.20" width="3.72" height="6.50" fill="#8BBDD9" />
<rect x="456.98" y="594.20" width="3.72" height="6.50" fill="#F8CDB8" />
<rect x="460.30" y="594.20" width="3.72" height="6.50" fill="#4B8FC2" />
<rect x="463.62" y="594.20" width="3.72" height="6.50" fill="#8BBDD9" />
<rect x="466.94" y="594.20" width="3.72" height="6.50" fill="#4B8FC2" />
<rect x="470.26" y="594.20" width="3.72" height="6.50" fill="#C8DEEB" />
<rect x="393.90" y="600.30" width="3.72" height="6.50" fill="#F3EEEC" />
<rect x="397.22" y="600.30" width="3.72" height="6.50" fill="#3671B0" />
<rect x="400.54" y="600.30" width="3.72" height="6.50" fill="#3671B0" />
<rect x="403.86" y="600.30" width="3.72" height="6.50" fill="#4B8FC2" />
<rect x="407.18" y="600.30" width="3.72" height="6.50" fill="#F8CDB8" />
<rect x="410.50" y="600.30" width="3.72" height="6.50" fill="#8BBDD9" />
<rect x="413.82" y="600.30" width="3.72" height="6.50" fill="#8BBDD9" />
<rect x="417.14" y="600.30" width="3.72" height="6.50" fill="#2B5B9A" />
<rect x="420.46" y="600.30" width="3.72" height="6.50" fill="#2B5B9A" />
<rect x="423.78" y="600.30" width="3.72" height="6.50" fill="#8BBDD9" />
<rect x="427.10" y="600.30" width="3.72" height="6.50" fill="#F3EEEC" />
<rect x="430.42" y="600.30" width="3.72" height="6.50" fill="#2B5B9A" />
<rect x="433.74" y="600.30" width="3.72" height="6.50" fill="#4B8FC2" />
<rect x="437.06" y="600.30" width="3.72" height="6.50" fill="#C8DEEB" />
<rect x="440.38" y="600.30" width="3.72" height="6.50" fill="#C8DEEB" />
<rect x="443.70" y="600.30" width="3.72" height="6.50" fill="#4B8FC2" />
<rect x="447.02" y="600.30" width="3.72" height="6.50" fill="#4B8FC2" />
<rect x="450.34" y="600.30" width="3.72" height="6.50" fill="#4B8FC2" />
<rect x="453.66" y="600.30" width="3.72" height="6.50" fill="#4B8FC2" />
<rect x="456.98" y="600.30" width="3.72" height="6.50" fill="#4B8FC2" />
<rect x="460.30" y="600.30" width="3.72" height="6.50" fill="#F8CDB8" />
<rect x="463.62" y="600.30" width="3.72" height="6.50" fill="#4B8FC2" />
<rect x="466.94" y="600.30" width="3.72" height="6.50" fill="#4B8FC2" />
<rect x="470.26" y="600.30" width="3.72" height="6.50" fill="#4B8FC2" />
<rect x="393.90" y="606.40" width="3.72" height="6.50" fill="#2B5B9A" />
<rect x="397.22" y="606.40" width="3.72" height="6.50" fill="#3671B0" />
<rect x="400.54" y="606.40" width="3.72" height="6.50" fill="#2B5B9A" />
<rect x="403.86" y="606.40" width="3.72" height="6.50" fill="#243763" />
<rect x="407.18" y="606.40" width="3.72" height="6.50" fill="#2B5B9A" />
<rect x="410.50" y="606.40" width="3.72" height="6.50" fill="#243763" />
<rect x="413.82" y="606.40" width="3.72" height="6.50" fill="#2B5B9A" />
<rect x="417.14" y="606.40" width="3.72" height="6.50" fill="#243763" />
<rect x="420.46" y="606.40" width="3.72" height="6.50" fill="#2B5B9A" />
<rect x="423.78" y="606.40" width="3.72" height="6.50" fill="#243763" />
<rect x="427.10" y="606.40" width="3.72" height="6.50" fill="#243763" />
<rect x="430.42" y="606.40" width="3.72" height="6.50" fill="#243763" />
<rect x="433.74" y="606.40" width="3.72" height="6.50" fill="#2B5B9A" />
<rect x="437.06" y="606.40" width="3.72" height="6.50" fill="#243763" />
<rect x="440.38" y="606.40" width="3.72" height="6.50" fill="#243763" />
<rect x="443.70" y="606.40" width="3.72" height="6.50" fill="#243763" />
<rect x="447.02" y="606.40" width="3.72" height="6.50" fill="#3671B0" />
<rect x="450.34" y="606.40" width="3.72" height="6.50" fill="#243763" />
<rect x="453.66" y="606.40" width="3.72" height="6.50" fill="#243763" />
<rect x="456.98" y="606.40" width="3.72" height="6.50" fill="#4B8FC2" />
<rect x="460.30" y="606.40" width="3.72" height="6.50" fill="#243763" />
<rect x="463.62" y="606.40" width="3.72" height="6.50" fill="#243763" />
<rect x="466.94" y="606.40" width="3.72" height="6.50" fill="#3671B0" />
<rect x="470.26" y="606.40" width="3.72" height="6.50" fill="#243763" />
<rect x="393.90" y="612.50" width="3.72" height="6.50" fill="#3671B0" />
<rect x="397.22" y="612.50" width="3.72" height="6.50" fill="#243763" />
<rect x="400.54" y="612.50" width="3.72" height="6.50" fill="#2B5B9A" />
<rect x="403.86" y="612.50" width="3.72" height="6.50" fill="#3671B0" />
<rect x="407.18" y="612.50" width="3.72" height="6.50" fill="#3671B0" />
<rect x="410.50" y="612.50" width="3.72" height="6.50" fill="#3671B0" />
<rect x="413.82" y="612.50" width="3.72" height="6.50" fill="#2B5B9A" />
<rect x="417.14" y="612.50" width="3.72" height="6.50" fill="#243763" />
<rect x="420.46" y="612.50" width="3.72" height="6.50" fill="#3671B0" />
<rect x="423.78" y="612.50" width="3.72" height="6.50" fill="#2B5B9A" />
<rect x="427.10" y="612.50" width="3.72" height="6.50" fill="#4B8FC2" />
<rect x="430.42" y="612.50" width="3.72" height="6.50" fill="#243763" />
<rect x="433.74" y="612.50" width="3.72" height="6.50" fill="#3671B0" />
<rect x="437.06" y="612.50" width="3.72" height="6.50" fill="#3671B0" />
<rect x="440.38" y="612.50" width="3.72" height="6.50" fill="#3671B0" />
<rect x="443.70" y="612.50" width="3.72" height="6.50" fill="#2B5B9A" />
<rect x="447.02" y="612.50" width="3.72" height="6.50" fill="#2B5B9A" />
<rect x="450.34" y="612.50" width="3.72" height="6.50" fill="#3671B0" />
<rect x="453.66" y="612.50" width="3.72" height="6.50" fill="#243763" />
<rect x="456.98" y="612.50" width="3.72" height="6.50" fill="#4B8FC2" />
<rect x="460.30" y="612.50" width="3.72" height="6.50" fill="#3671B0" />
<rect x="463.62" y="612.50" width="3.72" height="6.50" fill="#3671B0" />
<rect x="466.94" y="612.50" width="3.72" height="6.50" fill="#3671B0" />
<rect x="470.26" y="612.50" width="3.72" height="6.50" fill="#2B5B9A" />
<rect x="393.90" y="618.60" width="3.72" height="6.50" fill="#4B8FC2" />
<rect x="397.22" y="618.60" width="3.72" height="6.50" fill="#2B5B9A" />
<rect x="400.54" y="618.60" width="3.72" height="6.50" fill="#3671B0" />
<rect x="403.86" y="618.60" width="3.72" height="6.50" fill="#4B8FC2" />
<rect x="407.18" y="618.60" width="3.72" height="6.50" fill="#4B8FC2" />
<rect x="410.50" y="618.60" width="3.72" height="6.50" fill="#3671B0" />
<rect x="413.82" y="618.60" width="3.72" height="6.50" fill="#4B8FC2" />
<rect x="417.14" y="618.60" width="3.72" height="6.50" fill="#3671B0" />
<rect x="420.46" y="618.60" width="3.72" height="6.50" fill="#3671B0" />
<rect x="423.78" y="618.60" width="3.72" height="6.50" fill="#4B8FC2" />
<rect x="427.10" y="618.60" width="3.72" height="6.50" fill="#C8DEEB" />
<rect x="430.42" y="618.60" width="3.72" height="6.50" fill="#2B5B9A" />
<rect x="433.74" y="618.60" width="3.72" height="6.50" fill="#4B8FC2" />
<rect x="437.06" y="618.60" width="3.72" height="6.50" fill="#8BBDD9" />
<rect x="440.38" y="618.60" width="3.72" height="6.50" fill="#EC9A7E" />
<rect x="443.70" y="618.60" width="3.72" height="6.50" fill="#4B8FC2" />
<rect x="447.02" y="618.60" width="3.72" height="6.50" fill="#2B5B9A" />
<rect x="450.34" y="618.60" width="3.72" height="6.50" fill="#3671B0" />
<rect x="453.66" y="618.60" width="3.72" height="6.50" fill="#3671B0" />
<rect x="456.98" y="618.60" width="3.72" height="6.50" fill="#4B8FC2" />
<rect x="460.30" y="618.60" width="3.72" height="6.50" fill="#3671B0" />
<rect x="463.62" y="618.60" width="3.72" height="6.50" fill="#4B8FC2" />
<rect x="466.94" y="618.60" width="3.72" height="6.50" fill="#3671B0" />
<rect x="470.26" y="618.60" width="3.72" height="6.50" fill="#3671B0" />
<rect x="393.90" y="624.70" width="3.72" height="6.50" fill="#F3EEEC" />
<rect x="397.22" y="624.70" width="3.72" height="6.50" fill="#4B8FC2" />
<rect x="400.54" y="624.70" width="3.72" height="6.50" fill="#F3EEEC" />
<rect x="403.86" y="624.70" width="3.72" height="6.50" fill="#8BBDD9" />
<rect x="407.18" y="624.70" width="3.72" height="6.50" fill="#8BBDD9" />
<rect x="410.50" y="624.70" width="3.72" height="6.50" fill="#8BBDD9" />
<rect x="413.82" y="624.70" width="3.72" height="6.50" fill="#3671B0" />
<rect x="417.14" y="624.70" width="3.72" height="6.50" fill="#4B8FC2" />
<rect x="420.46" y="624.70" width="3.72" height="6.50" fill="#3671B0" />
<rect x="423.78" y="624.70" width="3.72" height="6.50" fill="#4B8FC2" />
<rect x="427.10" y="624.70" width="3.72" height="6.50" fill="#EC9A7E" />
<rect x="430.42" y="624.70" width="3.72" height="6.50" fill="#243763" />
<rect x="433.74" y="624.70" width="3.72" height="6.50" fill="#4B8FC2" />
<rect x="437.06" y="624.70" width="3.72" height="6.50" fill="#C8DEEB" />
<rect x="440.38" y="624.70" width="3.72" height="6.50" fill="#F3EEEC" />
<rect x="443.70" y="624.70" width="3.72" height="6.50" fill="#C8DEEB" />
<rect x="447.02" y="624.70" width="3.72" height="6.50" fill="#F3EEEC" />
<rect x="450.34" y="624.70" width="3.72" height="6.50" fill="#C8DEEB" />
<rect x="453.66" y="624.70" width="3.72" height="6.50" fill="#4B8FC2" />
<rect x="456.98" y="624.70" width="3.72" height="6.50" fill="#F8CDB8" />
<rect x="460.30" y="624.70" width="3.72" height="6.50" fill="#C8DEEB" />
<rect x="463.62" y="624.70" width="3.72" height="6.50" fill="#C8DEEB" />
<rect x="466.94" y="624.70" width="3.72" height="6.50" fill="#8BBDD9" />
<rect x="470.26" y="624.70" width="3.72" height="6.50" fill="#4B8FC2" />
<rect x="393.90" y="630.80" width="3.72" height="6.50" fill="#4B8FC2" />
<rect x="397.22" y="630.80" width="3.72" height="6.50" fill="#3671B0" />
<rect x="400.54" y="630.80" width="3.72" height="6.50" fill="#8BBDD9" />
<rect x="403.86" y="630.80" width="3.72" height="6.50" fill="#3671B0" />
<rect x="407.18" y="630.80" width="3.72" height="6.50" fill="#F3EEEC" />
<rect x="410.50" y="630.80" width="3.72" height="6.50" fill="#4B8FC2" />
<rect x="413.82" y="630.80" width="3.72" height="6.50" fill="#2B5B9A" />
<rect x="417.14" y="630.80" width="3.72" height="6.50" fill="#F8CDB8" />
<rect x="420.46" y="630.80" width="3.72" height="6.50" fill="#3671B0" />
<rect x="423.78" y="630.80" width="3.72" height="6.50" fill="#8BBDD9" />
<rect x="427.10" y="630.80" width="3.72" height="6.50" fill="#8BBDD9" />
<rect x="430.42" y="630.80" width="3.72" height="6.50" fill="#3671B0" />
<rect x="433.74" y="630.80" width="3.72" height="6.50" fill="#EC9A7E" />
<rect x="437.06" y="630.80" width="3.72" height="6.50" fill="#4B8FC2" />
<rect x="440.38" y="630.80" width="3.72" height="6.50" fill="#2B5B9A" />
<rect x="443.70" y="630.80" width="3.72" height="6.50" fill="#8BBDD9" />
<rect x="447.02" y="630.80" width="3.72" height="6.50" fill="#3671B0" />
<rect x="450.34" y="630.80" width="3.72" height="6.50" fill="#4B8FC2" />
<rect x="453.66" y="630.80" width="3.72" height="6.50" fill="#4B8FC2" />
<rect x="456.98" y="630.80" width="3.72" height="6.50" fill="#3671B0" />
<rect x="460.30" y="630.80" width="3.72" height="6.50" fill="#F3EEEC" />
<rect x="463.62" y="630.80" width="3.72" height="6.50" fill="#3671B0" />
<rect x="466.94" y="630.80" width="3.72" height="6.50" fill="#3671B0" />
<rect x="470.26" y="630.80" width="3.72" height="6.50" fill="#4B8FC2" />
<rect x="393.90" y="636.90" width="3.72" height="6.50" fill="#F8CDB8" />
<rect x="397.22" y="636.90" width="3.72" height="6.50" fill="#F3EEEC" />
<rect x="400.54" y="636.90" width="3.72" height="6.50" fill="#C8DEEB" />
<rect x="403.86" y="636.90" width="3.72" height="6.50" fill="#3671B0" />
<rect x="407.18" y="636.90" width="3.72" height="6.50" fill="#3671B0" />
<rect x="410.50" y="636.90" width="3.72" height="6.50" fill="#8BBDD9" />
<rect x="413.82" y="636.90" width="3.72" height="6.50" fill="#4B8FC2" />
<rect x="417.14" y="636.90" width="3.72" height="6.50" fill="#78182A" />
<rect x="420.46" y="636.90" width="3.72" height="6.50" fill="#2B5B9A" />
<rect x="423.78" y="636.90" width="3.72" height="6.50" fill="#F3EEEC" />
<rect x="427.10" y="636.90" width="3.72" height="6.50" fill="#F3EEEC" />
<rect x="430.42" y="636.90" width="3.72" height="6.50" fill="#8BBDD9" />
<rect x="433.74" y="636.90" width="3.72" height="6.50" fill="#3671B0" />
<rect x="437.06" y="636.90" width="3.72" height="6.50" fill="#8BBDD9" />
<rect x="440.38" y="636.90" width="3.72" height="6.50" fill="#C44A45" />
<rect x="443.70" y="636.90" width="3.72" height="6.50" fill="#C8DEEB" />
<rect x="447.02" y="636.90" width="3.72" height="6.50" fill="#C8DEEB" />
<rect x="450.34" y="636.90" width="3.72" height="6.50" fill="#C8DEEB" />
<rect x="453.66" y="636.90" width="3.72" height="6.50" fill="#F3EEEC" />
<rect x="456.98" y="636.90" width="3.72" height="6.50" fill="#2B5B9A" />
<rect x="460.30" y="636.90" width="3.72" height="6.50" fill="#F3EEEC" />
<rect x="463.62" y="636.90" width="3.72" height="6.50" fill="#F3EEEC" />
<rect x="466.94" y="636.90" width="3.72" height="6.50" fill="#C8DEEB" />
<rect x="470.26" y="636.90" width="3.72" height="6.50" fill="#2B5B9A" />
<rect x="393.90" y="643.00" width="3.72" height="6.50" fill="#4B8FC2" />
<rect x="397.22" y="643.00" width="3.72" height="6.50" fill="#C8DEEB" />
<rect x="400.54" y="643.00" width="3.72" height="6.50" fill="#F8CDB8" />
<rect x="403.86" y="643.00" width="3.72" height="6.50" fill="#3671B0" />
<rect x="407.18" y="643.00" width="3.72" height="6.50" fill="#C8DEEB" />
<rect x="410.50" y="643.00" width="3.72" height="6.50" fill="#F8CDB8" />
<rect x="413.82" y="643.00" width="3.72" height="6.50" fill="#3671B0" />
<rect x="417.14" y="643.00" width="3.72" height="6.50" fill="#3671B0" />
<rect x="420.46" y="643.00" width="3.72" height="6.50" fill="#2B5B9A" />
<rect x="423.78" y="643.00" width="3.72" height="6.50" fill="#8BBDD9" />
<rect x="427.10" y="643.00" width="3.72" height="6.50" fill="#EC9A7E" />
<rect x="430.42" y="643.00" width="3.72" height="6.50" fill="#2B5B9A" />
<rect x="433.74" y="643.00" width="3.72" height="6.50" fill="#F8CDB8" />
<rect x="437.06" y="643.00" width="3.72" height="6.50" fill="#C8DEEB" />
<rect x="440.38" y="643.00" width="3.72" height="6.50" fill="#C8DEEB" />
<rect x="443.70" y="643.00" width="3.72" height="6.50" fill="#4B8FC2" />
<rect x="447.02" y="643.00" width="3.72" height="6.50" fill="#8BBDD9" />
<rect x="450.34" y="643.00" width="3.72" height="6.50" fill="#3671B0" />
<rect x="453.66" y="643.00" width="3.72" height="6.50" fill="#3671B0" />
<rect x="456.98" y="643.00" width="3.72" height="6.50" fill="#EC9A7E" />
<rect x="460.30" y="643.00" width="3.72" height="6.50" fill="#8BBDD9" />
<rect x="463.62" y="643.00" width="3.72" height="6.50" fill="#8BBDD9" />
<rect x="466.94" y="643.00" width="3.72" height="6.50" fill="#4B8FC2" />
<rect x="470.26" y="643.00" width="3.72" height="6.50" fill="#4B8FC2" />
<rect x="393.90" y="649.10" width="3.72" height="6.50" fill="#243763" />
<rect x="397.22" y="649.10" width="3.72" height="6.50" fill="#2B5B9A" />
<rect x="400.54" y="649.10" width="3.72" height="6.50" fill="#2B5B9A" />
<rect x="403.86" y="649.10" width="3.72" height="6.50" fill="#2B5B9A" />
<rect x="407.18" y="649.10" width="3.72" height="6.50" fill="#243763" />
<rect x="410.50" y="649.10" width="3.72" height="6.50" fill="#243763" />
<rect x="413.82" y="649.10" width="3.72" height="6.50" fill="#243763" />
<rect x="417.14" y="649.10" width="3.72" height="6.50" fill="#243763" />
<rect x="420.46" y="649.10" width="3.72" height="6.50" fill="#243763" />
<rect x="423.78" y="649.10" width="3.72" height="6.50" fill="#243763" />
<rect x="427.10" y="649.10" width="3.72" height="6.50" fill="#243763" />
<rect x="430.42" y="649.10" width="3.72" height="6.50" fill="#243763" />
<rect x="433.74" y="649.10" width="3.72" height="6.50" fill="#2B5B9A" />
<rect x="437.06" y="649.10" width="3.72" height="6.50" fill="#243763" />
<rect x="440.38" y="649.10" width="3.72" height="6.50" fill="#243763" />
<rect x="443.70" y="649.10" width="3.72" height="6.50" fill="#243763" />
<rect x="447.02" y="649.10" width="3.72" height="6.50" fill="#243763" />
<rect x="450.34" y="649.10" width="3.72" height="6.50" fill="#243763" />
<rect x="453.66" y="649.10" width="3.72" height="6.50" fill="#243763" />
<rect x="456.98" y="649.10" width="3.72" height="6.50" fill="#EC9A7E" />
<rect x="460.30" y="649.10" width="3.72" height="6.50" fill="#243763" />
<rect x="463.62" y="649.10" width="3.72" height="6.50" fill="#2B5B9A" />
<rect x="466.94" y="649.10" width="3.72" height="6.50" fill="#243763" />
<rect x="470.26" y="649.10" width="3.72" height="6.50" fill="#243763" />
<rect x="393.30" y="508.40" width="81.00" height="147.20" fill="none" stroke="#111" stroke-width="1.2"/>
<rect x="478.00" y="508.80" width="3.73" height="6.50" fill="#3671B0" />
<rect x="481.33" y="508.80" width="3.73" height="6.50" fill="#C8DEEB" />
<rect x="484.66" y="508.80" width="3.73" height="6.50" fill="#2B5B9A" />
<rect x="487.99" y="508.80" width="3.73" height="6.50" fill="#2B5B9A" />
<rect x="491.32" y="508.80" width="3.73" height="6.50" fill="#2B5B9A" />
<rect x="494.65" y="508.80" width="3.73" height="6.50" fill="#3671B0" />
<rect x="497.98" y="508.80" width="3.73" height="6.50" fill="#3671B0" />
<rect x="501.31" y="508.80" width="3.73" height="6.50" fill="#8BBDD9" />
<rect x="504.64" y="508.80" width="3.73" height="6.50" fill="#4B8FC2" />
<rect x="507.97" y="508.80" width="3.73" height="6.50" fill="#3671B0" />
<rect x="511.30" y="508.80" width="3.73" height="6.50" fill="#8BBDD9" />
<rect x="514.63" y="508.80" width="3.73" height="6.50" fill="#4B8FC2" />
<rect x="517.96" y="508.80" width="3.73" height="6.50" fill="#2B5B9A" />
<rect x="478.00" y="514.90" width="3.73" height="6.50" fill="#C44A45" />
<rect x="481.33" y="514.90" width="3.73" height="6.50" fill="#F8CDB8" />
<rect x="484.66" y="514.90" width="3.73" height="6.50" fill="#EC9A7E" />
<rect x="487.99" y="514.90" width="3.73" height="6.50" fill="#4B8FC2" />
<rect x="491.32" y="514.90" width="3.73" height="6.50" fill="#8BBDD9" />
<rect x="494.65" y="514.90" width="3.73" height="6.50" fill="#F8CDB8" />
<rect x="497.98" y="514.90" width="3.73" height="6.50" fill="#4B8FC2" />
<rect x="501.31" y="514.90" width="3.73" height="6.50" fill="#3671B0" />
<rect x="504.64" y="514.90" width="3.73" height="6.50" fill="#C44A45" />
<rect x="507.97" y="514.90" width="3.73" height="6.50" fill="#8BBDD9" />
<rect x="511.30" y="514.90" width="3.73" height="6.50" fill="#4B8FC2" />
<rect x="514.63" y="514.90" width="3.73" height="6.50" fill="#4B8FC2" />
<rect x="517.96" y="514.90" width="3.73" height="6.50" fill="#C8DEEB" />
<rect x="478.00" y="521.00" width="3.73" height="6.50" fill="#243763" />
<rect x="481.33" y="521.00" width="3.73" height="6.50" fill="#4B8FC2" />
<rect x="484.66" y="521.00" width="3.73" height="6.50" fill="#4B8FC2" />
<rect x="487.99" y="521.00" width="3.73" height="6.50" fill="#243763" />
<rect x="491.32" y="521.00" width="3.73" height="6.50" fill="#243763" />
<rect x="494.65" y="521.00" width="3.73" height="6.50" fill="#8BBDD9" />
<rect x="497.98" y="521.00" width="3.73" height="6.50" fill="#243763" />
<rect x="501.31" y="521.00" width="3.73" height="6.50" fill="#3671B0" />
<rect x="504.64" y="521.00" width="3.73" height="6.50" fill="#3671B0" />
<rect x="507.97" y="521.00" width="3.73" height="6.50" fill="#78182A" />
<rect x="511.30" y="521.00" width="3.73" height="6.50" fill="#F3EEEC" />
<rect x="514.63" y="521.00" width="3.73" height="6.50" fill="#8BBDD9" />
<rect x="517.96" y="521.00" width="3.73" height="6.50" fill="#243763" />
<rect x="478.00" y="527.10" width="3.73" height="6.50" fill="#3671B0" />
<rect x="481.33" y="527.10" width="3.73" height="6.50" fill="#F3EEEC" />
<rect x="484.66" y="527.10" width="3.73" height="6.50" fill="#F3EEEC" />
<rect x="487.99" y="527.10" width="3.73" height="6.50" fill="#3671B0" />
<rect x="491.32" y="527.10" width="3.73" height="6.50" fill="#EC9A7E" />
<rect x="494.65" y="527.10" width="3.73" height="6.50" fill="#4B8FC2" />
<rect x="497.98" y="527.10" width="3.73" height="6.50" fill="#4B8FC2" />
<rect x="501.31" y="527.10" width="3.73" height="6.50" fill="#243763" />
<rect x="504.64" y="527.10" width="3.73" height="6.50" fill="#78182A" />
<rect x="507.97" y="527.10" width="3.73" height="6.50" fill="#EC9A7E" />
<rect x="511.30" y="527.10" width="3.73" height="6.50" fill="#2B5B9A" />
<rect x="514.63" y="527.10" width="3.73" height="6.50" fill="#C44A45" />
<rect x="517.96" y="527.10" width="3.73" height="6.50" fill="#4B8FC2" />
<rect x="478.00" y="533.20" width="3.73" height="6.50" fill="#3671B0" />
<rect x="481.33" y="533.20" width="3.73" height="6.50" fill="#243763" />
<rect x="484.66" y="533.20" width="3.73" height="6.50" fill="#4B8FC2" />
<rect x="487.99" y="533.20" width="3.73" height="6.50" fill="#3671B0" />
<rect x="491.32" y="533.20" width="3.73" height="6.50" fill="#C8DEEB" />
<rect x="494.65" y="533.20" width="3.73" height="6.50" fill="#4B8FC2" />
<rect x="497.98" y="533.20" width="3.73" height="6.50" fill="#78182A" />
<rect x="501.31" y="533.20" width="3.73" height="6.50" fill="#4B8FC2" />
<rect x="504.64" y="533.20" width="3.73" height="6.50" fill="#F3EEEC" />
<rect x="507.97" y="533.20" width="3.73" height="6.50" fill="#3671B0" />
<rect x="511.30" y="533.20" width="3.73" height="6.50" fill="#4B8FC2" />
<rect x="514.63" y="533.20" width="3.73" height="6.50" fill="#243763" />
<rect x="517.96" y="533.20" width="3.73" height="6.50" fill="#243763" />
<rect x="478.00" y="539.30" width="3.73" height="6.50" fill="#8BBDD9" />
<rect x="481.33" y="539.30" width="3.73" height="6.50" fill="#8BBDD9" />
<rect x="484.66" y="539.30" width="3.73" height="6.50" fill="#EC9A7E" />
<rect x="487.99" y="539.30" width="3.73" height="6.50" fill="#C8DEEB" />
<rect x="491.32" y="539.30" width="3.73" height="6.50" fill="#C8DEEB" />
<rect x="494.65" y="539.30" width="3.73" height="6.50" fill="#C8DEEB" />
<rect x="497.98" y="539.30" width="3.73" height="6.50" fill="#3671B0" />
<rect x="501.31" y="539.30" width="3.73" height="6.50" fill="#C8DEEB" />
<rect x="504.64" y="539.30" width="3.73" height="6.50" fill="#F3EEEC" />
<rect x="507.97" y="539.30" width="3.73" height="6.50" fill="#8BBDD9" />
<rect x="511.30" y="539.30" width="3.73" height="6.50" fill="#8BBDD9" />
<rect x="514.63" y="539.30" width="3.73" height="6.50" fill="#78182A" />
<rect x="517.96" y="539.30" width="3.73" height="6.50" fill="#8BBDD9" />
<rect x="478.00" y="545.40" width="3.73" height="6.50" fill="#F3EEEC" />
<rect x="481.33" y="545.40" width="3.73" height="6.50" fill="#78182A" />
<rect x="484.66" y="545.40" width="3.73" height="6.50" fill="#F8CDB8" />
<rect x="487.99" y="545.40" width="3.73" height="6.50" fill="#F8CDB8" />
<rect x="491.32" y="545.40" width="3.73" height="6.50" fill="#F8CDB8" />
<rect x="494.65" y="545.40" width="3.73" height="6.50" fill="#F8CDB8" />
<rect x="497.98" y="545.40" width="3.73" height="6.50" fill="#EC9A7E" />
<rect x="501.31" y="545.40" width="3.73" height="6.50" fill="#243763" />
<rect x="504.64" y="545.40" width="3.73" height="6.50" fill="#EC9A7E" />
<rect x="507.97" y="545.40" width="3.73" height="6.50" fill="#78182A" />
<rect x="511.30" y="545.40" width="3.73" height="6.50" fill="#EC9A7E" />
<rect x="514.63" y="545.40" width="3.73" height="6.50" fill="#C8DEEB" />
<rect x="517.96" y="545.40" width="3.73" height="6.50" fill="#C44A45" />
<rect x="478.00" y="551.50" width="3.73" height="6.50" fill="#F8CDB8" />
<rect x="481.33" y="551.50" width="3.73" height="6.50" fill="#8BBDD9" />
<rect x="484.66" y="551.50" width="3.73" height="6.50" fill="#F3EEEC" />
<rect x="487.99" y="551.50" width="3.73" height="6.50" fill="#3671B0" />
<rect x="491.32" y="551.50" width="3.73" height="6.50" fill="#F8CDB8" />
<rect x="494.65" y="551.50" width="3.73" height="6.50" fill="#C44A45" />
<rect x="497.98" y="551.50" width="3.73" height="6.50" fill="#C8DEEB" />
<rect x="501.31" y="551.50" width="3.73" height="6.50" fill="#8BBDD9" />
<rect x="504.64" y="551.50" width="3.73" height="6.50" fill="#EC9A7E" />
<rect x="507.97" y="551.50" width="3.73" height="6.50" fill="#78182A" />
<rect x="511.30" y="551.50" width="3.73" height="6.50" fill="#8BBDD9" />
<rect x="514.63" y="551.50" width="3.73" height="6.50" fill="#8BBDD9" />
<rect x="517.96" y="551.50" width="3.73" height="6.50" fill="#F3EEEC" />
<rect x="478.00" y="557.60" width="3.73" height="6.50" fill="#F3EEEC" />
<rect x="481.33" y="557.60" width="3.73" height="6.50" fill="#78182A" />
<rect x="484.66" y="557.60" width="3.73" height="6.50" fill="#EC9A7E" />
<rect x="487.99" y="557.60" width="3.73" height="6.50" fill="#8BBDD9" />
<rect x="491.32" y="557.60" width="3.73" height="6.50" fill="#8BBDD9" />
<rect x="494.65" y="557.60" width="3.73" height="6.50" fill="#EC9A7E" />
<rect x="497.98" y="557.60" width="3.73" height="6.50" fill="#C44A45" />
<rect x="501.31" y="557.60" width="3.73" height="6.50" fill="#4B8FC2" />
<rect x="504.64" y="557.60" width="3.73" height="6.50" fill="#78182A" />
<rect x="507.97" y="557.60" width="3.73" height="6.50" fill="#78182A" />
<rect x="511.30" y="557.60" width="3.73" height="6.50" fill="#4B8FC2" />
<rect x="514.63" y="557.60" width="3.73" height="6.50" fill="#3671B0" />
<rect x="517.96" y="557.60" width="3.73" height="6.50" fill="#EC9A7E" />
<rect x="478.00" y="563.70" width="3.73" height="6.50" fill="#4B8FC2" />
<rect x="481.33" y="563.70" width="3.73" height="6.50" fill="#F8CDB8" />
<rect x="484.66" y="563.70" width="3.73" height="6.50" fill="#3671B0" />
<rect x="487.99" y="563.70" width="3.73" height="6.50" fill="#2B5B9A" />
<rect x="491.32" y="563.70" width="3.73" height="6.50" fill="#2B5B9A" />
<rect x="494.65" y="563.70" width="3.73" height="6.50" fill="#4B8FC2" />
<rect x="497.98" y="563.70" width="3.73" height="6.50" fill="#3671B0" />
<rect x="501.31" y="563.70" width="3.73" height="6.50" fill="#3671B0" />
<rect x="504.64" y="563.70" width="3.73" height="6.50" fill="#2B5B9A" />
<rect x="507.97" y="563.70" width="3.73" height="6.50" fill="#4B8FC2" />
<rect x="511.30" y="563.70" width="3.73" height="6.50" fill="#243763" />
<rect x="514.63" y="563.70" width="3.73" height="6.50" fill="#2B5B9A" />
<rect x="517.96" y="563.70" width="3.73" height="6.50" fill="#243763" />
<rect x="478.00" y="569.80" width="3.73" height="6.50" fill="#3671B0" />
<rect x="481.33" y="569.80" width="3.73" height="6.50" fill="#C44A45" />
<rect x="484.66" y="569.80" width="3.73" height="6.50" fill="#8BBDD9" />
<rect x="487.99" y="569.80" width="3.73" height="6.50" fill="#243763" />
<rect x="491.32" y="569.80" width="3.73" height="6.50" fill="#C8DEEB" />
<rect x="494.65" y="569.80" width="3.73" height="6.50" fill="#2B5B9A" />
<rect x="497.98" y="569.80" width="3.73" height="6.50" fill="#4B8FC2" />
<rect x="501.31" y="569.80" width="3.73" height="6.50" fill="#4B8FC2" />
<rect x="504.64" y="569.80" width="3.73" height="6.50" fill="#3671B0" />
<rect x="507.97" y="569.80" width="3.73" height="6.50" fill="#8BBDD9" />
<rect x="511.30" y="569.80" width="3.73" height="6.50" fill="#2B5B9A" />
<rect x="514.63" y="569.80" width="3.73" height="6.50" fill="#3671B0" />
<rect x="517.96" y="569.80" width="3.73" height="6.50" fill="#4B8FC2" />
<rect x="478.00" y="575.90" width="3.73" height="6.50" fill="#4B8FC2" />
<rect x="481.33" y="575.90" width="3.73" height="6.50" fill="#C8DEEB" />
<rect x="484.66" y="575.90" width="3.73" height="6.50" fill="#3671B0" />
<rect x="487.99" y="575.90" width="3.73" height="6.50" fill="#243763" />
<rect x="491.32" y="575.90" width="3.73" height="6.50" fill="#243763" />
<rect x="494.65" y="575.90" width="3.73" height="6.50" fill="#3671B0" />
<rect x="497.98" y="575.90" width="3.73" height="6.50" fill="#8BBDD9" />
<rect x="501.31" y="575.90" width="3.73" height="6.50" fill="#3671B0" />
<rect x="504.64" y="575.90" width="3.73" height="6.50" fill="#2B5B9A" />
<rect x="507.97" y="575.90" width="3.73" height="6.50" fill="#4B8FC2" />
<rect x="511.30" y="575.90" width="3.73" height="6.50" fill="#2B5B9A" />
<rect x="514.63" y="575.90" width="3.73" height="6.50" fill="#2B5B9A" />
<rect x="517.96" y="575.90" width="3.73" height="6.50" fill="#3671B0" />
<rect x="478.00" y="582.00" width="3.73" height="6.50" fill="#3671B0" />
<rect x="481.33" y="582.00" width="3.73" height="6.50" fill="#8BBDD9" />
<rect x="484.66" y="582.00" width="3.73" height="6.50" fill="#8BBDD9" />
<rect x="487.99" y="582.00" width="3.73" height="6.50" fill="#C8DEEB" />
<rect x="491.32" y="582.00" width="3.73" height="6.50" fill="#C8DEEB" />
<rect x="494.65" y="582.00" width="3.73" height="6.50" fill="#3671B0" />
<rect x="497.98" y="582.00" width="3.73" height="6.50" fill="#4B8FC2" />
<rect x="501.31" y="582.00" width="3.73" height="6.50" fill="#243763" />
<rect x="504.64" y="582.00" width="3.73" height="6.50" fill="#4B8FC2" />
<rect x="507.97" y="582.00" width="3.73" height="6.50" fill="#2B5B9A" />
<rect x="511.30" y="582.00" width="3.73" height="6.50" fill="#243763" />
<rect x="514.63" y="582.00" width="3.73" height="6.50" fill="#F3EEEC" />
<rect x="517.96" y="582.00" width="3.73" height="6.50" fill="#3671B0" />
<rect x="478.00" y="588.10" width="3.73" height="6.50" fill="#C8DEEB" />
<rect x="481.33" y="588.10" width="3.73" height="6.50" fill="#F8CDB8" />
<rect x="484.66" y="588.10" width="3.73" height="6.50" fill="#4B8FC2" />
<rect x="487.99" y="588.10" width="3.73" height="6.50" fill="#243763" />
<rect x="491.32" y="588.10" width="3.73" height="6.50" fill="#2B5B9A" />
<rect x="494.65" y="588.10" width="3.73" height="6.50" fill="#C8DEEB" />
<rect x="497.98" y="588.10" width="3.73" height="6.50" fill="#2B5B9A" />
<rect x="501.31" y="588.10" width="3.73" height="6.50" fill="#3671B0" />
<rect x="504.64" y="588.10" width="3.73" height="6.50" fill="#8BBDD9" />
<rect x="507.97" y="588.10" width="3.73" height="6.50" fill="#F3EEEC" />
<rect x="511.30" y="588.10" width="3.73" height="6.50" fill="#3671B0" />
<rect x="514.63" y="588.10" width="3.73" height="6.50" fill="#2B5B9A" />
<rect x="517.96" y="588.10" width="3.73" height="6.50" fill="#3671B0" />
<rect x="478.00" y="594.20" width="3.73" height="6.50" fill="#3671B0" />
<rect x="481.33" y="594.20" width="3.73" height="6.50" fill="#3671B0" />
<rect x="484.66" y="594.20" width="3.73" height="6.50" fill="#243763" />
<rect x="487.99" y="594.20" width="3.73" height="6.50" fill="#2B5B9A" />
<rect x="491.32" y="594.20" width="3.73" height="6.50" fill="#2B5B9A" />
<rect x="494.65" y="594.20" width="3.73" height="6.50" fill="#3671B0" />
<rect x="497.98" y="594.20" width="3.73" height="6.50" fill="#4B8FC2" />
<rect x="501.31" y="594.20" width="3.73" height="6.50" fill="#4B8FC2" />
<rect x="504.64" y="594.20" width="3.73" height="6.50" fill="#2B5B9A" />
<rect x="507.97" y="594.20" width="3.73" height="6.50" fill="#4B8FC2" />
<rect x="511.30" y="594.20" width="3.73" height="6.50" fill="#3671B0" />
<rect x="514.63" y="594.20" width="3.73" height="6.50" fill="#3671B0" />
<rect x="517.96" y="594.20" width="3.73" height="6.50" fill="#3671B0" />
<rect x="478.00" y="600.30" width="3.73" height="6.50" fill="#C8DEEB" />
<rect x="481.33" y="600.30" width="3.73" height="6.50" fill="#EC9A7E" />
<rect x="484.66" y="600.30" width="3.73" height="6.50" fill="#8BBDD9" />
<rect x="487.99" y="600.30" width="3.73" height="6.50" fill="#2B5B9A" />
<rect x="491.32" y="600.30" width="3.73" height="6.50" fill="#2B5B9A" />
<rect x="494.65" y="600.30" width="3.73" height="6.50" fill="#F3EEEC" />
<rect x="497.98" y="600.30" width="3.73" height="6.50" fill="#3671B0" />
<rect x="501.31" y="600.30" width="3.73" height="6.50" fill="#8BBDD9" />
<rect x="504.64" y="600.30" width="3.73" height="6.50" fill="#3671B0" />
<rect x="507.97" y="600.30" width="3.73" height="6.50" fill="#F3EEEC" />
<rect x="511.30" y="600.30" width="3.73" height="6.50" fill="#3671B0" />
<rect x="514.63" y="600.30" width="3.73" height="6.50" fill="#4B8FC2" />
<rect x="517.96" y="600.30" width="3.73" height="6.50" fill="#8BBDD9" />
<rect x="478.00" y="606.40" width="3.73" height="6.50" fill="#2B5B9A" />
<rect x="481.33" y="606.40" width="3.73" height="6.50" fill="#F3EEEC" />
<rect x="484.66" y="606.40" width="3.73" height="6.50" fill="#2B5B9A" />
<rect x="487.99" y="606.40" width="3.73" height="6.50" fill="#2B5B9A" />
<rect x="491.32" y="606.40" width="3.73" height="6.50" fill="#2B5B9A" />
<rect x="494.65" y="606.40" width="3.73" height="6.50" fill="#2B5B9A" />
<rect x="497.98" y="606.40" width="3.73" height="6.50" fill="#2B5B9A" />
<rect x="501.31" y="606.40" width="3.73" height="6.50" fill="#3671B0" />
<rect x="504.64" y="606.40" width="3.73" height="6.50" fill="#4B8FC2" />
<rect x="507.97" y="606.40" width="3.73" height="6.50" fill="#3671B0" />
<rect x="511.30" y="606.40" width="3.73" height="6.50" fill="#243763" />
<rect x="514.63" y="606.40" width="3.73" height="6.50" fill="#2B5B9A" />
<rect x="517.96" y="606.40" width="3.73" height="6.50" fill="#3671B0" />
<rect x="478.00" y="612.50" width="3.73" height="6.50" fill="#3671B0" />
<rect x="481.33" y="612.50" width="3.73" height="6.50" fill="#4B8FC2" />
<rect x="484.66" y="612.50" width="3.73" height="6.50" fill="#4B8FC2" />
<rect x="487.99" y="612.50" width="3.73" height="6.50" fill="#2B5B9A" />
<rect x="491.32" y="612.50" width="3.73" height="6.50" fill="#2B5B9A" />
<rect x="494.65" y="612.50" width="3.73" height="6.50" fill="#3671B0" />
<rect x="497.98" y="612.50" width="3.73" height="6.50" fill="#4B8FC2" />
<rect x="501.31" y="612.50" width="3.73" height="6.50" fill="#243763" />
<rect x="504.64" y="612.50" width="3.73" height="6.50" fill="#243763" />
<rect x="507.97" y="612.50" width="3.73" height="6.50" fill="#3671B0" />
<rect x="511.30" y="612.50" width="3.73" height="6.50" fill="#3671B0" />
<rect x="514.63" y="612.50" width="3.73" height="6.50" fill="#F3EEEC" />
<rect x="517.96" y="612.50" width="3.73" height="6.50" fill="#3671B0" />
<rect x="478.00" y="618.60" width="3.73" height="6.50" fill="#3671B0" />
<rect x="481.33" y="618.60" width="3.73" height="6.50" fill="#EC9A7E" />
<rect x="484.66" y="618.60" width="3.73" height="6.50" fill="#4B8FC2" />
<rect x="487.99" y="618.60" width="3.73" height="6.50" fill="#2B5B9A" />
<rect x="491.32" y="618.60" width="3.73" height="6.50" fill="#3671B0" />
<rect x="494.65" y="618.60" width="3.73" height="6.50" fill="#EC9A7E" />
<rect x="497.98" y="618.60" width="3.73" height="6.50" fill="#4B8FC2" />
<rect x="501.31" y="618.60" width="3.73" height="6.50" fill="#4B8FC2" />
<rect x="504.64" y="618.60" width="3.73" height="6.50" fill="#C8DEEB" />
<rect x="507.97" y="618.60" width="3.73" height="6.50" fill="#EC9A7E" />
<rect x="511.30" y="618.60" width="3.73" height="6.50" fill="#3671B0" />
<rect x="514.63" y="618.60" width="3.73" height="6.50" fill="#3671B0" />
<rect x="517.96" y="618.60" width="3.73" height="6.50" fill="#3671B0" />
<rect x="478.00" y="624.70" width="3.73" height="6.50" fill="#F8CDB8" />
<rect x="481.33" y="624.70" width="3.73" height="6.50" fill="#F8CDB8" />
<rect x="484.66" y="624.70" width="3.73" height="6.50" fill="#F8CDB8" />
<rect x="487.99" y="624.70" width="3.73" height="6.50" fill="#8BBDD9" />
<rect x="491.32" y="624.70" width="3.73" height="6.50" fill="#8BBDD9" />
<rect x="494.65" y="624.70" width="3.73" height="6.50" fill="#EC9A7E" />
<rect x="497.98" y="624.70" width="3.73" height="6.50" fill="#8BBDD9" />
<rect x="501.31" y="624.70" width="3.73" height="6.50" fill="#8BBDD9" />
<rect x="504.64" y="624.70" width="3.73" height="6.50" fill="#F8CDB8" />
<rect x="507.97" y="624.70" width="3.73" height="6.50" fill="#EC9A7E" />
<rect x="511.30" y="624.70" width="3.73" height="6.50" fill="#8BBDD9" />
<rect x="514.63" y="624.70" width="3.73" height="6.50" fill="#F3EEEC" />
<rect x="517.96" y="624.70" width="3.73" height="6.50" fill="#F3EEEC" />
<rect x="478.00" y="630.80" width="3.73" height="6.50" fill="#3671B0" />
<rect x="481.33" y="630.80" width="3.73" height="6.50" fill="#F3EEEC" />
<rect x="484.66" y="630.80" width="3.73" height="6.50" fill="#8BBDD9" />
<rect x="487.99" y="630.80" width="3.73" height="6.50" fill="#4B8FC2" />
<rect x="491.32" y="630.80" width="3.73" height="6.50" fill="#243763" />
<rect x="494.65" y="630.80" width="3.73" height="6.50" fill="#4B8FC2" />
<rect x="497.98" y="630.80" width="3.73" height="6.50" fill="#4B8FC2" />
<rect x="501.31" y="630.80" width="3.73" height="6.50" fill="#2B5B9A" />
<rect x="504.64" y="630.80" width="3.73" height="6.50" fill="#F3EEEC" />
<rect x="507.97" y="630.80" width="3.73" height="6.50" fill="#4B8FC2" />
<rect x="511.30" y="630.80" width="3.73" height="6.50" fill="#2B5B9A" />
<rect x="514.63" y="630.80" width="3.73" height="6.50" fill="#3671B0" />
<rect x="517.96" y="630.80" width="3.73" height="6.50" fill="#3671B0" />
<rect x="478.00" y="636.90" width="3.73" height="6.50" fill="#C8DEEB" />
<rect x="481.33" y="636.90" width="3.73" height="6.50" fill="#EC9A7E" />
<rect x="484.66" y="636.90" width="3.73" height="6.50" fill="#8BBDD9" />
<rect x="487.99" y="636.90" width="3.73" height="6.50" fill="#4B8FC2" />
<rect x="491.32" y="636.90" width="3.73" height="6.50" fill="#C8DEEB" />
<rect x="494.65" y="636.90" width="3.73" height="6.50" fill="#EC9A7E" />
<rect x="497.98" y="636.90" width="3.73" height="6.50" fill="#F3EEEC" />
<rect x="501.31" y="636.90" width="3.73" height="6.50" fill="#EC9A7E" />
<rect x="504.64" y="636.90" width="3.73" height="6.50" fill="#8BBDD9" />
<rect x="507.97" y="636.90" width="3.73" height="6.50" fill="#F3EEEC" />
<rect x="511.30" y="636.90" width="3.73" height="6.50" fill="#C8DEEB" />
<rect x="514.63" y="636.90" width="3.73" height="6.50" fill="#8BBDD9" />
<rect x="517.96" y="636.90" width="3.73" height="6.50" fill="#F8CDB8" />
<rect x="478.00" y="643.00" width="3.73" height="6.50" fill="#C8DEEB" />
<rect x="481.33" y="643.00" width="3.73" height="6.50" fill="#C8DEEB" />
<rect x="484.66" y="643.00" width="3.73" height="6.50" fill="#4B8FC2" />
<rect x="487.99" y="643.00" width="3.73" height="6.50" fill="#2B5B9A" />
<rect x="491.32" y="643.00" width="3.73" height="6.50" fill="#8BBDD9" />
<rect x="494.65" y="643.00" width="3.73" height="6.50" fill="#F3EEEC" />
<rect x="497.98" y="643.00" width="3.73" height="6.50" fill="#C8DEEB" />
<rect x="501.31" y="643.00" width="3.73" height="6.50" fill="#F3EEEC" />
<rect x="504.64" y="643.00" width="3.73" height="6.50" fill="#8BBDD9" />
<rect x="507.97" y="643.00" width="3.73" height="6.50" fill="#8BBDD9" />
<rect x="511.30" y="643.00" width="3.73" height="6.50" fill="#8BBDD9" />
<rect x="514.63" y="643.00" width="3.73" height="6.50" fill="#8BBDD9" />
<rect x="517.96" y="643.00" width="3.73" height="6.50" fill="#8BBDD9" />
<rect x="478.00" y="649.10" width="3.73" height="6.50" fill="#2B5B9A" />
<rect x="481.33" y="649.10" width="3.73" height="6.50" fill="#2B5B9A" />
<rect x="484.66" y="649.10" width="3.73" height="6.50" fill="#243763" />
<rect x="487.99" y="649.10" width="3.73" height="6.50" fill="#243763" />
<rect x="491.32" y="649.10" width="3.73" height="6.50" fill="#243763" />
<rect x="494.65" y="649.10" width="3.73" height="6.50" fill="#3671B0" />
<rect x="497.98" y="649.10" width="3.73" height="6.50" fill="#243763" />
<rect x="501.31" y="649.10" width="3.73" height="6.50" fill="#243763" />
<rect x="504.64" y="649.10" width="3.73" height="6.50" fill="#2B5B9A" />
<rect x="507.97" y="649.10" width="3.73" height="6.50" fill="#2B5B9A" />
<rect x="511.30" y="649.10" width="3.73" height="6.50" fill="#2B5B9A" />
<rect x="514.63" y="649.10" width="3.73" height="6.50" fill="#243763" />
<rect x="517.96" y="649.10" width="3.73" height="6.50" fill="#2B5B9A" />
<rect x="477.40" y="508.40" width="44.30" height="147.20" fill="none" stroke="#111" stroke-width="1.2"/>
<rect x="525.00" y="508.80" width="3.74" height="6.50" fill="#8BBDD9" />
<rect x="528.34" y="508.80" width="3.74" height="6.50" fill="#F8CDB8" />
<rect x="531.68" y="508.80" width="3.74" height="6.50" fill="#3671B0" />
<rect x="535.02" y="508.80" width="3.74" height="6.50" fill="#4B8FC2" />
<rect x="538.36" y="508.80" width="3.74" height="6.50" fill="#2B5B9A" />
<rect x="541.70" y="508.80" width="3.74" height="6.50" fill="#3671B0" />
<rect x="545.04" y="508.80" width="3.74" height="6.50" fill="#8BBDD9" />
<rect x="548.38" y="508.80" width="3.74" height="6.50" fill="#3671B0" />
<rect x="551.72" y="508.80" width="3.74" height="6.50" fill="#4B8FC2" />
<rect x="555.06" y="508.80" width="3.74" height="6.50" fill="#8BBDD9" />
<rect x="558.40" y="508.80" width="3.74" height="6.50" fill="#C8DEEB" />
<rect x="561.74" y="508.80" width="3.74" height="6.50" fill="#3671B0" />
<rect x="565.08" y="508.80" width="3.74" height="6.50" fill="#3671B0" />
<rect x="568.42" y="508.80" width="3.74" height="6.50" fill="#3671B0" />
<rect x="571.76" y="508.80" width="3.74" height="6.50" fill="#4B8FC2" />
<rect x="575.10" y="508.80" width="3.74" height="6.50" fill="#8BBDD9" />
<rect x="578.44" y="508.80" width="3.74" height="6.50" fill="#2B5B9A" />
<rect x="581.78" y="508.80" width="3.74" height="6.50" fill="#F8CDB8" />
<rect x="585.12" y="508.80" width="3.74" height="6.50" fill="#EC9A7E" />
<rect x="588.46" y="508.80" width="3.74" height="6.50" fill="#4B8FC2" />
<rect x="591.80" y="508.80" width="3.74" height="6.50" fill="#8BBDD9" />
<rect x="595.14" y="508.80" width="3.74" height="6.50" fill="#C8DEEB" />
<rect x="525.00" y="514.90" width="3.74" height="6.50" fill="#2B5B9A" />
<rect x="528.34" y="514.90" width="3.74" height="6.50" fill="#C8DEEB" />
<rect x="531.68" y="514.90" width="3.74" height="6.50" fill="#243763" />
<rect x="535.02" y="514.90" width="3.74" height="6.50" fill="#EC9A7E" />
<rect x="538.36" y="514.90" width="3.74" height="6.50" fill="#3671B0" />
<rect x="541.70" y="514.90" width="3.74" height="6.50" fill="#8BBDD9" />
<rect x="545.04" y="514.90" width="3.74" height="6.50" fill="#78182A" />
<rect x="548.38" y="514.90" width="3.74" height="6.50" fill="#C8DEEB" />
<rect x="551.72" y="514.90" width="3.74" height="6.50" fill="#C8DEEB" />
<rect x="555.06" y="514.90" width="3.74" height="6.50" fill="#3671B0" />
<rect x="558.40" y="514.90" width="3.74" height="6.50" fill="#C8DEEB" />
<rect x="561.74" y="514.90" width="3.74" height="6.50" fill="#2B5B9A" />
<rect x="565.08" y="514.90" width="3.74" height="6.50" fill="#4B8FC2" />
<rect x="568.42" y="514.90" width="3.74" height="6.50" fill="#C8DEEB" />
<rect x="571.76" y="514.90" width="3.74" height="6.50" fill="#2B5B9A" />
<rect x="575.10" y="514.90" width="3.74" height="6.50" fill="#2B5B9A" />
<rect x="578.44" y="514.90" width="3.74" height="6.50" fill="#3671B0" />
<rect x="581.78" y="514.90" width="3.74" height="6.50" fill="#4B8FC2" />
<rect x="585.12" y="514.90" width="3.74" height="6.50" fill="#2B5B9A" />
<rect x="588.46" y="514.90" width="3.74" height="6.50" fill="#4B8FC2" />
<rect x="591.80" y="514.90" width="3.74" height="6.50" fill="#4B8FC2" />
<rect x="595.14" y="514.90" width="3.74" height="6.50" fill="#4B8FC2" />
<rect x="525.00" y="521.00" width="3.74" height="6.50" fill="#3671B0" />
<rect x="528.34" y="521.00" width="3.74" height="6.50" fill="#4B8FC2" />
<rect x="531.68" y="521.00" width="3.74" height="6.50" fill="#243763" />
<rect x="535.02" y="521.00" width="3.74" height="6.50" fill="#4B8FC2" />
<rect x="538.36" y="521.00" width="3.74" height="6.50" fill="#243763" />
<rect x="541.70" y="521.00" width="3.74" height="6.50" fill="#243763" />
<rect x="545.04" y="521.00" width="3.74" height="6.50" fill="#3671B0" />
<rect x="548.38" y="521.00" width="3.74" height="6.50" fill="#243763" />
<rect x="551.72" y="521.00" width="3.74" height="6.50" fill="#243763" />
<rect x="555.06" y="521.00" width="3.74" height="6.50" fill="#3671B0" />
<rect x="558.40" y="521.00" width="3.74" height="6.50" fill="#3671B0" />
<rect x="561.74" y="521.00" width="3.74" height="6.50" fill="#C44A45" />
<rect x="565.08" y="521.00" width="3.74" height="6.50" fill="#3671B0" />
<rect x="568.42" y="521.00" width="3.74" height="6.50" fill="#243763" />
<rect x="571.76" y="521.00" width="3.74" height="6.50" fill="#4B8FC2" />
<rect x="575.10" y="521.00" width="3.74" height="6.50" fill="#243763" />
<rect x="578.44" y="521.00" width="3.74" height="6.50" fill="#243763" />
<rect x="581.78" y="521.00" width="3.74" height="6.50" fill="#2B5B9A" />
<rect x="585.12" y="521.00" width="3.74" height="6.50" fill="#243763" />
<rect x="588.46" y="521.00" width="3.74" height="6.50" fill="#243763" />
<rect x="591.80" y="521.00" width="3.74" height="6.50" fill="#243763" />
<rect x="595.14" y="521.00" width="3.74" height="6.50" fill="#243763" />
<rect x="525.00" y="527.10" width="3.74" height="6.50" fill="#4B8FC2" />
<rect x="528.34" y="527.10" width="3.74" height="6.50" fill="#3671B0" />
<rect x="531.68" y="527.10" width="3.74" height="6.50" fill="#4B8FC2" />
<rect x="535.02" y="527.10" width="3.74" height="6.50" fill="#4B8FC2" />
<rect x="538.36" y="527.10" width="3.74" height="6.50" fill="#243763" />
<rect x="541.70" y="527.10" width="3.74" height="6.50" fill="#2B5B9A" />
<rect x="545.04" y="527.10" width="3.74" height="6.50" fill="#C8DEEB" />
<rect x="548.38" y="527.10" width="3.74" height="6.50" fill="#4B8FC2" />
<rect x="551.72" y="527.10" width="3.74" height="6.50" fill="#243763" />
<rect x="555.06" y="527.10" width="3.74" height="6.50" fill="#3671B0" />
<rect x="558.40" y="527.10" width="3.74" height="6.50" fill="#3671B0" />
<rect x="561.74" y="527.10" width="3.74" height="6.50" fill="#243763" />
<rect x="565.08" y="527.10" width="3.74" height="6.50" fill="#3671B0" />
<rect x="568.42" y="527.10" width="3.74" height="6.50" fill="#243763" />
<rect x="571.76" y="527.10" width="3.74" height="6.50" fill="#C44A45" />
<rect x="575.10" y="527.10" width="3.74" height="6.50" fill="#4B8FC2" />
<rect x="578.44" y="527.10" width="3.74" height="6.50" fill="#4B8FC2" />
<rect x="581.78" y="527.10" width="3.74" height="6.50" fill="#C8DEEB" />
<rect x="585.12" y="527.10" width="3.74" height="6.50" fill="#243763" />
<rect x="588.46" y="527.10" width="3.74" height="6.50" fill="#3671B0" />
<rect x="591.80" y="527.10" width="3.74" height="6.50" fill="#2B5B9A" />
<rect x="595.14" y="527.10" width="3.74" height="6.50" fill="#243763" />
<rect x="525.00" y="533.20" width="3.74" height="6.50" fill="#243763" />
<rect x="528.34" y="533.20" width="3.74" height="6.50" fill="#3671B0" />
<rect x="531.68" y="533.20" width="3.74" height="6.50" fill="#243763" />
<rect x="535.02" y="533.20" width="3.74" height="6.50" fill="#4B8FC2" />
<rect x="538.36" y="533.20" width="3.74" height="6.50" fill="#243763" />
<rect x="541.70" y="533.20" width="3.74" height="6.50" fill="#243763" />
<rect x="545.04" y="533.20" width="3.74" height="6.50" fill="#243763" />
<rect x="548.38" y="533.20" width="3.74" height="6.50" fill="#4B8FC2" />
<rect x="551.72" y="533.20" width="3.74" height="6.50" fill="#243763" />
<rect x="555.06" y="533.20" width="3.74" height="6.50" fill="#2B5B9A" />
<rect x="558.40" y="533.20" width="3.74" height="6.50" fill="#243763" />
<rect x="561.74" y="533.20" width="3.74" height="6.50" fill="#243763" />
<rect x="565.08" y="533.20" width="3.74" height="6.50" fill="#243763" />
<rect x="568.42" y="533.20" width="3.74" height="6.50" fill="#243763" />
<rect x="571.76" y="533.20" width="3.74" height="6.50" fill="#243763" />
<rect x="575.10" y="533.20" width="3.74" height="6.50" fill="#243763" />
<rect x="578.44" y="533.20" width="3.74" height="6.50" fill="#2B5B9A" />
<rect x="581.78" y="533.20" width="3.74" height="6.50" fill="#2B5B9A" />
<rect x="585.12" y="533.20" width="3.74" height="6.50" fill="#243763" />
<rect x="588.46" y="533.20" width="3.74" height="6.50" fill="#243763" />
<rect x="591.80" y="533.20" width="3.74" height="6.50" fill="#2B5B9A" />
<rect x="595.14" y="533.20" width="3.74" height="6.50" fill="#243763" />
<rect x="525.00" y="539.30" width="3.74" height="6.50" fill="#4B8FC2" />
<rect x="528.34" y="539.30" width="3.74" height="6.50" fill="#2B5B9A" />
<rect x="531.68" y="539.30" width="3.74" height="6.50" fill="#3671B0" />
<rect x="535.02" y="539.30" width="3.74" height="6.50" fill="#2B5B9A" />
<rect x="538.36" y="539.30" width="3.74" height="6.50" fill="#4B8FC2" />
<rect x="541.70" y="539.30" width="3.74" height="6.50" fill="#4B8FC2" />
<rect x="545.04" y="539.30" width="3.74" height="6.50" fill="#F3EEEC" />
<rect x="548.38" y="539.30" width="3.74" height="6.50" fill="#3671B0" />
<rect x="551.72" y="539.30" width="3.74" height="6.50" fill="#C8DEEB" />
<rect x="555.06" y="539.30" width="3.74" height="6.50" fill="#F3EEEC" />
<rect x="558.40" y="539.30" width="3.74" height="6.50" fill="#C8DEEB" />
<rect x="561.74" y="539.30" width="3.74" height="6.50" fill="#EC9A7E" />
<rect x="565.08" y="539.30" width="3.74" height="6.50" fill="#2B5B9A" />
<rect x="568.42" y="539.30" width="3.74" height="6.50" fill="#EC9A7E" />
<rect x="571.76" y="539.30" width="3.74" height="6.50" fill="#4B8FC2" />
<rect x="575.10" y="539.30" width="3.74" height="6.50" fill="#C8DEEB" />
<rect x="578.44" y="539.30" width="3.74" height="6.50" fill="#2B5B9A" />
<rect x="581.78" y="539.30" width="3.74" height="6.50" fill="#3671B0" />
<rect x="585.12" y="539.30" width="3.74" height="6.50" fill="#3671B0" />
<rect x="588.46" y="539.30" width="3.74" height="6.50" fill="#3671B0" />
<rect x="591.80" y="539.30" width="3.74" height="6.50" fill="#3671B0" />
<rect x="595.14" y="539.30" width="3.74" height="6.50" fill="#4B8FC2" />
<rect x="525.00" y="545.40" width="3.74" height="6.50" fill="#3671B0" />
<rect x="528.34" y="545.40" width="3.74" height="6.50" fill="#F8CDB8" />
<rect x="531.68" y="545.40" width="3.74" height="6.50" fill="#8BBDD9" />
<rect x="535.02" y="545.40" width="3.74" height="6.50" fill="#EC9A7E" />
<rect x="538.36" y="545.40" width="3.74" height="6.50" fill="#2B5B9A" />
<rect x="541.70" y="545.40" width="3.74" height="6.50" fill="#2B5B9A" />
<rect x="545.04" y="545.40" width="3.74" height="6.50" fill="#F3EEEC" />
<rect x="548.38" y="545.40" width="3.74" height="6.50" fill="#3671B0" />
<rect x="551.72" y="545.40" width="3.74" height="6.50" fill="#C8DEEB" />
<rect x="555.06" y="545.40" width="3.74" height="6.50" fill="#8BBDD9" />
<rect x="558.40" y="545.40" width="3.74" height="6.50" fill="#EC9A7E" />
<rect x="561.74" y="545.40" width="3.74" height="6.50" fill="#F8CDB8" />
<rect x="565.08" y="545.40" width="3.74" height="6.50" fill="#4B8FC2" />
<rect x="568.42" y="545.40" width="3.74" height="6.50" fill="#F8CDB8" />
<rect x="571.76" y="545.40" width="3.74" height="6.50" fill="#F8CDB8" />
<rect x="575.10" y="545.40" width="3.74" height="6.50" fill="#4B8FC2" />
<rect x="578.44" y="545.40" width="3.74" height="6.50" fill="#3671B0" />
<rect x="581.78" y="545.40" width="3.74" height="6.50" fill="#3671B0" />
<rect x="585.12" y="545.40" width="3.74" height="6.50" fill="#EC9A7E" />
<rect x="588.46" y="545.40" width="3.74" height="6.50" fill="#8BBDD9" />
<rect x="591.80" y="545.40" width="3.74" height="6.50" fill="#8BBDD9" />
<rect x="595.14" y="545.40" width="3.74" height="6.50" fill="#EC9A7E" />
<rect x="525.00" y="551.50" width="3.74" height="6.50" fill="#243763" />
<rect x="528.34" y="551.50" width="3.74" height="6.50" fill="#8BBDD9" />
<rect x="531.68" y="551.50" width="3.74" height="6.50" fill="#3671B0" />
<rect x="535.02" y="551.50" width="3.74" height="6.50" fill="#3671B0" />
<rect x="538.36" y="551.50" width="3.74" height="6.50" fill="#C8DEEB" />
<rect x="541.70" y="551.50" width="3.74" height="6.50" fill="#8BBDD9" />
<rect x="545.04" y="551.50" width="3.74" height="6.50" fill="#4B8FC2" />
<rect x="548.38" y="551.50" width="3.74" height="6.50" fill="#EC9A7E" />
<rect x="551.72" y="551.50" width="3.74" height="6.50" fill="#3671B0" />
<rect x="555.06" y="551.50" width="3.74" height="6.50" fill="#C8DEEB" />
<rect x="558.40" y="551.50" width="3.74" height="6.50" fill="#F3EEEC" />
<rect x="561.74" y="551.50" width="3.74" height="6.50" fill="#4B8FC2" />
<rect x="565.08" y="551.50" width="3.74" height="6.50" fill="#C8DEEB" />
<rect x="568.42" y="551.50" width="3.74" height="6.50" fill="#F8CDB8" />
<rect x="571.76" y="551.50" width="3.74" height="6.50" fill="#F3EEEC" />
<rect x="575.10" y="551.50" width="3.74" height="6.50" fill="#F3EEEC" />
<rect x="578.44" y="551.50" width="3.74" height="6.50" fill="#4B8FC2" />
<rect x="581.78" y="551.50" width="3.74" height="6.50" fill="#243763" />
<rect x="585.12" y="551.50" width="3.74" height="6.50" fill="#F8CDB8" />
<rect x="588.46" y="551.50" width="3.74" height="6.50" fill="#3671B0" />
<rect x="591.80" y="551.50" width="3.74" height="6.50" fill="#3671B0" />
<rect x="595.14" y="551.50" width="3.74" height="6.50" fill="#8BBDD9" />
<rect x="525.00" y="557.60" width="3.74" height="6.50" fill="#4B8FC2" />
<rect x="528.34" y="557.60" width="3.74" height="6.50" fill="#4B8FC2" />
<rect x="531.68" y="557.60" width="3.74" height="6.50" fill="#2B5B9A" />
<rect x="535.02" y="557.60" width="3.74" height="6.50" fill="#2B5B9A" />
<rect x="538.36" y="557.60" width="3.74" height="6.50" fill="#2B5B9A" />
<rect x="541.70" y="557.60" width="3.74" height="6.50" fill="#2B5B9A" />
<rect x="545.04" y="557.60" width="3.74" height="6.50" fill="#8BBDD9" />
<rect x="548.38" y="557.60" width="3.74" height="6.50" fill="#2B5B9A" />
<rect x="551.72" y="557.60" width="3.74" height="6.50" fill="#2B5B9A" />
<rect x="555.06" y="557.60" width="3.74" height="6.50" fill="#4B8FC2" />
<rect x="558.40" y="557.60" width="3.74" height="6.50" fill="#8BBDD9" />
<rect x="561.74" y="557.60" width="3.74" height="6.50" fill="#8BBDD9" />
<rect x="565.08" y="557.60" width="3.74" height="6.50" fill="#2B5B9A" />
<rect x="568.42" y="557.60" width="3.74" height="6.50" fill="#F3EEEC" />
<rect x="571.76" y="557.60" width="3.74" height="6.50" fill="#4B8FC2" />
<rect x="575.10" y="557.60" width="3.74" height="6.50" fill="#2B5B9A" />
<rect x="578.44" y="557.60" width="3.74" height="6.50" fill="#2B5B9A" />
<rect x="581.78" y="557.60" width="3.74" height="6.50" fill="#3671B0" />
<rect x="585.12" y="557.60" width="3.74" height="6.50" fill="#3671B0" />
<rect x="588.46" y="557.60" width="3.74" height="6.50" fill="#2B5B9A" />
<rect x="591.80" y="557.60" width="3.74" height="6.50" fill="#3671B0" />
<rect x="595.14" y="557.60" width="3.74" height="6.50" fill="#3671B0" />
<rect x="525.00" y="563.70" width="3.74" height="6.50" fill="#4B8FC2" />
<rect x="528.34" y="563.70" width="3.74" height="6.50" fill="#8BBDD9" />
<rect x="531.68" y="563.70" width="3.74" height="6.50" fill="#78182A" />
<rect x="535.02" y="563.70" width="3.74" height="6.50" fill="#C8DEEB" />
<rect x="538.36" y="563.70" width="3.74" height="6.50" fill="#8BBDD9" />
<rect x="541.70" y="563.70" width="3.74" height="6.50" fill="#C8DEEB" />
<rect x="545.04" y="563.70" width="3.74" height="6.50" fill="#8BBDD9" />
<rect x="548.38" y="563.70" width="3.74" height="6.50" fill="#4B8FC2" />
<rect x="551.72" y="563.70" width="3.74" height="6.50" fill="#C44A45" />
<rect x="555.06" y="563.70" width="3.74" height="6.50" fill="#3671B0" />
<rect x="558.40" y="563.70" width="3.74" height="6.50" fill="#4B8FC2" />
<rect x="561.74" y="563.70" width="3.74" height="6.50" fill="#4B8FC2" />
<rect x="565.08" y="563.70" width="3.74" height="6.50" fill="#4B8FC2" />
<rect x="568.42" y="563.70" width="3.74" height="6.50" fill="#3671B0" />
<rect x="571.76" y="563.70" width="3.74" height="6.50" fill="#8BBDD9" />
<rect x="575.10" y="563.70" width="3.74" height="6.50" fill="#8BBDD9" />
<rect x="578.44" y="563.70" width="3.74" height="6.50" fill="#C8DEEB" />
<rect x="581.78" y="563.70" width="3.74" height="6.50" fill="#4B8FC2" />
<rect x="585.12" y="563.70" width="3.74" height="6.50" fill="#4B8FC2" />
<rect x="588.46" y="563.70" width="3.74" height="6.50" fill="#4B8FC2" />
<rect x="591.80" y="563.70" width="3.74" height="6.50" fill="#3671B0" />
<rect x="595.14" y="563.70" width="3.74" height="6.50" fill="#4B8FC2" />
<rect x="525.00" y="569.80" width="3.74" height="6.50" fill="#F3EEEC" />
<rect x="528.34" y="569.80" width="3.74" height="6.50" fill="#4B8FC2" />
<rect x="531.68" y="569.80" width="3.74" height="6.50" fill="#8BBDD9" />
<rect x="535.02" y="569.80" width="3.74" height="6.50" fill="#F3EEEC" />
<rect x="538.36" y="569.80" width="3.74" height="6.50" fill="#C8DEEB" />
<rect x="541.70" y="569.80" width="3.74" height="6.50" fill="#4B8FC2" />
<rect x="545.04" y="569.80" width="3.74" height="6.50" fill="#EC9A7E" />
<rect x="548.38" y="569.80" width="3.74" height="6.50" fill="#8BBDD9" />
<rect x="551.72" y="569.80" width="3.74" height="6.50" fill="#78182A" />
<rect x="555.06" y="569.80" width="3.74" height="6.50" fill="#3671B0" />
<rect x="558.40" y="569.80" width="3.74" height="6.50" fill="#F8CDB8" />
<rect x="561.74" y="569.80" width="3.74" height="6.50" fill="#EC9A7E" />
<rect x="565.08" y="569.80" width="3.74" height="6.50" fill="#EC9A7E" />
<rect x="568.42" y="569.80" width="3.74" height="6.50" fill="#8BBDD9" />
<rect x="571.76" y="569.80" width="3.74" height="6.50" fill="#8BBDD9" />
<rect x="575.10" y="569.80" width="3.74" height="6.50" fill="#4B8FC2" />
<rect x="578.44" y="569.80" width="3.74" height="6.50" fill="#8BBDD9" />
<rect x="581.78" y="569.80" width="3.74" height="6.50" fill="#8BBDD9" />
<rect x="585.12" y="569.80" width="3.74" height="6.50" fill="#4B8FC2" />
<rect x="588.46" y="569.80" width="3.74" height="6.50" fill="#3671B0" />
<rect x="591.80" y="569.80" width="3.74" height="6.50" fill="#4B8FC2" />
<rect x="595.14" y="569.80" width="3.74" height="6.50" fill="#C8DEEB" />
<rect x="525.00" y="575.90" width="3.74" height="6.50" fill="#F3EEEC" />
<rect x="528.34" y="575.90" width="3.74" height="6.50" fill="#4B8FC2" />
<rect x="531.68" y="575.90" width="3.74" height="6.50" fill="#4B8FC2" />
<rect x="535.02" y="575.90" width="3.74" height="6.50" fill="#C8DEEB" />
<rect x="538.36" y="575.90" width="3.74" height="6.50" fill="#8BBDD9" />
<rect x="541.70" y="575.90" width="3.74" height="6.50" fill="#3671B0" />
<rect x="545.04" y="575.90" width="3.74" height="6.50" fill="#8BBDD9" />
<rect x="548.38" y="575.90" width="3.74" height="6.50" fill="#78182A" />
<rect x="551.72" y="575.90" width="3.74" height="6.50" fill="#C8DEEB" />
<rect x="555.06" y="575.90" width="3.74" height="6.50" fill="#2B5B9A" />
<rect x="558.40" y="575.90" width="3.74" height="6.50" fill="#3671B0" />
<rect x="561.74" y="575.90" width="3.74" height="6.50" fill="#3671B0" />
<rect x="565.08" y="575.90" width="3.74" height="6.50" fill="#3671B0" />
<rect x="568.42" y="575.90" width="3.74" height="6.50" fill="#F8CDB8" />
<rect x="571.76" y="575.90" width="3.74" height="6.50" fill="#3671B0" />
<rect x="575.10" y="575.90" width="3.74" height="6.50" fill="#2B5B9A" />
<rect x="578.44" y="575.90" width="3.74" height="6.50" fill="#2B5B9A" />
<rect x="581.78" y="575.90" width="3.74" height="6.50" fill="#2B5B9A" />
<rect x="585.12" y="575.90" width="3.74" height="6.50" fill="#3671B0" />
<rect x="588.46" y="575.90" width="3.74" height="6.50" fill="#243763" />
<rect x="591.80" y="575.90" width="3.74" height="6.50" fill="#4B8FC2" />
<rect x="595.14" y="575.90" width="3.74" height="6.50" fill="#4B8FC2" />
<rect x="525.00" y="582.00" width="3.74" height="6.50" fill="#EC9A7E" />
<rect x="528.34" y="582.00" width="3.74" height="6.50" fill="#EC9A7E" />
<rect x="531.68" y="582.00" width="3.74" height="6.50" fill="#3671B0" />
<rect x="535.02" y="582.00" width="3.74" height="6.50" fill="#C8DEEB" />
<rect x="538.36" y="582.00" width="3.74" height="6.50" fill="#3671B0" />
<rect x="541.70" y="582.00" width="3.74" height="6.50" fill="#4B8FC2" />
<rect x="545.04" y="582.00" width="3.74" height="6.50" fill="#F8CDB8" />
<rect x="548.38" y="582.00" width="3.74" height="6.50" fill="#C8DEEB" />
<rect x="551.72" y="582.00" width="3.74" height="6.50" fill="#C8DEEB" />
<rect x="555.06" y="582.00" width="3.74" height="6.50" fill="#C8DEEB" />
<rect x="558.40" y="582.00" width="3.74" height="6.50" fill="#F3EEEC" />
<rect x="561.74" y="582.00" width="3.74" height="6.50" fill="#78182A" />
<rect x="565.08" y="582.00" width="3.74" height="6.50" fill="#F8CDB8" />
<rect x="568.42" y="582.00" width="3.74" height="6.50" fill="#C44A45" />
<rect x="571.76" y="582.00" width="3.74" height="6.50" fill="#3671B0" />
<rect x="575.10" y="582.00" width="3.74" height="6.50" fill="#F8CDB8" />
<rect x="578.44" y="582.00" width="3.74" height="6.50" fill="#C44A45" />
<rect x="581.78" y="582.00" width="3.74" height="6.50" fill="#3671B0" />
<rect x="585.12" y="582.00" width="3.74" height="6.50" fill="#2B5B9A" />
<rect x="588.46" y="582.00" width="3.74" height="6.50" fill="#2B5B9A" />
<rect x="591.80" y="582.00" width="3.74" height="6.50" fill="#2B5B9A" />
<rect x="595.14" y="582.00" width="3.74" height="6.50" fill="#F3EEEC" />
<rect x="525.00" y="588.10" width="3.74" height="6.50" fill="#EC9A7E" />
<rect x="528.34" y="588.10" width="3.74" height="6.50" fill="#78182A" />
<rect x="531.68" y="588.10" width="3.74" height="6.50" fill="#C8DEEB" />
<rect x="535.02" y="588.10" width="3.74" height="6.50" fill="#F8CDB8" />
<rect x="538.36" y="588.10" width="3.74" height="6.50" fill="#8BBDD9" />
<rect x="541.70" y="588.10" width="3.74" height="6.50" fill="#3671B0" />
<rect x="545.04" y="588.10" width="3.74" height="6.50" fill="#F8CDB8" />
<rect x="548.38" y="588.10" width="3.74" height="6.50" fill="#EC9A7E" />
<rect x="551.72" y="588.10" width="3.74" height="6.50" fill="#78182A" />
<rect x="555.06" y="588.10" width="3.74" height="6.50" fill="#3671B0" />
<rect x="558.40" y="588.10" width="3.74" height="6.50" fill="#F8CDB8" />
<rect x="561.74" y="588.10" width="3.74" height="6.50" fill="#3671B0" />
<rect x="565.08" y="588.10" width="3.74" height="6.50" fill="#C8DEEB" />
<rect x="568.42" y="588.10" width="3.74" height="6.50" fill="#8BBDD9" />
<rect x="571.76" y="588.10" width="3.74" height="6.50" fill="#4B8FC2" />
<rect x="575.10" y="588.10" width="3.74" height="6.50" fill="#8BBDD9" />
<rect x="578.44" y="588.10" width="3.74" height="6.50" fill="#8BBDD9" />
<rect x="581.78" y="588.10" width="3.74" height="6.50" fill="#8BBDD9" />
<rect x="585.12" y="588.10" width="3.74" height="6.50" fill="#3671B0" />
<rect x="588.46" y="588.10" width="3.74" height="6.50" fill="#3671B0" />
<rect x="591.80" y="588.10" width="3.74" height="6.50" fill="#3671B0" />
<rect x="595.14" y="588.10" width="3.74" height="6.50" fill="#8BBDD9" />
<rect x="525.00" y="594.20" width="3.74" height="6.50" fill="#8BBDD9" />
<rect x="528.34" y="594.20" width="3.74" height="6.50" fill="#F3EEEC" />
<rect x="531.68" y="594.20" width="3.74" height="6.50" fill="#4B8FC2" />
<rect x="535.02" y="594.20" width="3.74" height="6.50" fill="#78182A" />
<rect x="538.36" y="594.20" width="3.74" height="6.50" fill="#4B8FC2" />
<rect x="541.70" y="594.20" width="3.74" height="6.50" fill="#8BBDD9" />
<rect x="545.04" y="594.20" width="3.74" height="6.50" fill="#8BBDD9" />
<rect x="548.38" y="594.20" width="3.74" height="6.50" fill="#4B8FC2" />
<rect x="551.72" y="594.20" width="3.74" height="6.50" fill="#C8DEEB" />
<rect x="555.06" y="594.20" width="3.74" height="6.50" fill="#3671B0" />
<rect x="558.40" y="594.20" width="3.74" height="6.50" fill="#8BBDD9" />
<rect x="561.74" y="594.20" width="3.74" height="6.50" fill="#8BBDD9" />
<rect x="565.08" y="594.20" width="3.74" height="6.50" fill="#C8DEEB" />
<rect x="568.42" y="594.20" width="3.74" height="6.50" fill="#3671B0" />
<rect x="571.76" y="594.20" width="3.74" height="6.50" fill="#C8DEEB" />
<rect x="575.10" y="594.20" width="3.74" height="6.50" fill="#2B5B9A" />
<rect x="578.44" y="594.20" width="3.74" height="6.50" fill="#2B5B9A" />
<rect x="581.78" y="594.20" width="3.74" height="6.50" fill="#8BBDD9" />
<rect x="585.12" y="594.20" width="3.74" height="6.50" fill="#8BBDD9" />
<rect x="588.46" y="594.20" width="3.74" height="6.50" fill="#4B8FC2" />
<rect x="591.80" y="594.20" width="3.74" height="6.50" fill="#4B8FC2" />
<rect x="595.14" y="594.20" width="3.74" height="6.50" fill="#C8DEEB" />
<rect x="525.00" y="600.30" width="3.74" height="6.50" fill="#C8DEEB" />
<rect x="528.34" y="600.30" width="3.74" height="6.50" fill="#C8DEEB" />
<rect x="531.68" y="600.30" width="3.74" height="6.50" fill="#C8DEEB" />
<rect x="535.02" y="600.30" width="3.74" height="6.50" fill="#78182A" />
<rect x="538.36" y="600.30" width="3.74" height="6.50" fill="#C8DEEB" />
<rect x="541.70" y="600.30" width="3.74" height="6.50" fill="#3671B0" />
<rect x="545.04" y="600.30" width="3.74" height="6.50" fill="#F8CDB8" />
<rect x="548.38" y="600.30" width="3.74" height="6.50" fill="#F8CDB8" />
<rect x="551.72" y="600.30" width="3.74" height="6.50" fill="#F8CDB8" />
<rect x="555.06" y="600.30" width="3.74" height="6.50" fill="#4B8FC2" />
<rect x="558.40" y="600.30" width="3.74" height="6.50" fill="#F3EEEC" />
<rect x="561.74" y="600.30" width="3.74" height="6.50" fill="#C8DEEB" />
<rect x="565.08" y="600.30" width="3.74" height="6.50" fill="#C8DEEB" />
<rect x="568.42" y="600.30" width="3.74" height="6.50" fill="#F3EEEC" />
<rect x="571.76" y="600.30" width="3.74" height="6.50" fill="#F8CDB8" />
<rect x="575.10" y="600.30" width="3.74" height="6.50" fill="#4B8FC2" />
<rect x="578.44" y="600.30" width="3.74" height="6.50" fill="#C8DEEB" />
<rect x="581.78" y="600.30" width="3.74" height="6.50" fill="#C8DEEB" />
<rect x="585.12" y="600.30" width="3.74" height="6.50" fill="#8BBDD9" />
<rect x="588.46" y="600.30" width="3.74" height="6.50" fill="#8BBDD9" />
<rect x="591.80" y="600.30" width="3.74" height="6.50" fill="#4B8FC2" />
<rect x="595.14" y="600.30" width="3.74" height="6.50" fill="#C8DEEB" />
<rect x="525.00" y="606.40" width="3.74" height="6.50" fill="#F8CDB8" />
<rect x="528.34" y="606.40" width="3.74" height="6.50" fill="#2B5B9A" />
<rect x="531.68" y="606.40" width="3.74" height="6.50" fill="#2B5B9A" />
<rect x="535.02" y="606.40" width="3.74" height="6.50" fill="#4B8FC2" />
<rect x="538.36" y="606.40" width="3.74" height="6.50" fill="#8BBDD9" />
<rect x="541.70" y="606.40" width="3.74" height="6.50" fill="#2B5B9A" />
<rect x="545.04" y="606.40" width="3.74" height="6.50" fill="#3671B0" />
<rect x="548.38" y="606.40" width="3.74" height="6.50" fill="#4B8FC2" />
<rect x="551.72" y="606.40" width="3.74" height="6.50" fill="#78182A" />
<rect x="555.06" y="606.40" width="3.74" height="6.50" fill="#2B5B9A" />
<rect x="558.40" y="606.40" width="3.74" height="6.50" fill="#3671B0" />
<rect x="561.74" y="606.40" width="3.74" height="6.50" fill="#F8CDB8" />
<rect x="565.08" y="606.40" width="3.74" height="6.50" fill="#243763" />
<rect x="568.42" y="606.40" width="3.74" height="6.50" fill="#3671B0" />
<rect x="571.76" y="606.40" width="3.74" height="6.50" fill="#3671B0" />
<rect x="575.10" y="606.40" width="3.74" height="6.50" fill="#2B5B9A" />
<rect x="578.44" y="606.40" width="3.74" height="6.50" fill="#3671B0" />
<rect x="581.78" y="606.40" width="3.74" height="6.50" fill="#4B8FC2" />
<rect x="585.12" y="606.40" width="3.74" height="6.50" fill="#243763" />
<rect x="588.46" y="606.40" width="3.74" height="6.50" fill="#2B5B9A" />
<rect x="591.80" y="606.40" width="3.74" height="6.50" fill="#4B8FC2" />
<rect x="595.14" y="606.40" width="3.74" height="6.50" fill="#243763" />
<rect x="525.00" y="612.50" width="3.74" height="6.50" fill="#2B5B9A" />
<rect x="528.34" y="612.50" width="3.74" height="6.50" fill="#2B5B9A" />
<rect x="531.68" y="612.50" width="3.74" height="6.50" fill="#243763" />
<rect x="535.02" y="612.50" width="3.74" height="6.50" fill="#8BBDD9" />
<rect x="538.36" y="612.50" width="3.74" height="6.50" fill="#EC9A7E" />
<rect x="541.70" y="612.50" width="3.74" height="6.50" fill="#2B5B9A" />
<rect x="545.04" y="612.50" width="3.74" height="6.50" fill="#8BBDD9" />
<rect x="548.38" y="612.50" width="3.74" height="6.50" fill="#4B8FC2" />
<rect x="551.72" y="612.50" width="3.74" height="6.50" fill="#C44A45" />
<rect x="555.06" y="612.50" width="3.74" height="6.50" fill="#2B5B9A" />
<rect x="558.40" y="612.50" width="3.74" height="6.50" fill="#8BBDD9" />
<rect x="561.74" y="612.50" width="3.74" height="6.50" fill="#3671B0" />
<rect x="565.08" y="612.50" width="3.74" height="6.50" fill="#8BBDD9" />
<rect x="568.42" y="612.50" width="3.74" height="6.50" fill="#243763" />
<rect x="571.76" y="612.50" width="3.74" height="6.50" fill="#243763" />
<rect x="575.10" y="612.50" width="3.74" height="6.50" fill="#2B5B9A" />
<rect x="578.44" y="612.50" width="3.74" height="6.50" fill="#EC9A7E" />
<rect x="581.78" y="612.50" width="3.74" height="6.50" fill="#78182A" />
<rect x="585.12" y="612.50" width="3.74" height="6.50" fill="#3671B0" />
<rect x="588.46" y="612.50" width="3.74" height="6.50" fill="#3671B0" />
<rect x="591.80" y="612.50" width="3.74" height="6.50" fill="#243763" />
<rect x="595.14" y="612.50" width="3.74" height="6.50" fill="#3671B0" />
<rect x="525.00" y="618.60" width="3.74" height="6.50" fill="#F3EEEC" />
<rect x="528.34" y="618.60" width="3.74" height="6.50" fill="#F3EEEC" />
<rect x="531.68" y="618.60" width="3.74" height="6.50" fill="#3671B0" />
<rect x="535.02" y="618.60" width="3.74" height="6.50" fill="#F8CDB8" />
<rect x="538.36" y="618.60" width="3.74" height="6.50" fill="#8BBDD9" />
<rect x="541.70" y="618.60" width="3.74" height="6.50" fill="#4B8FC2" />
<rect x="545.04" y="618.60" width="3.74" height="6.50" fill="#78182A" />
<rect x="548.38" y="618.60" width="3.74" height="6.50" fill="#EC9A7E" />
<rect x="551.72" y="618.60" width="3.74" height="6.50" fill="#C44A45" />
<rect x="555.06" y="618.60" width="3.74" height="6.50" fill="#3671B0" />
<rect x="558.40" y="618.60" width="3.74" height="6.50" fill="#F8CDB8" />
<rect x="561.74" y="618.60" width="3.74" height="6.50" fill="#2B5B9A" />
<rect x="565.08" y="618.60" width="3.74" height="6.50" fill="#8BBDD9" />
<rect x="568.42" y="618.60" width="3.74" height="6.50" fill="#F8CDB8" />
<rect x="571.76" y="618.60" width="3.74" height="6.50" fill="#4B8FC2" />
<rect x="575.10" y="618.60" width="3.74" height="6.50" fill="#F3EEEC" />
<rect x="578.44" y="618.60" width="3.74" height="6.50" fill="#8BBDD9" />
<rect x="581.78" y="618.60" width="3.74" height="6.50" fill="#8BBDD9" />
<rect x="585.12" y="618.60" width="3.74" height="6.50" fill="#3671B0" />
<rect x="588.46" y="618.60" width="3.74" height="6.50" fill="#2B5B9A" />
<rect x="591.80" y="618.60" width="3.74" height="6.50" fill="#3671B0" />
<rect x="595.14" y="618.60" width="3.74" height="6.50" fill="#4B8FC2" />
<rect x="525.00" y="624.70" width="3.74" height="6.50" fill="#F8CDB8" />
<rect x="528.34" y="624.70" width="3.74" height="6.50" fill="#EC9A7E" />
<rect x="531.68" y="624.70" width="3.74" height="6.50" fill="#8BBDD9" />
<rect x="535.02" y="624.70" width="3.74" height="6.50" fill="#78182A" />
<rect x="538.36" y="624.70" width="3.74" height="6.50" fill="#F8CDB8" />
<rect x="541.70" y="624.70" width="3.74" height="6.50" fill="#F3EEEC" />
<rect x="545.04" y="624.70" width="3.74" height="6.50" fill="#C44A45" />
<rect x="548.38" y="624.70" width="3.74" height="6.50" fill="#C44A45" />
<rect x="551.72" y="624.70" width="3.74" height="6.50" fill="#C44A45" />
<rect x="555.06" y="624.70" width="3.74" height="6.50" fill="#EC9A7E" />
<rect x="558.40" y="624.70" width="3.74" height="6.50" fill="#EC9A7E" />
<rect x="561.74" y="624.70" width="3.74" height="6.50" fill="#F8CDB8" />
<rect x="565.08" y="624.70" width="3.74" height="6.50" fill="#EC9A7E" />
<rect x="568.42" y="624.70" width="3.74" height="6.50" fill="#C8DEEB" />
<rect x="571.76" y="624.70" width="3.74" height="6.50" fill="#EC9A7E" />
<rect x="575.10" y="624.70" width="3.74" height="6.50" fill="#F3EEEC" />
<rect x="578.44" y="624.70" width="3.74" height="6.50" fill="#C44A45" />
<rect x="581.78" y="624.70" width="3.74" height="6.50" fill="#EC9A7E" />
<rect x="585.12" y="624.70" width="3.74" height="6.50" fill="#C8DEEB" />
<rect x="588.46" y="624.70" width="3.74" height="6.50" fill="#EC9A7E" />
<rect x="591.80" y="624.70" width="3.74" height="6.50" fill="#4B8FC2" />
<rect x="595.14" y="624.70" width="3.74" height="6.50" fill="#F3EEEC" />
<rect x="525.00" y="630.80" width="3.74" height="6.50" fill="#78182A" />
<rect x="528.34" y="630.80" width="3.74" height="6.50" fill="#F3EEEC" />
<rect x="531.68" y="630.80" width="3.74" height="6.50" fill="#4B8FC2" />
<rect x="535.02" y="630.80" width="3.74" height="6.50" fill="#8BBDD9" />
<rect x="538.36" y="630.80" width="3.74" height="6.50" fill="#EC9A7E" />
<rect x="541.70" y="630.80" width="3.74" height="6.50" fill="#8BBDD9" />
<rect x="545.04" y="630.80" width="3.74" height="6.50" fill="#8BBDD9" />
<rect x="548.38" y="630.80" width="3.74" height="6.50" fill="#8BBDD9" />
<rect x="551.72" y="630.80" width="3.74" height="6.50" fill="#8BBDD9" />
<rect x="555.06" y="630.80" width="3.74" height="6.50" fill="#4B8FC2" />
<rect x="558.40" y="630.80" width="3.74" height="6.50" fill="#8BBDD9" />
<rect x="561.74" y="630.80" width="3.74" height="6.50" fill="#8BBDD9" />
<rect x="565.08" y="630.80" width="3.74" height="6.50" fill="#4B8FC2" />
<rect x="568.42" y="630.80" width="3.74" height="6.50" fill="#EC9A7E" />
<rect x="571.76" y="630.80" width="3.74" height="6.50" fill="#3671B0" />
<rect x="575.10" y="630.80" width="3.74" height="6.50" fill="#8BBDD9" />
<rect x="578.44" y="630.80" width="3.74" height="6.50" fill="#4B8FC2" />
<rect x="581.78" y="630.80" width="3.74" height="6.50" fill="#C8DEEB" />
<rect x="585.12" y="630.80" width="3.74" height="6.50" fill="#C8DEEB" />
<rect x="588.46" y="630.80" width="3.74" height="6.50" fill="#4B8FC2" />
<rect x="591.80" y="630.80" width="3.74" height="6.50" fill="#C8DEEB" />
<rect x="595.14" y="630.80" width="3.74" height="6.50" fill="#3671B0" />
<rect x="525.00" y="636.90" width="3.74" height="6.50" fill="#EC9A7E" />
<rect x="528.34" y="636.90" width="3.74" height="6.50" fill="#EC9A7E" />
<rect x="531.68" y="636.90" width="3.74" height="6.50" fill="#4B8FC2" />
<rect x="535.02" y="636.90" width="3.74" height="6.50" fill="#EC9A7E" />
<rect x="538.36" y="636.90" width="3.74" height="6.50" fill="#F8CDB8" />
<rect x="541.70" y="636.90" width="3.74" height="6.50" fill="#EC9A7E" />
<rect x="545.04" y="636.90" width="3.74" height="6.50" fill="#C44A45" />
<rect x="548.38" y="636.90" width="3.74" height="6.50" fill="#EC9A7E" />
<rect x="551.72" y="636.90" width="3.74" height="6.50" fill="#C8DEEB" />
<rect x="555.06" y="636.90" width="3.74" height="6.50" fill="#C44A45" />
<rect x="558.40" y="636.90" width="3.74" height="6.50" fill="#C44A45" />
<rect x="561.74" y="636.90" width="3.74" height="6.50" fill="#8BBDD9" />
<rect x="565.08" y="636.90" width="3.74" height="6.50" fill="#3671B0" />
<rect x="568.42" y="636.90" width="3.74" height="6.50" fill="#C8DEEB" />
<rect x="571.76" y="636.90" width="3.74" height="6.50" fill="#F3EEEC" />
<rect x="575.10" y="636.90" width="3.74" height="6.50" fill="#EC9A7E" />
<rect x="578.44" y="636.90" width="3.74" height="6.50" fill="#8BBDD9" />
<rect x="581.78" y="636.90" width="3.74" height="6.50" fill="#F3EEEC" />
<rect x="585.12" y="636.90" width="3.74" height="6.50" fill="#8BBDD9" />
<rect x="588.46" y="636.90" width="3.74" height="6.50" fill="#C44A45" />
<rect x="591.80" y="636.90" width="3.74" height="6.50" fill="#F3EEEC" />
<rect x="595.14" y="636.90" width="3.74" height="6.50" fill="#C8DEEB" />
<rect x="525.00" y="643.00" width="3.74" height="6.50" fill="#F8CDB8" />
<rect x="528.34" y="643.00" width="3.74" height="6.50" fill="#F8CDB8" />
<rect x="531.68" y="643.00" width="3.74" height="6.50" fill="#4B8FC2" />
<rect x="535.02" y="643.00" width="3.74" height="6.50" fill="#C44A45" />
<rect x="538.36" y="643.00" width="3.74" height="6.50" fill="#C44A45" />
<rect x="541.70" y="643.00" width="3.74" height="6.50" fill="#C8DEEB" />
<rect x="545.04" y="643.00" width="3.74" height="6.50" fill="#C44A45" />
<rect x="548.38" y="643.00" width="3.74" height="6.50" fill="#C8DEEB" />
<rect x="551.72" y="643.00" width="3.74" height="6.50" fill="#EC9A7E" />
<rect x="555.06" y="643.00" width="3.74" height="6.50" fill="#F3EEEC" />
<rect x="558.40" y="643.00" width="3.74" height="6.50" fill="#F3EEEC" />
<rect x="561.74" y="643.00" width="3.74" height="6.50" fill="#8BBDD9" />
<rect x="565.08" y="643.00" width="3.74" height="6.50" fill="#F8CDB8" />
<rect x="568.42" y="643.00" width="3.74" height="6.50" fill="#C8DEEB" />
<rect x="571.76" y="643.00" width="3.74" height="6.50" fill="#C8DEEB" />
<rect x="575.10" y="643.00" width="3.74" height="6.50" fill="#C8DEEB" />
<rect x="578.44" y="643.00" width="3.74" height="6.50" fill="#78182A" />
<rect x="581.78" y="643.00" width="3.74" height="6.50" fill="#8BBDD9" />
<rect x="585.12" y="643.00" width="3.74" height="6.50" fill="#8BBDD9" />
<rect x="588.46" y="643.00" width="3.74" height="6.50" fill="#F8CDB8" />
<rect x="591.80" y="643.00" width="3.74" height="6.50" fill="#8BBDD9" />
<rect x="595.14" y="643.00" width="3.74" height="6.50" fill="#F3EEEC" />
<rect x="525.00" y="649.10" width="3.74" height="6.50" fill="#2B5B9A" />
<rect x="528.34" y="649.10" width="3.74" height="6.50" fill="#243763" />
<rect x="531.68" y="649.10" width="3.74" height="6.50" fill="#243763" />
<rect x="535.02" y="649.10" width="3.74" height="6.50" fill="#78182A" />
<rect x="538.36" y="649.10" width="3.74" height="6.50" fill="#3671B0" />
<rect x="541.70" y="649.10" width="3.74" height="6.50" fill="#243763" />
<rect x="545.04" y="649.10" width="3.74" height="6.50" fill="#4B8FC2" />
<rect x="548.38" y="649.10" width="3.74" height="6.50" fill="#243763" />
<rect x="551.72" y="649.10" width="3.74" height="6.50" fill="#C8DEEB" />
<rect x="555.06" y="649.10" width="3.74" height="6.50" fill="#243763" />
<rect x="558.40" y="649.10" width="3.74" height="6.50" fill="#4B8FC2" />
<rect x="561.74" y="649.10" width="3.74" height="6.50" fill="#2B5B9A" />
<rect x="565.08" y="649.10" width="3.74" height="6.50" fill="#243763" />
<rect x="568.42" y="649.10" width="3.74" height="6.50" fill="#243763" />
<rect x="571.76" y="649.10" width="3.74" height="6.50" fill="#4B8FC2" />
<rect x="575.10" y="649.10" width="3.74" height="6.50" fill="#243763" />
<rect x="578.44" y="649.10" width="3.74" height="6.50" fill="#243763" />
<rect x="581.78" y="649.10" width="3.74" height="6.50" fill="#3671B0" />
<rect x="585.12" y="649.10" width="3.74" height="6.50" fill="#243763" />
<rect x="588.46" y="649.10" width="3.74" height="6.50" fill="#2B5B9A" />
<rect x="591.80" y="649.10" width="3.74" height="6.50" fill="#243763" />
<rect x="595.14" y="649.10" width="3.74" height="6.50" fill="#2B5B9A" />
<rect x="524.40" y="508.40" width="74.20" height="147.20" fill="none" stroke="#111" stroke-width="1.2"/>
<rect x="380.00" y="508.80" width="10.50" height="6.40" fill="#66BE9F" />
<rect x="380.00" y="514.90" width="10.50" height="49.10" fill="#F58766" />
<rect x="380.00" y="563.70" width="10.50" height="91.50" fill="#8899C6" />
<text x="601.70" y="514.35" font-size="7.2" text-anchor="start" fill="#222" >IL11</text>
<text x="601.70" y="520.45" font-size="7.2" text-anchor="start" fill="#222" >IL21R</text>
<text x="601.70" y="526.55" font-size="7.2" text-anchor="start" fill="#222" >IL27</text>
<text x="601.70" y="532.65" font-size="7.2" text-anchor="start" fill="#222" >IL12RB2</text>
<text x="601.70" y="538.75" font-size="7.2" text-anchor="start" fill="#222" >IL31RA</text>
<text x="601.70" y="544.85" font-size="7.2" text-anchor="start" fill="#222" >IL12A</text>
<text x="601.70" y="550.95" font-size="7.2" text-anchor="start" fill="#222" >IL17D</text>
<text x="601.70" y="557.05" font-size="7.2" text-anchor="start" fill="#222" >IL11RA</text>
<text x="601.70" y="563.15" font-size="7.2" text-anchor="start" fill="#222" >IL17B</text>
<text x="601.70" y="569.25" font-size="7.2" text-anchor="start" fill="#222" >IL2RB</text>
<text x="601.70" y="575.35" font-size="7.2" text-anchor="start" fill="#222" >IL12RB1</text>
<text x="601.70" y="581.45" font-size="7.2" text-anchor="start" fill="#222" >IL7R</text>
<text x="601.70" y="587.55" font-size="7.2" text-anchor="start" fill="#222" >IL18</text>
<text x="601.70" y="593.65" font-size="7.2" text-anchor="start" fill="#222" >IL2RG</text>
<text x="601.70" y="599.75" font-size="7.2" text-anchor="start" fill="#222" >IL2RA</text>
<text x="601.70" y="605.85" font-size="7.2" text-anchor="start" fill="#222" >IL10RA</text>
<text x="601.70" y="611.95" font-size="7.2" text-anchor="start" fill="#222" >IL1R2</text>
<text x="601.70" y="618.05" font-size="7.2" text-anchor="start" fill="#222" >IL1B</text>
<text x="601.70" y="624.15" font-size="7.2" text-anchor="start" fill="#222" >IL16</text>
<text x="601.70" y="630.25" font-size="7.2" text-anchor="start" fill="#222" >IL10RB</text>
<text x="601.70" y="636.35" font-size="7.2" text-anchor="start" fill="#222" >IL6R</text>
<text x="601.70" y="642.45" font-size="7.2" text-anchor="start" fill="#222" >IL3RA</text>
<text x="601.70" y="648.55" font-size="7.2" text-anchor="start" fill="#222" >IL1R1</text>
<text x="601.70" y="654.65" font-size="7.2" text-anchor="start" fill="#222" >IL6</text>
<rect x="393.90" y="658.60" width="3.72" height="6.50" fill="#C8DEEB" />
<rect x="397.22" y="658.60" width="3.72" height="6.50" fill="#78182A" />
<rect x="400.54" y="658.60" width="3.72" height="6.50" fill="#F8CDB8" />
<rect x="403.86" y="658.60" width="3.72" height="6.50" fill="#78182A" />
<rect x="407.18" y="658.60" width="3.72" height="6.50" fill="#C44A45" />
<rect x="410.50" y="658.60" width="3.72" height="6.50" fill="#78182A" />
<rect x="413.82" y="658.60" width="3.72" height="6.50" fill="#EC9A7E" />
<rect x="417.14" y="658.60" width="3.72" height="6.50" fill="#EC9A7E" />
<rect x="420.46" y="658.60" width="3.72" height="6.50" fill="#F3EEEC" />
<rect x="423.78" y="658.60" width="3.72" height="6.50" fill="#EC9A7E" />
<rect x="427.10" y="658.60" width="3.72" height="6.50" fill="#EC9A7E" />
<rect x="430.42" y="658.60" width="3.72" height="6.50" fill="#EC9A7E" />
<rect x="433.74" y="658.60" width="3.72" height="6.50" fill="#3671B0" />
<rect x="437.06" y="658.60" width="3.72" height="6.50" fill="#78182A" />
<rect x="440.38" y="658.60" width="3.72" height="6.50" fill="#F8CDB8" />
<rect x="443.70" y="658.60" width="3.72" height="6.50" fill="#C44A45" />
<rect x="447.02" y="658.60" width="3.72" height="6.50" fill="#78182A" />
<rect x="450.34" y="658.60" width="3.72" height="6.50" fill="#C8DEEB" />
<rect x="453.66" y="658.60" width="3.72" height="6.50" fill="#C44A45" />
<rect x="456.98" y="658.60" width="3.72" height="6.50" fill="#4B8FC2" />
<rect x="460.30" y="658.60" width="3.72" height="6.50" fill="#F3EEEC" />
<rect x="463.62" y="658.60" width="3.72" height="6.50" fill="#C44A45" />
<rect x="466.94" y="658.60" width="3.72" height="6.50" fill="#4B8FC2" />
<rect x="470.26" y="658.60" width="3.72" height="6.50" fill="#EC9A7E" />
<rect x="393.90" y="664.70" width="3.72" height="6.50" fill="#EC9A7E" />
<rect x="397.22" y="664.70" width="3.72" height="6.50" fill="#EC9A7E" />
<rect x="400.54" y="664.70" width="3.72" height="6.50" fill="#EC9A7E" />
<rect x="403.86" y="664.70" width="3.72" height="6.50" fill="#C44A45" />
<rect x="407.18" y="664.70" width="3.72" height="6.50" fill="#F8CDB8" />
<rect x="410.50" y="664.70" width="3.72" height="6.50" fill="#EC9A7E" />
<rect x="413.82" y="664.70" width="3.72" height="6.50" fill="#EC9A7E" />
<rect x="417.14" y="664.70" width="3.72" height="6.50" fill="#F3EEEC" />
<rect x="420.46" y="664.70" width="3.72" height="6.50" fill="#EC9A7E" />
<rect x="423.78" y="664.70" width="3.72" height="6.50" fill="#F8CDB8" />
<rect x="427.10" y="664.70" width="3.72" height="6.50" fill="#F3EEEC" />
<rect x="430.42" y="664.70" width="3.72" height="6.50" fill="#F8CDB8" />
<rect x="433.74" y="664.70" width="3.72" height="6.50" fill="#C8DEEB" />
<rect x="437.06" y="664.70" width="3.72" height="6.50" fill="#EC9A7E" />
<rect x="440.38" y="664.70" width="3.72" height="6.50" fill="#EC9A7E" />
<rect x="443.70" y="664.70" width="3.72" height="6.50" fill="#F8CDB8" />
<rect x="447.02" y="664.70" width="3.72" height="6.50" fill="#F8CDB8" />
<rect x="450.34" y="664.70" width="3.72" height="6.50" fill="#C8DEEB" />
<rect x="453.66" y="664.70" width="3.72" height="6.50" fill="#F8CDB8" />
<rect x="456.98" y="664.70" width="3.72" height="6.50" fill="#78182A" />
<rect x="460.30" y="664.70" width="3.72" height="6.50" fill="#C44A45" />
<rect x="463.62" y="664.70" width="3.72" height="6.50" fill="#EC9A7E" />
<rect x="466.94" y="664.70" width="3.72" height="6.50" fill="#EC9A7E" />
<rect x="470.26" y="664.70" width="3.72" height="6.50" fill="#EC9A7E" />
<rect x="393.90" y="670.80" width="3.72" height="6.50" fill="#4B8FC2" />
<rect x="397.22" y="670.80" width="3.72" height="6.50" fill="#243763" />
<rect x="400.54" y="670.80" width="3.72" height="6.50" fill="#243763" />
<rect x="403.86" y="670.80" width="3.72" height="6.50" fill="#3671B0" />
<rect x="407.18" y="670.80" width="3.72" height="6.50" fill="#3671B0" />
<rect x="410.50" y="670.80" width="3.72" height="6.50" fill="#2B5B9A" />
<rect x="413.82" y="670.80" width="3.72" height="6.50" fill="#3671B0" />
<rect x="417.14" y="670.80" width="3.72" height="6.50" fill="#243763" />
<rect x="420.46" y="670.80" width="3.72" height="6.50" fill="#243763" />
<rect x="423.78" y="670.80" width="3.72" height="6.50" fill="#3671B0" />
<rect x="427.10" y="670.80" width="3.72" height="6.50" fill="#2B5B9A" />
<rect x="430.42" y="670.80" width="3.72" height="6.50" fill="#243763" />
<rect x="433.74" y="670.80" width="3.72" height="6.50" fill="#3671B0" />
<rect x="437.06" y="670.80" width="3.72" height="6.50" fill="#3671B0" />
<rect x="440.38" y="670.80" width="3.72" height="6.50" fill="#4B8FC2" />
<rect x="443.70" y="670.80" width="3.72" height="6.50" fill="#243763" />
<rect x="447.02" y="670.80" width="3.72" height="6.50" fill="#243763" />
<rect x="450.34" y="670.80" width="3.72" height="6.50" fill="#2B5B9A" />
<rect x="453.66" y="670.80" width="3.72" height="6.50" fill="#243763" />
<rect x="456.98" y="670.80" width="3.72" height="6.50" fill="#2B5B9A" />
<rect x="460.30" y="670.80" width="3.72" height="6.50" fill="#243763" />
<rect x="463.62" y="670.80" width="3.72" height="6.50" fill="#2B5B9A" />
<rect x="466.94" y="670.80" width="3.72" height="6.50" fill="#2B5B9A" />
<rect x="470.26" y="670.80" width="3.72" height="6.50" fill="#243763" />
<rect x="393.90" y="676.90" width="3.72" height="6.50" fill="#F8CDB8" />
<rect x="397.22" y="676.90" width="3.72" height="6.50" fill="#3671B0" />
<rect x="400.54" y="676.90" width="3.72" height="6.50" fill="#8BBDD9" />
<rect x="403.86" y="676.90" width="3.72" height="6.50" fill="#F8CDB8" />
<rect x="407.18" y="676.90" width="3.72" height="6.50" fill="#243763" />
<rect x="410.50" y="676.90" width="3.72" height="6.50" fill="#8BBDD9" />
<rect x="413.82" y="676.90" width="3.72" height="6.50" fill="#8BBDD9" />
<rect x="417.14" y="676.90" width="3.72" height="6.50" fill="#4B8FC2" />
<rect x="420.46" y="676.90" width="3.72" height="6.50" fill="#2B5B9A" />
<rect x="423.78" y="676.90" width="3.72" height="6.50" fill="#8BBDD9" />
<rect x="427.10" y="676.90" width="3.72" height="6.50" fill="#3671B0" />
<rect x="430.42" y="676.90" width="3.72" height="6.50" fill="#2B5B9A" />
<rect x="433.74" y="676.90" width="3.72" height="6.50" fill="#8BBDD9" />
<rect x="437.06" y="676.90" width="3.72" height="6.50" fill="#3671B0" />
<rect x="440.38" y="676.90" width="3.72" height="6.50" fill="#F3EEEC" />
<rect x="443.70" y="676.90" width="3.72" height="6.50" fill="#4B8FC2" />
<rect x="447.02" y="676.90" width="3.72" height="6.50" fill="#8BBDD9" />
<rect x="450.34" y="676.90" width="3.72" height="6.50" fill="#4B8FC2" />
<rect x="453.66" y="676.90" width="3.72" height="6.50" fill="#8BBDD9" />
<rect x="456.98" y="676.90" width="3.72" height="6.50" fill="#C8DEEB" />
<rect x="460.30" y="676.90" width="3.72" height="6.50" fill="#C8DEEB" />
<rect x="463.62" y="676.90" width="3.72" height="6.50" fill="#C8DEEB" />
<rect x="466.94" y="676.90" width="3.72" height="6.50" fill="#8BBDD9" />
<rect x="470.26" y="676.90" width="3.72" height="6.50" fill="#8BBDD9" />
<rect x="393.90" y="683.00" width="3.72" height="6.50" fill="#C44A45" />
<rect x="397.22" y="683.00" width="3.72" height="6.50" fill="#2B5B9A" />
<rect x="400.54" y="683.00" width="3.72" height="6.50" fill="#4B8FC2" />
<rect x="403.86" y="683.00" width="3.72" height="6.50" fill="#F3EEEC" />
<rect x="407.18" y="683.00" width="3.72" height="6.50" fill="#F8CDB8" />
<rect x="410.50" y="683.00" width="3.72" height="6.50" fill="#C8DEEB" />
<rect x="413.82" y="683.00" width="3.72" height="6.50" fill="#3671B0" />
<rect x="417.14" y="683.00" width="3.72" height="6.50" fill="#2B5B9A" />
<rect x="420.46" y="683.00" width="3.72" height="6.50" fill="#C8DEEB" />
<rect x="423.78" y="683.00" width="3.72" height="6.50" fill="#F3EEEC" />
<rect x="427.10" y="683.00" width="3.72" height="6.50" fill="#C44A45" />
<rect x="430.42" y="683.00" width="3.72" height="6.50" fill="#8BBDD9" />
<rect x="433.74" y="683.00" width="3.72" height="6.50" fill="#3671B0" />
<rect x="437.06" y="683.00" width="3.72" height="6.50" fill="#F8CDB8" />
<rect x="440.38" y="683.00" width="3.72" height="6.50" fill="#EC9A7E" />
<rect x="443.70" y="683.00" width="3.72" height="6.50" fill="#C8DEEB" />
<rect x="447.02" y="683.00" width="3.72" height="6.50" fill="#F8CDB8" />
<rect x="450.34" y="683.00" width="3.72" height="6.50" fill="#2B5B9A" />
<rect x="453.66" y="683.00" width="3.72" height="6.50" fill="#8BBDD9" />
<rect x="456.98" y="683.00" width="3.72" height="6.50" fill="#F8CDB8" />
<rect x="460.30" y="683.00" width="3.72" height="6.50" fill="#EC9A7E" />
<rect x="463.62" y="683.00" width="3.72" height="6.50" fill="#8BBDD9" />
<rect x="466.94" y="683.00" width="3.72" height="6.50" fill="#F8CDB8" />
<rect x="470.26" y="683.00" width="3.72" height="6.50" fill="#8BBDD9" />
<rect x="393.90" y="689.10" width="3.72" height="6.50" fill="#C8DEEB" />
<rect x="397.22" y="689.10" width="3.72" height="6.50" fill="#F3EEEC" />
<rect x="400.54" y="689.10" width="3.72" height="6.50" fill="#EC9A7E" />
<rect x="403.86" y="689.10" width="3.72" height="6.50" fill="#EC9A7E" />
<rect x="407.18" y="689.10" width="3.72" height="6.50" fill="#EC9A7E" />
<rect x="410.50" y="689.10" width="3.72" height="6.50" fill="#F3EEEC" />
<rect x="413.82" y="689.10" width="3.72" height="6.50" fill="#8BBDD9" />
<rect x="417.14" y="689.10" width="3.72" height="6.50" fill="#8BBDD9" />
<rect x="420.46" y="689.10" width="3.72" height="6.50" fill="#4B8FC2" />
<rect x="423.78" y="689.10" width="3.72" height="6.50" fill="#F3EEEC" />
<rect x="427.10" y="689.10" width="3.72" height="6.50" fill="#F3EEEC" />
<rect x="430.42" y="689.10" width="3.72" height="6.50" fill="#3671B0" />
<rect x="433.74" y="689.10" width="3.72" height="6.50" fill="#C8DEEB" />
<rect x="437.06" y="689.10" width="3.72" height="6.50" fill="#C8DEEB" />
<rect x="440.38" y="689.10" width="3.72" height="6.50" fill="#F8CDB8" />
<rect x="443.70" y="689.10" width="3.72" height="6.50" fill="#F8CDB8" />
<rect x="447.02" y="689.10" width="3.72" height="6.50" fill="#EC9A7E" />
<rect x="450.34" y="689.10" width="3.72" height="6.50" fill="#4B8FC2" />
<rect x="453.66" y="689.10" width="3.72" height="6.50" fill="#3671B0" />
<rect x="456.98" y="689.10" width="3.72" height="6.50" fill="#F8CDB8" />
<rect x="460.30" y="689.10" width="3.72" height="6.50" fill="#F8CDB8" />
<rect x="463.62" y="689.10" width="3.72" height="6.50" fill="#8BBDD9" />
<rect x="466.94" y="689.10" width="3.72" height="6.50" fill="#C8DEEB" />
<rect x="470.26" y="689.10" width="3.72" height="6.50" fill="#EC9A7E" />
<rect x="393.90" y="695.20" width="3.72" height="6.50" fill="#8BBDD9" />
<rect x="397.22" y="695.20" width="3.72" height="6.50" fill="#8BBDD9" />
<rect x="400.54" y="695.20" width="3.72" height="6.50" fill="#C8DEEB" />
<rect x="403.86" y="695.20" width="3.72" height="6.50" fill="#F3EEEC" />
<rect x="407.18" y="695.20" width="3.72" height="6.50" fill="#F3EEEC" />
<rect x="410.50" y="695.20" width="3.72" height="6.50" fill="#8BBDD9" />
<rect x="413.82" y="695.20" width="3.72" height="6.50" fill="#4B8FC2" />
<rect x="417.14" y="695.20" width="3.72" height="6.50" fill="#2B5B9A" />
<rect x="420.46" y="695.20" width="3.72" height="6.50" fill="#3671B0" />
<rect x="423.78" y="695.20" width="3.72" height="6.50" fill="#F3EEEC" />
<rect x="427.10" y="695.20" width="3.72" height="6.50" fill="#F3EEEC" />
<rect x="430.42" y="695.20" width="3.72" height="6.50" fill="#2B5B9A" />
<rect x="433.74" y="695.20" width="3.72" height="6.50" fill="#F8CDB8" />
<rect x="437.06" y="695.20" width="3.72" height="6.50" fill="#8BBDD9" />
<rect x="440.38" y="695.20" width="3.72" height="6.50" fill="#8BBDD9" />
<rect x="443.70" y="695.20" width="3.72" height="6.50" fill="#8BBDD9" />
<rect x="447.02" y="695.20" width="3.72" height="6.50" fill="#8BBDD9" />
<rect x="450.34" y="695.20" width="3.72" height="6.50" fill="#4B8FC2" />
<rect x="453.66" y="695.20" width="3.72" height="6.50" fill="#4B8FC2" />
<rect x="456.98" y="695.20" width="3.72" height="6.50" fill="#8BBDD9" />
<rect x="460.30" y="695.20" width="3.72" height="6.50" fill="#EC9A7E" />
<rect x="463.62" y="695.20" width="3.72" height="6.50" fill="#8BBDD9" />
<rect x="466.94" y="695.20" width="3.72" height="6.50" fill="#F3EEEC" />
<rect x="470.26" y="695.20" width="3.72" height="6.50" fill="#C8DEEB" />
<rect x="393.90" y="701.30" width="3.72" height="6.50" fill="#243763" />
<rect x="397.22" y="701.30" width="3.72" height="6.50" fill="#2B5B9A" />
<rect x="400.54" y="701.30" width="3.72" height="6.50" fill="#2B5B9A" />
<rect x="403.86" y="701.30" width="3.72" height="6.50" fill="#243763" />
<rect x="407.18" y="701.30" width="3.72" height="6.50" fill="#4B8FC2" />
<rect x="410.50" y="701.30" width="3.72" height="6.50" fill="#C44A45" />
<rect x="413.82" y="701.30" width="3.72" height="6.50" fill="#243763" />
<rect x="417.14" y="701.30" width="3.72" height="6.50" fill="#243763" />
<rect x="420.46" y="701.30" width="3.72" height="6.50" fill="#243763" />
<rect x="423.78" y="701.30" width="3.72" height="6.50" fill="#3671B0" />
<rect x="427.10" y="701.30" width="3.72" height="6.50" fill="#2B5B9A" />
<rect x="430.42" y="701.30" width="3.72" height="6.50" fill="#243763" />
<rect x="433.74" y="701.30" width="3.72" height="6.50" fill="#F8CDB8" />
<rect x="437.06" y="701.30" width="3.72" height="6.50" fill="#2B5B9A" />
<rect x="440.38" y="701.30" width="3.72" height="6.50" fill="#3671B0" />
<rect x="443.70" y="701.30" width="3.72" height="6.50" fill="#3671B0" />
<rect x="447.02" y="701.30" width="3.72" height="6.50" fill="#243763" />
<rect x="450.34" y="701.30" width="3.72" height="6.50" fill="#243763" />
<rect x="453.66" y="701.30" width="3.72" height="6.50" fill="#243763" />
<rect x="456.98" y="701.30" width="3.72" height="6.50" fill="#2B5B9A" />
<rect x="460.30" y="701.30" width="3.72" height="6.50" fill="#243763" />
<rect x="463.62" y="701.30" width="3.72" height="6.50" fill="#243763" />
<rect x="466.94" y="701.30" width="3.72" height="6.50" fill="#C8DEEB" />
<rect x="470.26" y="701.30" width="3.72" height="6.50" fill="#243763" />
<rect x="393.90" y="707.40" width="3.72" height="6.50" fill="#243763" />
<rect x="397.22" y="707.40" width="3.72" height="6.50" fill="#243763" />
<rect x="400.54" y="707.40" width="3.72" height="6.50" fill="#243763" />
<rect x="403.86" y="707.40" width="3.72" height="6.50" fill="#243763" />
<rect x="407.18" y="707.40" width="3.72" height="6.50" fill="#243763" />
<rect x="410.50" y="707.40" width="3.72" height="6.50" fill="#243763" />
<rect x="413.82" y="707.40" width="3.72" height="6.50" fill="#243763" />
<rect x="417.14" y="707.40" width="3.72" height="6.50" fill="#243763" />
<rect x="420.46" y="707.40" width="3.72" height="6.50" fill="#243763" />
<rect x="423.78" y="707.40" width="3.72" height="6.50" fill="#243763" />
<rect x="427.10" y="707.40" width="3.72" height="6.50" fill="#243763" />
<rect x="430.42" y="707.40" width="3.72" height="6.50" fill="#243763" />
<rect x="433.74" y="707.40" width="3.72" height="6.50" fill="#243763" />
<rect x="437.06" y="707.40" width="3.72" height="6.50" fill="#243763" />
<rect x="440.38" y="707.40" width="3.72" height="6.50" fill="#243763" />
<rect x="443.70" y="707.40" width="3.72" height="6.50" fill="#243763" />
<rect x="447.02" y="707.40" width="3.72" height="6.50" fill="#243763" />
<rect x="450.34" y="707.40" width="3.72" height="6.50" fill="#243763" />
<rect x="453.66" y="707.40" width="3.72" height="6.50" fill="#243763" />
<rect x="456.98" y="707.40" width="3.72" height="6.50" fill="#243763" />
<rect x="460.30" y="707.40" width="3.72" height="6.50" fill="#243763" />
<rect x="463.62" y="707.40" width="3.72" height="6.50" fill="#243763" />
<rect x="466.94" y="707.40" width="3.72" height="6.50" fill="#243763" />
<rect x="470.26" y="707.40" width="3.72" height="6.50" fill="#243763" />
<rect x="393.90" y="713.50" width="3.72" height="6.50" fill="#8BBDD9" />
<rect x="397.22" y="713.50" width="3.72" height="6.50" fill="#4B8FC2" />
<rect x="400.54" y="713.50" width="3.72" height="6.50" fill="#2B5B9A" />
<rect x="403.86" y="713.50" width="3.72" height="6.50" fill="#8BBDD9" />
<rect x="407.18" y="713.50" width="3.72" height="6.50" fill="#F8CDB8" />
<rect x="410.50" y="713.50" width="3.72" height="6.50" fill="#8BBDD9" />
<rect x="413.82" y="713.50" width="3.72" height="6.50" fill="#4B8FC2" />
<rect x="417.14" y="713.50" width="3.72" height="6.50" fill="#3671B0" />
<rect x="420.46" y="713.50" width="3.72" height="6.50" fill="#2B5B9A" />
<rect x="423.78" y="713.50" width="3.72" height="6.50" fill="#8BBDD9" />
<rect x="427.10" y="713.50" width="3.72" height="6.50" fill="#F3EEEC" />
<rect x="430.42" y="713.50" width="3.72" height="6.50" fill="#4B8FC2" />
<rect x="433.74" y="713.50" width="3.72" height="6.50" fill="#C8DEEB" />
<rect x="437.06" y="713.50" width="3.72" height="6.50" fill="#C8DEEB" />
<rect x="440.38" y="713.50" width="3.72" height="6.50" fill="#3671B0" />
<rect x="443.70" y="713.50" width="3.72" height="6.50" fill="#8BBDD9" />
<rect x="447.02" y="713.50" width="3.72" height="6.50" fill="#8BBDD9" />
<rect x="450.34" y="713.50" width="3.72" height="6.50" fill="#4B8FC2" />
<rect x="453.66" y="713.50" width="3.72" height="6.50" fill="#C8DEEB" />
<rect x="456.98" y="713.50" width="3.72" height="6.50" fill="#C8DEEB" />
<rect x="460.30" y="713.50" width="3.72" height="6.50" fill="#C8DEEB" />
<rect x="463.62" y="713.50" width="3.72" height="6.50" fill="#8BBDD9" />
<rect x="466.94" y="713.50" width="3.72" height="6.50" fill="#4B8FC2" />
<rect x="470.26" y="713.50" width="3.72" height="6.50" fill="#4B8FC2" />
<rect x="393.90" y="719.60" width="3.72" height="6.50" fill="#4B8FC2" />
<rect x="397.22" y="719.60" width="3.72" height="6.50" fill="#3671B0" />
<rect x="400.54" y="719.60" width="3.72" height="6.50" fill="#3671B0" />
<rect x="403.86" y="719.60" width="3.72" height="6.50" fill="#2B5B9A" />
<rect x="407.18" y="719.60" width="3.72" height="6.50" fill="#4B8FC2" />
<rect x="410.50" y="719.60" width="3.72" height="6.50" fill="#3671B0" />
<rect x="413.82" y="719.60" width="3.72" height="6.50" fill="#3671B0" />
<rect x="417.14" y="719.60" width="3.72" height="6.50" fill="#2B5B9A" />
<rect x="420.46" y="719.60" width="3.72" height="6.50" fill="#243763" />
<rect x="423.78" y="719.60" width="3.72" height="6.50" fill="#8BBDD9" />
<rect x="427.10" y="719.60" width="3.72" height="6.50" fill="#3671B0" />
<rect x="430.42" y="719.60" width="3.72" height="6.50" fill="#243763" />
<rect x="433.74" y="719.60" width="3.72" height="6.50" fill="#3671B0" />
<rect x="437.06" y="719.60" width="3.72" height="6.50" fill="#3671B0" />
<rect x="440.38" y="719.60" width="3.72" height="6.50" fill="#2B5B9A" />
<rect x="443.70" y="719.60" width="3.72" height="6.50" fill="#2B5B9A" />
<rect x="447.02" y="719.60" width="3.72" height="6.50" fill="#4B8FC2" />
<rect x="450.34" y="719.60" width="3.72" height="6.50" fill="#3671B0" />
<rect x="453.66" y="719.60" width="3.72" height="6.50" fill="#4B8FC2" />
<rect x="456.98" y="719.60" width="3.72" height="6.50" fill="#4B8FC2" />
<rect x="460.30" y="719.60" width="3.72" height="6.50" fill="#4B8FC2" />
<rect x="463.62" y="719.60" width="3.72" height="6.50" fill="#3671B0" />
<rect x="466.94" y="719.60" width="3.72" height="6.50" fill="#4B8FC2" />
<rect x="470.26" y="719.60" width="3.72" height="6.50" fill="#8BBDD9" />
<rect x="393.90" y="725.70" width="3.72" height="6.50" fill="#F8CDB8" />
<rect x="397.22" y="725.70" width="3.72" height="6.50" fill="#C8DEEB" />
<rect x="400.54" y="725.70" width="3.72" height="6.50" fill="#C8DEEB" />
<rect x="403.86" y="725.70" width="3.72" height="6.50" fill="#8BBDD9" />
<rect x="407.18" y="725.70" width="3.72" height="6.50" fill="#F8CDB8" />
<rect x="410.50" y="725.70" width="3.72" height="6.50" fill="#8BBDD9" />
<rect x="413.82" y="725.70" width="3.72" height="6.50" fill="#3671B0" />
<rect x="417.14" y="725.70" width="3.72" height="6.50" fill="#3671B0" />
<rect x="420.46" y="725.70" width="3.72" height="6.50" fill="#3671B0" />
<rect x="423.78" y="725.70" width="3.72" height="6.50" fill="#C8DEEB" />
<rect x="427.10" y="725.70" width="3.72" height="6.50" fill="#EC9A7E" />
<rect x="430.42" y="725.70" width="3.72" height="6.50" fill="#4B8FC2" />
<rect x="433.74" y="725.70" width="3.72" height="6.50" fill="#F3EEEC" />
<rect x="437.06" y="725.70" width="3.72" height="6.50" fill="#C8DEEB" />
<rect x="440.38" y="725.70" width="3.72" height="6.50" fill="#F3EEEC" />
<rect x="443.70" y="725.70" width="3.72" height="6.50" fill="#F3EEEC" />
<rect x="447.02" y="725.70" width="3.72" height="6.50" fill="#4B8FC2" />
<rect x="450.34" y="725.70" width="3.72" height="6.50" fill="#243763" />
<rect x="453.66" y="725.70" width="3.72" height="6.50" fill="#8BBDD9" />
<rect x="456.98" y="725.70" width="3.72" height="6.50" fill="#C8DEEB" />
<rect x="460.30" y="725.70" width="3.72" height="6.50" fill="#F3EEEC" />
<rect x="463.62" y="725.70" width="3.72" height="6.50" fill="#8BBDD9" />
<rect x="466.94" y="725.70" width="3.72" height="6.50" fill="#C8DEEB" />
<rect x="470.26" y="725.70" width="3.72" height="6.50" fill="#4B8FC2" />
<rect x="393.30" y="658.20" width="81.00" height="74.00" fill="none" stroke="#111" stroke-width="1.2"/>
<rect x="478.00" y="658.60" width="3.73" height="6.50" fill="#4B8FC2" />
<rect x="481.33" y="658.60" width="3.73" height="6.50" fill="#8BBDD9" />
<rect x="484.66" y="658.60" width="3.73" height="6.50" fill="#C8DEEB" />
<rect x="487.99" y="658.60" width="3.73" height="6.50" fill="#C8DEEB" />
<rect x="491.32" y="658.60" width="3.73" height="6.50" fill="#EC9A7E" />
<rect x="494.65" y="658.60" width="3.73" height="6.50" fill="#F8CDB8" />
<rect x="497.98" y="658.60" width="3.73" height="6.50" fill="#78182A" />
<rect x="501.31" y="658.60" width="3.73" height="6.50" fill="#F3EEEC" />
<rect x="504.64" y="658.60" width="3.73" height="6.50" fill="#C8DEEB" />
<rect x="507.97" y="658.60" width="3.73" height="6.50" fill="#243763" />
<rect x="511.30" y="658.60" width="3.73" height="6.50" fill="#C8DEEB" />
<rect x="514.63" y="658.60" width="3.73" height="6.50" fill="#F3EEEC" />
<rect x="517.96" y="658.60" width="3.73" height="6.50" fill="#F3EEEC" />
<rect x="478.00" y="664.70" width="3.73" height="6.50" fill="#F8CDB8" />
<rect x="481.33" y="664.70" width="3.73" height="6.50" fill="#F3EEEC" />
<rect x="484.66" y="664.70" width="3.73" height="6.50" fill="#EC9A7E" />
<rect x="487.99" y="664.70" width="3.73" height="6.50" fill="#EC9A7E" />
<rect x="491.32" y="664.70" width="3.73" height="6.50" fill="#C44A45" />
<rect x="494.65" y="664.70" width="3.73" height="6.50" fill="#8BBDD9" />
<rect x="497.98" y="664.70" width="3.73" height="6.50" fill="#C44A45" />
<rect x="501.31" y="664.70" width="3.73" height="6.50" fill="#F8CDB8" />
<rect x="504.64" y="664.70" width="3.73" height="6.50" fill="#C8DEEB" />
<rect x="507.97" y="664.70" width="3.73" height="6.50" fill="#3671B0" />
<rect x="511.30" y="664.70" width="3.73" height="6.50" fill="#EC9A7E" />
<rect x="514.63" y="664.70" width="3.73" height="6.50" fill="#C44A45" />
<rect x="517.96" y="664.70" width="3.73" height="6.50" fill="#EC9A7E" />
<rect x="478.00" y="670.80" width="3.73" height="6.50" fill="#4B8FC2" />
<rect x="481.33" y="670.80" width="3.73" height="6.50" fill="#C8DEEB" />
<rect x="484.66" y="670.80" width="3.73" height="6.50" fill="#EC9A7E" />
<rect x="487.99" y="670.80" width="3.73" height="6.50" fill="#243763" />
<rect x="491.32" y="670.80" width="3.73" height="6.50" fill="#4B8FC2" />
<rect x="494.65" y="670.80" width="3.73" height="6.50" fill="#8BBDD9" />
<rect x="497.98" y="670.80" width="3.73" height="6.50" fill="#243763" />
<rect x="501.31" y="670.80" width="3.73" height="6.50" fill="#3671B0" />
<rect x="504.64" y="670.80" width="3.73" height="6.50" fill="#78182A" />
<rect x="507.97" y="670.80" width="3.73" height="6.50" fill="#F8CDB8" />
<rect x="511.30" y="670.80" width="3.73" height="6.50" fill="#243763" />
<rect x="514.63" y="670.80" width="3.73" height="6.50" fill="#2B5B9A" />
<rect x="517.96" y="670.80" width="3.73" height="6.50" fill="#4B8FC2" />
<rect x="478.00" y="676.90" width="3.73" height="6.50" fill="#EC9A7E" />
<rect x="481.33" y="676.90" width="3.73" height="6.50" fill="#EC9A7E" />
<rect x="484.66" y="676.90" width="3.73" height="6.50" fill="#EC9A7E" />
<rect x="487.99" y="676.90" width="3.73" height="6.50" fill="#EC9A7E" />
<rect x="491.32" y="676.90" width="3.73" height="6.50" fill="#F3EEEC" />
<rect x="494.65" y="676.90" width="3.73" height="6.50" fill="#EC9A7E" />
<rect x="497.98" y="676.90" width="3.73" height="6.50" fill="#EC9A7E" />
<rect x="501.31" y="676.90" width="3.73" height="6.50" fill="#F3EEEC" />
<rect x="504.64" y="676.90" width="3.73" height="6.50" fill="#EC9A7E" />
<rect x="507.97" y="676.90" width="3.73" height="6.50" fill="#EC9A7E" />
<rect x="511.30" y="676.90" width="3.73" height="6.50" fill="#F8CDB8" />
<rect x="514.63" y="676.90" width="3.73" height="6.50" fill="#F8CDB8" />
<rect x="517.96" y="676.90" width="3.73" height="6.50" fill="#F8CDB8" />
<rect x="478.00" y="683.00" width="3.73" height="6.50" fill="#F8CDB8" />
<rect x="481.33" y="683.00" width="3.73" height="6.50" fill="#EC9A7E" />
<rect x="484.66" y="683.00" width="3.73" height="6.50" fill="#78182A" />
<rect x="487.99" y="683.00" width="3.73" height="6.50" fill="#EC9A7E" />
<rect x="491.32" y="683.00" width="3.73" height="6.50" fill="#8BBDD9" />
<rect x="494.65" y="683.00" width="3.73" height="6.50" fill="#C44A45" />
<rect x="497.98" y="683.00" width="3.73" height="6.50" fill="#EC9A7E" />
<rect x="501.31" y="683.00" width="3.73" height="6.50" fill="#F3EEEC" />
<rect x="504.64" y="683.00" width="3.73" height="6.50" fill="#78182A" />
<rect x="507.97" y="683.00" width="3.73" height="6.50" fill="#F8CDB8" />
<rect x="511.30" y="683.00" width="3.73" height="6.50" fill="#8BBDD9" />
<rect x="514.63" y="683.00" width="3.73" height="6.50" fill="#C44A45" />
<rect x="517.96" y="683.00" width="3.73" height="6.50" fill="#8BBDD9" />
<rect x="478.00" y="689.10" width="3.73" height="6.50" fill="#C44A45" />
<rect x="481.33" y="689.10" width="3.73" height="6.50" fill="#EC9A7E" />
<rect x="484.66" y="689.10" width="3.73" height="6.50" fill="#78182A" />
<rect x="487.99" y="689.10" width="3.73" height="6.50" fill="#EC9A7E" />
<rect x="491.32" y="689.10" width="3.73" height="6.50" fill="#C44A45" />
<rect x="494.65" y="689.10" width="3.73" height="6.50" fill="#EC9A7E" />
<rect x="497.98" y="689.10" width="3.73" height="6.50" fill="#C44A45" />
<rect x="501.31" y="689.10" width="3.73" height="6.50" fill="#F8CDB8" />
<rect x="504.64" y="689.10" width="3.73" height="6.50" fill="#EC9A7E" />
<rect x="507.97" y="689.10" width="3.73" height="6.50" fill="#F8CDB8" />
<rect x="511.30" y="689.10" width="3.73" height="6.50" fill="#78182A" />
<rect x="514.63" y="689.10" width="3.73" height="6.50" fill="#C44A45" />
<rect x="517.96" y="689.10" width="3.73" height="6.50" fill="#78182A" />
<rect x="478.00" y="695.20" width="3.73" height="6.50" fill="#EC9A7E" />
<rect x="481.33" y="695.20" width="3.73" height="6.50" fill="#78182A" />
<rect x="484.66" y="695.20" width="3.73" height="6.50" fill="#EC9A7E" />
<rect x="487.99" y="695.20" width="3.73" height="6.50" fill="#8BBDD9" />
<rect x="491.32" y="695.20" width="3.73" height="6.50" fill="#F3EEEC" />
<rect x="494.65" y="695.20" width="3.73" height="6.50" fill="#EC9A7E" />
<rect x="497.98" y="695.20" width="3.73" height="6.50" fill="#EC9A7E" />
<rect x="501.31" y="695.20" width="3.73" height="6.50" fill="#F3EEEC" />
<rect x="504.64" y="695.20" width="3.73" height="6.50" fill="#F8CDB8" />
<rect x="507.97" y="695.20" width="3.73" height="6.50" fill="#EC9A7E" />
<rect x="511.30" y="695.20" width="3.73" height="6.50" fill="#F8CDB8" />
<rect x="514.63" y="695.20" width="3.73" height="6.50" fill="#F8CDB8" />
<rect x="517.96" y="695.20" width="3.73" height="6.50" fill="#F8CDB8" />
<rect x="478.00" y="701.30" width="3.73" height="6.50" fill="#3671B0" />
<rect x="481.33" y="701.30" width="3.73" height="6.50" fill="#2B5B9A" />
<rect x="484.66" y="701.30" width="3.73" height="6.50" fill="#2B5B9A" />
<rect x="487.99" y="701.30" width="3.73" height="6.50" fill="#4B8FC2" />
<rect x="491.32" y="701.30" width="3.73" height="6.50" fill="#4B8FC2" />
<rect x="494.65" y="701.30" width="3.73" height="6.50" fill="#2B5B9A" />
<rect x="497.98" y="701.30" width="3.73" height="6.50" fill="#3671B0" />
<rect x="501.31" y="701.30" width="3.73" height="6.50" fill="#4B8FC2" />
<rect x="504.64" y="701.30" width="3.73" height="6.50" fill="#2B5B9A" />
<rect x="507.97" y="701.30" width="3.73" height="6.50" fill="#3671B0" />
<rect x="511.30" y="701.30" width="3.73" height="6.50" fill="#2B5B9A" />
<rect x="514.63" y="701.30" width="3.73" height="6.50" fill="#4B8FC2" />
<rect x="517.96" y="701.30" width="3.73" height="6.50" fill="#3671B0" />
<rect x="478.00" y="707.40" width="3.73" height="6.50" fill="#243763" />
<rect x="481.33" y="707.40" width="3.73" height="6.50" fill="#243763" />
<rect x="484.66" y="707.40" width="3.73" height="6.50" fill="#243763" />
<rect x="487.99" y="707.40" width="3.73" height="6.50" fill="#243763" />
<rect x="491.32" y="707.40" width="3.73" height="6.50" fill="#243763" />
<rect x="494.65" y="707.40" width="3.73" height="6.50" fill="#243763" />
<rect x="497.98" y="707.40" width="3.73" height="6.50" fill="#243763" />
<rect x="501.31" y="707.40" width="3.73" height="6.50" fill="#243763" />
<rect x="504.64" y="707.40" width="3.73" height="6.50" fill="#243763" />
<rect x="507.97" y="707.40" width="3.73" height="6.50" fill="#243763" />
<rect x="511.30" y="707.40" width="3.73" height="6.50" fill="#243763" />
<rect x="514.63" y="707.40" width="3.73" height="6.50" fill="#243763" />
<rect x="517.96" y="707.40" width="3.73" height="6.50" fill="#243763" />
<rect x="478.00" y="713.50" width="3.73" height="6.50" fill="#8BBDD9" />
<rect x="481.33" y="713.50" width="3.73" height="6.50" fill="#F8CDB8" />
<rect x="484.66" y="713.50" width="3.73" height="6.50" fill="#8BBDD9" />
<rect x="487.99" y="713.50" width="3.73" height="6.50" fill="#2B5B9A" />
<rect x="491.32" y="713.50" width="3.73" height="6.50" fill="#2B5B9A" />
<rect x="494.65" y="713.50" width="3.73" height="6.50" fill="#C8DEEB" />
<rect x="497.98" y="713.50" width="3.73" height="6.50" fill="#3671B0" />
<rect x="501.31" y="713.50" width="3.73" height="6.50" fill="#4B8FC2" />
<rect x="504.64" y="713.50" width="3.73" height="6.50" fill="#4B8FC2" />
<rect x="507.97" y="713.50" width="3.73" height="6.50" fill="#8BBDD9" />
<rect x="511.30" y="713.50" width="3.73" height="6.50" fill="#243763" />
<rect x="514.63" y="713.50" width="3.73" height="6.50" fill="#243763" />
<rect x="517.96" y="713.50" width="3.73" height="6.50" fill="#8BBDD9" />
<rect x="478.00" y="719.60" width="3.73" height="6.50" fill="#4B8FC2" />
<rect x="481.33" y="719.60" width="3.73" height="6.50" fill="#F8CDB8" />
<rect x="484.66" y="719.60" width="3.73" height="6.50" fill="#4B8FC2" />
<rect x="487.99" y="719.60" width="3.73" height="6.50" fill="#2B5B9A" />
<rect x="491.32" y="719.60" width="3.73" height="6.50" fill="#243763" />
<rect x="494.65" y="719.60" width="3.73" height="6.50" fill="#F8CDB8" />
<rect x="497.98" y="719.60" width="3.73" height="6.50" fill="#3671B0" />
<rect x="501.31" y="719.60" width="3.73" height="6.50" fill="#4B8FC2" />
<rect x="504.64" y="719.60" width="3.73" height="6.50" fill="#2B5B9A" />
<rect x="507.97" y="719.60" width="3.73" height="6.50" fill="#C8DEEB" />
<rect x="511.30" y="719.60" width="3.73" height="6.50" fill="#3671B0" />
<rect x="514.63" y="719.60" width="3.73" height="6.50" fill="#3671B0" />
<rect x="517.96" y="719.60" width="3.73" height="6.50" fill="#4B8FC2" />
<rect x="478.00" y="725.70" width="3.73" height="6.50" fill="#C8DEEB" />
<rect x="481.33" y="725.70" width="3.73" height="6.50" fill="#EC9A7E" />
<rect x="484.66" y="725.70" width="3.73" height="6.50" fill="#C8DEEB" />
<rect x="487.99" y="725.70" width="3.73" height="6.50" fill="#4B8FC2" />
<rect x="491.32" y="725.70" width="3.73" height="6.50" fill="#8BBDD9" />
<rect x="494.65" y="725.70" width="3.73" height="6.50" fill="#78182A" />
<rect x="497.98" y="725.70" width="3.73" height="6.50" fill="#C8DEEB" />
<rect x="501.31" y="725.70" width="3.73" height="6.50" fill="#F8CDB8" />
<rect x="504.64" y="725.70" width="3.73" height="6.50" fill="#EC9A7E" />
<rect x="507.97" y="725.70" width="3.73" height="6.50" fill="#78182A" />
<rect x="511.30" y="725.70" width="3.73" height="6.50" fill="#8BBDD9" />
<rect x="514.63" y="725.70" width="3.73" height="6.50" fill="#C8DEEB" />
<rect x="517.96" y="725.70" width="3.73" height="6.50" fill="#F3EEEC" />
<rect x="477.40" y="658.20" width="44.30" height="74.00" fill="none" stroke="#111" stroke-width="1.2"/>
<rect x="525.00" y="658.60" width="3.74" height="6.50" fill="#C8DEEB" />
<rect x="528.34" y="658.60" width="3.74" height="6.50" fill="#EC9A7E" />
<rect x="531.68" y="658.60" width="3.74" height="6.50" fill="#EC9A7E" />
<rect x="535.02" y="658.60" width="3.74" height="6.50" fill="#4B8FC2" />
<rect x="538.36" y="658.60" width="3.74" height="6.50" fill="#4B8FC2" />
<rect x="541.70" y="658.60" width="3.74" height="6.50" fill="#EC9A7E" />
<rect x="545.04" y="658.60" width="3.74" height="6.50" fill="#EC9A7E" />
<rect x="548.38" y="658.60" width="3.74" height="6.50" fill="#4B8FC2" />
<rect x="551.72" y="658.60" width="3.74" height="6.50" fill="#3671B0" />
<rect x="555.06" y="658.60" width="3.74" height="6.50" fill="#3671B0" />
<rect x="558.40" y="658.60" width="3.74" height="6.50" fill="#EC9A7E" />
<rect x="561.74" y="658.60" width="3.74" height="6.50" fill="#F8CDB8" />
<rect x="565.08" y="658.60" width="3.74" height="6.50" fill="#8BBDD9" />
<rect x="568.42" y="658.60" width="3.74" height="6.50" fill="#F8CDB8" />
<rect x="571.76" y="658.60" width="3.74" height="6.50" fill="#C8DEEB" />
<rect x="575.10" y="658.60" width="3.74" height="6.50" fill="#C8DEEB" />
<rect x="578.44" y="658.60" width="3.74" height="6.50" fill="#F3EEEC" />
<rect x="581.78" y="658.60" width="3.74" height="6.50" fill="#F3EEEC" />
<rect x="585.12" y="658.60" width="3.74" height="6.50" fill="#EC9A7E" />
<rect x="588.46" y="658.60" width="3.74" height="6.50" fill="#4B8FC2" />
<rect x="591.80" y="658.60" width="3.74" height="6.50" fill="#78182A" />
<rect x="595.14" y="658.60" width="3.74" height="6.50" fill="#C44A45" />
<rect x="525.00" y="664.70" width="3.74" height="6.50" fill="#4B8FC2" />
<rect x="528.34" y="664.70" width="3.74" height="6.50" fill="#EC9A7E" />
<rect x="531.68" y="664.70" width="3.74" height="6.50" fill="#8BBDD9" />
<rect x="535.02" y="664.70" width="3.74" height="6.50" fill="#4B8FC2" />
<rect x="538.36" y="664.70" width="3.74" height="6.50" fill="#C44A45" />
<rect x="541.70" y="664.70" width="3.74" height="6.50" fill="#F3EEEC" />
<rect x="545.04" y="664.70" width="3.74" height="6.50" fill="#F3EEEC" />
<rect x="548.38" y="664.70" width="3.74" height="6.50" fill="#4B8FC2" />
<rect x="551.72" y="664.70" width="3.74" height="6.50" fill="#C8DEEB" />
<rect x="555.06" y="664.70" width="3.74" height="6.50" fill="#EC9A7E" />
<rect x="558.40" y="664.70" width="3.74" height="6.50" fill="#F8CDB8" />
<rect x="561.74" y="664.70" width="3.74" height="6.50" fill="#EC9A7E" />
<rect x="565.08" y="664.70" width="3.74" height="6.50" fill="#F3EEEC" />
<rect x="568.42" y="664.70" width="3.74" height="6.50" fill="#78182A" />
<rect x="571.76" y="664.70" width="3.74" height="6.50" fill="#F3EEEC" />
<rect x="575.10" y="664.70" width="3.74" height="6.50" fill="#F3EEEC" />
<rect x="578.44" y="664.70" width="3.74" height="6.50" fill="#F8CDB8" />
<rect x="581.78" y="664.70" width="3.74" height="6.50" fill="#F8CDB8" />
<rect x="585.12" y="664.70" width="3.74" height="6.50" fill="#EC9A7E" />
<rect x="588.46" y="664.70" width="3.74" height="6.50" fill="#2B5B9A" />
<rect x="591.80" y="664.70" width="3.74" height="6.50" fill="#F3EEEC" />
<rect x="595.14" y="664.70" width="3.74" height="6.50" fill="#F8CDB8" />
<rect x="525.00" y="670.80" width="3.74" height="6.50" fill="#4B8FC2" />
<rect x="528.34" y="670.80" width="3.74" height="6.50" fill="#4B8FC2" />
<rect x="531.68" y="670.80" width="3.74" height="6.50" fill="#4B8FC2" />
<rect x="535.02" y="670.80" width="3.74" height="6.50" fill="#3671B0" />
<rect x="538.36" y="670.80" width="3.74" height="6.50" fill="#8BBDD9" />
<rect x="541.70" y="670.80" width="3.74" height="6.50" fill="#2B5B9A" />
<rect x="545.04" y="670.80" width="3.74" height="6.50" fill="#2B5B9A" />
<rect x="548.38" y="670.80" width="3.74" height="6.50" fill="#2B5B9A" />
<rect x="551.72" y="670.80" width="3.74" height="6.50" fill="#C44A45" />
<rect x="555.06" y="670.80" width="3.74" height="6.50" fill="#2B5B9A" />
<rect x="558.40" y="670.80" width="3.74" height="6.50" fill="#8BBDD9" />
<rect x="561.74" y="670.80" width="3.74" height="6.50" fill="#3671B0" />
<rect x="565.08" y="670.80" width="3.74" height="6.50" fill="#8BBDD9" />
<rect x="568.42" y="670.80" width="3.74" height="6.50" fill="#4B8FC2" />
<rect x="571.76" y="670.80" width="3.74" height="6.50" fill="#3671B0" />
<rect x="575.10" y="670.80" width="3.74" height="6.50" fill="#3671B0" />
<rect x="578.44" y="670.80" width="3.74" height="6.50" fill="#2B5B9A" />
<rect x="581.78" y="670.80" width="3.74" height="6.50" fill="#2B5B9A" />
<rect x="585.12" y="670.80" width="3.74" height="6.50" fill="#243763" />
<rect x="588.46" y="670.80" width="3.74" height="6.50" fill="#243763" />
<rect x="591.80" y="670.80" width="3.74" height="6.50" fill="#243763" />
<rect x="595.14" y="670.80" width="3.74" height="6.50" fill="#2B5B9A" />
<rect x="525.00" y="676.90" width="3.74" height="6.50" fill="#4B8FC2" />
<rect x="528.34" y="676.90" width="3.74" height="6.50" fill="#C8DEEB" />
<rect x="531.68" y="676.90" width="3.74" height="6.50" fill="#4B8FC2" />
<rect x="535.02" y="676.90" width="3.74" height="6.50" fill="#78182A" />
<rect x="538.36" y="676.90" width="3.74" height="6.50" fill="#4B8FC2" />
<rect x="541.70" y="676.90" width="3.74" height="6.50" fill="#4B8FC2" />
<rect x="545.04" y="676.90" width="3.74" height="6.50" fill="#78182A" />
<rect x="548.38" y="676.90" width="3.74" height="6.50" fill="#3671B0" />
<rect x="551.72" y="676.90" width="3.74" height="6.50" fill="#EC9A7E" />
<rect x="555.06" y="676.90" width="3.74" height="6.50" fill="#C8DEEB" />
<rect x="558.40" y="676.90" width="3.74" height="6.50" fill="#EC9A7E" />
<rect x="561.74" y="676.90" width="3.74" height="6.50" fill="#8BBDD9" />
<rect x="565.08" y="676.90" width="3.74" height="6.50" fill="#C8DEEB" />
<rect x="568.42" y="676.90" width="3.74" height="6.50" fill="#EC9A7E" />
<rect x="571.76" y="676.90" width="3.74" height="6.50" fill="#C8DEEB" />
<rect x="575.10" y="676.90" width="3.74" height="6.50" fill="#8BBDD9" />
<rect x="578.44" y="676.90" width="3.74" height="6.50" fill="#C8DEEB" />
<rect x="581.78" y="676.90" width="3.74" height="6.50" fill="#4B8FC2" />
<rect x="585.12" y="676.90" width="3.74" height="6.50" fill="#3671B0" />
<rect x="588.46" y="676.90" width="3.74" height="6.50" fill="#8BBDD9" />
<rect x="591.80" y="676.90" width="3.74" height="6.50" fill="#4B8FC2" />
<rect x="595.14" y="676.90" width="3.74" height="6.50" fill="#8BBDD9" />
<rect x="525.00" y="683.00" width="3.74" height="6.50" fill="#C8DEEB" />
<rect x="528.34" y="683.00" width="3.74" height="6.50" fill="#EC9A7E" />
<rect x="531.68" y="683.00" width="3.74" height="6.50" fill="#3671B0" />
<rect x="535.02" y="683.00" width="3.74" height="6.50" fill="#F8CDB8" />
<rect x="538.36" y="683.00" width="3.74" height="6.50" fill="#C44A45" />
<rect x="541.70" y="683.00" width="3.74" height="6.50" fill="#C8DEEB" />
<rect x="545.04" y="683.00" width="3.74" height="6.50" fill="#C44A45" />
<rect x="548.38" y="683.00" width="3.74" height="6.50" fill="#243763" />
<rect x="551.72" y="683.00" width="3.74" height="6.50" fill="#4B8FC2" />
<rect x="555.06" y="683.00" width="3.74" height="6.50" fill="#78182A" />
<rect x="558.40" y="683.00" width="3.74" height="6.50" fill="#F8CDB8" />
<rect x="561.74" y="683.00" width="3.74" height="6.50" fill="#F8CDB8" />
<rect x="565.08" y="683.00" width="3.74" height="6.50" fill="#C8DEEB" />
<rect x="568.42" y="683.00" width="3.74" height="6.50" fill="#C44A45" />
<rect x="571.76" y="683.00" width="3.74" height="6.50" fill="#EC9A7E" />
<rect x="575.10" y="683.00" width="3.74" height="6.50" fill="#EC9A7E" />
<rect x="578.44" y="683.00" width="3.74" height="6.50" fill="#3671B0" />
<rect x="581.78" y="683.00" width="3.74" height="6.50" fill="#C8DEEB" />
<rect x="585.12" y="683.00" width="3.74" height="6.50" fill="#F8CDB8" />
<rect x="588.46" y="683.00" width="3.74" height="6.50" fill="#8BBDD9" />
<rect x="591.80" y="683.00" width="3.74" height="6.50" fill="#8BBDD9" />
<rect x="595.14" y="683.00" width="3.74" height="6.50" fill="#C8DEEB" />
<rect x="525.00" y="689.10" width="3.74" height="6.50" fill="#EC9A7E" />
<rect x="528.34" y="689.10" width="3.74" height="6.50" fill="#EC9A7E" />
<rect x="531.68" y="689.10" width="3.74" height="6.50" fill="#243763" />
<rect x="535.02" y="689.10" width="3.74" height="6.50" fill="#78182A" />
<rect x="538.36" y="689.10" width="3.74" height="6.50" fill="#EC9A7E" />
<rect x="541.70" y="689.10" width="3.74" height="6.50" fill="#3671B0" />
<rect x="545.04" y="689.10" width="3.74" height="6.50" fill="#C44A45" />
<rect x="548.38" y="689.10" width="3.74" height="6.50" fill="#8BBDD9" />
<rect x="551.72" y="689.10" width="3.74" height="6.50" fill="#3671B0" />
<rect x="555.06" y="689.10" width="3.74" height="6.50" fill="#EC9A7E" />
<rect x="558.40" y="689.10" width="3.74" height="6.50" fill="#EC9A7E" />
<rect x="561.74" y="689.10" width="3.74" height="6.50" fill="#78182A" />
<rect x="565.08" y="689.10" width="3.74" height="6.50" fill="#EC9A7E" />
<rect x="568.42" y="689.10" width="3.74" height="6.50" fill="#EC9A7E" />
<rect x="571.76" y="689.10" width="3.74" height="6.50" fill="#78182A" />
<rect x="575.10" y="689.10" width="3.74" height="6.50" fill="#C8DEEB" />
<rect x="578.44" y="689.10" width="3.74" height="6.50" fill="#8BBDD9" />
<rect x="581.78" y="689.10" width="3.74" height="6.50" fill="#8BBDD9" />
<rect x="585.12" y="689.10" width="3.74" height="6.50" fill="#F3EEEC" />
<rect x="588.46" y="689.10" width="3.74" height="6.50" fill="#F8CDB8" />
<rect x="591.80" y="689.10" width="3.74" height="6.50" fill="#C8DEEB" />
<rect x="595.14" y="689.10" width="3.74" height="6.50" fill="#EC9A7E" />
<rect x="525.00" y="695.20" width="3.74" height="6.50" fill="#78182A" />
<rect x="528.34" y="695.20" width="3.74" height="6.50" fill="#C44A45" />
<rect x="531.68" y="695.20" width="3.74" height="6.50" fill="#C8DEEB" />
<rect x="535.02" y="695.20" width="3.74" height="6.50" fill="#8BBDD9" />
<rect x="538.36" y="695.20" width="3.74" height="6.50" fill="#EC9A7E" />
<rect x="541.70" y="695.20" width="3.74" height="6.50" fill="#F8CDB8" />
<rect x="545.04" y="695.20" width="3.74" height="6.50" fill="#F3EEEC" />
<rect x="548.38" y="695.20" width="3.74" height="6.50" fill="#4B8FC2" />
<rect x="551.72" y="695.20" width="3.74" height="6.50" fill="#EC9A7E" />
<rect x="555.06" y="695.20" width="3.74" height="6.50" fill="#EC9A7E" />
<rect x="558.40" y="695.20" width="3.74" height="6.50" fill="#EC9A7E" />
<rect x="561.74" y="695.20" width="3.74" height="6.50" fill="#F8CDB8" />
<rect x="565.08" y="695.20" width="3.74" height="6.50" fill="#F8CDB8" />
<rect x="568.42" y="695.20" width="3.74" height="6.50" fill="#C8DEEB" />
<rect x="571.76" y="695.20" width="3.74" height="6.50" fill="#C44A45" />
<rect x="575.10" y="695.20" width="3.74" height="6.50" fill="#3671B0" />
<rect x="578.44" y="695.20" width="3.74" height="6.50" fill="#F8CDB8" />
<rect x="581.78" y="695.20" width="3.74" height="6.50" fill="#C8DEEB" />
<rect x="585.12" y="695.20" width="3.74" height="6.50" fill="#3671B0" />
<rect x="588.46" y="695.20" width="3.74" height="6.50" fill="#8BBDD9" />
<rect x="591.80" y="695.20" width="3.74" height="6.50" fill="#243763" />
<rect x="595.14" y="695.20" width="3.74" height="6.50" fill="#8BBDD9" />
<rect x="525.00" y="701.30" width="3.74" height="6.50" fill="#3671B0" />
<rect x="528.34" y="701.30" width="3.74" height="6.50" fill="#F3EEEC" />
<rect x="531.68" y="701.30" width="3.74" height="6.50" fill="#2B5B9A" />
<rect x="535.02" y="701.30" width="3.74" height="6.50" fill="#3671B0" />
<rect x="538.36" y="701.30" width="3.74" height="6.50" fill="#F3EEEC" />
<rect x="541.70" y="701.30" width="3.74" height="6.50" fill="#4B8FC2" />
<rect x="545.04" y="701.30" width="3.74" height="6.50" fill="#EC9A7E" />
<rect x="548.38" y="701.30" width="3.74" height="6.50" fill="#C8DEEB" />
<rect x="551.72" y="701.30" width="3.74" height="6.50" fill="#F8CDB8" />
<rect x="555.06" y="701.30" width="3.74" height="6.50" fill="#3671B0" />
<rect x="558.40" y="701.30" width="3.74" height="6.50" fill="#3671B0" />
<rect x="561.74" y="701.30" width="3.74" height="6.50" fill="#C8DEEB" />
<rect x="565.08" y="701.30" width="3.74" height="6.50" fill="#4B8FC2" />
<rect x="568.42" y="701.30" width="3.74" height="6.50" fill="#2B5B9A" />
<rect x="571.76" y="701.30" width="3.74" height="6.50" fill="#78182A" />
<rect x="575.10" y="701.30" width="3.74" height="6.50" fill="#2B5B9A" />
<rect x="578.44" y="701.30" width="3.74" height="6.50" fill="#3671B0" />
<rect x="581.78" y="701.30" width="3.74" height="6.50" fill="#8BBDD9" />
<rect x="585.12" y="701.30" width="3.74" height="6.50" fill="#2B5B9A" />
<rect x="588.46" y="701.30" width="3.74" height="6.50" fill="#2B5B9A" />
<rect x="591.80" y="701.30" width="3.74" height="6.50" fill="#2B5B9A" />
<rect x="595.14" y="701.30" width="3.74" height="6.50" fill="#3671B0" />
<rect x="525.00" y="707.40" width="3.74" height="6.50" fill="#2B5B9A" />
<rect x="528.34" y="707.40" width="3.74" height="6.50" fill="#78182A" />
<rect x="531.68" y="707.40" width="3.74" height="6.50" fill="#2B5B9A" />
<rect x="535.02" y="707.40" width="3.74" height="6.50" fill="#78182A" />
<rect x="538.36" y="707.40" width="3.74" height="6.50" fill="#243763" />
<rect x="541.70" y="707.40" width="3.74" height="6.50" fill="#243763" />
<rect x="545.04" y="707.40" width="3.74" height="6.50" fill="#F8CDB8" />
<rect x="548.38" y="707.40" width="3.74" height="6.50" fill="#243763" />
<rect x="551.72" y="707.40" width="3.74" height="6.50" fill="#243763" />
<rect x="555.06" y="707.40" width="3.74" height="6.50" fill="#243763" />
<rect x="558.40" y="707.40" width="3.74" height="6.50" fill="#243763" />
<rect x="561.74" y="707.40" width="3.74" height="6.50" fill="#243763" />
<rect x="565.08" y="707.40" width="3.74" height="6.50" fill="#243763" />
<rect x="568.42" y="707.40" width="3.74" height="6.50" fill="#243763" />
<rect x="571.76" y="707.40" width="3.74" height="6.50" fill="#243763" />
<rect x="575.10" y="707.40" width="3.74" height="6.50" fill="#243763" />
<rect x="578.44" y="707.40" width="3.74" height="6.50" fill="#243763" />
<rect x="581.78" y="707.40" width="3.74" height="6.50" fill="#243763" />
<rect x="585.12" y="707.40" width="3.74" height="6.50" fill="#243763" />
<rect x="588.46" y="707.40" width="3.74" height="6.50" fill="#243763" />
<rect x="591.80" y="707.40" width="3.74" height="6.50" fill="#243763" />
<rect x="595.14" y="707.40" width="3.74" height="6.50" fill="#243763" />
<rect x="525.00" y="713.50" width="3.74" height="6.50" fill="#C8DEEB" />
<rect x="528.34" y="713.50" width="3.74" height="6.50" fill="#C44A45" />
<rect x="531.68" y="713.50" width="3.74" height="6.50" fill="#8BBDD9" />
<rect x="535.02" y="713.50" width="3.74" height="6.50" fill="#78182A" />
<rect x="538.36" y="713.50" width="3.74" height="6.50" fill="#4B8FC2" />
<rect x="541.70" y="713.50" width="3.74" height="6.50" fill="#8BBDD9" />
<rect x="545.04" y="713.50" width="3.74" height="6.50" fill="#F8CDB8" />
<rect x="548.38" y="713.50" width="3.74" height="6.50" fill="#3671B0" />
<rect x="551.72" y="713.50" width="3.74" height="6.50" fill="#F3EEEC" />
<rect x="555.06" y="713.50" width="3.74" height="6.50" fill="#4B8FC2" />
<rect x="558.40" y="713.50" width="3.74" height="6.50" fill="#C8DEEB" />
<rect x="561.74" y="713.50" width="3.74" height="6.50" fill="#8BBDD9" />
<rect x="565.08" y="713.50" width="3.74" height="6.50" fill="#F3EEEC" />
<rect x="568.42" y="713.50" width="3.74" height="6.50" fill="#8BBDD9" />
<rect x="571.76" y="713.50" width="3.74" height="6.50" fill="#F8CDB8" />
<rect x="575.10" y="713.50" width="3.74" height="6.50" fill="#EC9A7E" />
<rect x="578.44" y="713.50" width="3.74" height="6.50" fill="#78182A" />
<rect x="581.78" y="713.50" width="3.74" height="6.50" fill="#EC9A7E" />
<rect x="585.12" y="713.50" width="3.74" height="6.50" fill="#8BBDD9" />
<rect x="588.46" y="713.50" width="3.74" height="6.50" fill="#8BBDD9" />
<rect x="591.80" y="713.50" width="3.74" height="6.50" fill="#8BBDD9" />
<rect x="595.14" y="713.50" width="3.74" height="6.50" fill="#8BBDD9" />
<rect x="525.00" y="719.60" width="3.74" height="6.50" fill="#F8CDB8" />
<rect x="528.34" y="719.60" width="3.74" height="6.50" fill="#F8CDB8" />
<rect x="531.68" y="719.60" width="3.74" height="6.50" fill="#4B8FC2" />
<rect x="535.02" y="719.60" width="3.74" height="6.50" fill="#F8CDB8" />
<rect x="538.36" y="719.60" width="3.74" height="6.50" fill="#8BBDD9" />
<rect x="541.70" y="719.60" width="3.74" height="6.50" fill="#3671B0" />
<rect x="545.04" y="719.60" width="3.74" height="6.50" fill="#78182A" />
<rect x="548.38" y="719.60" width="3.74" height="6.50" fill="#EC9A7E" />
<rect x="551.72" y="719.60" width="3.74" height="6.50" fill="#F3EEEC" />
<rect x="555.06" y="719.60" width="3.74" height="6.50" fill="#4B8FC2" />
<rect x="558.40" y="719.60" width="3.74" height="6.50" fill="#EC9A7E" />
<rect x="561.74" y="719.60" width="3.74" height="6.50" fill="#3671B0" />
<rect x="565.08" y="719.60" width="3.74" height="6.50" fill="#C8DEEB" />
<rect x="568.42" y="719.60" width="3.74" height="6.50" fill="#C8DEEB" />
<rect x="571.76" y="719.60" width="3.74" height="6.50" fill="#C8DEEB" />
<rect x="575.10" y="719.60" width="3.74" height="6.50" fill="#3671B0" />
<rect x="578.44" y="719.60" width="3.74" height="6.50" fill="#3671B0" />
<rect x="581.78" y="719.60" width="3.74" height="6.50" fill="#8BBDD9" />
<rect x="585.12" y="719.60" width="3.74" height="6.50" fill="#3671B0" />
<rect x="588.46" y="719.60" width="3.74" height="6.50" fill="#3671B0" />
<rect x="591.80" y="719.60" width="3.74" height="6.50" fill="#3671B0" />
<rect x="595.14" y="719.60" width="3.74" height="6.50" fill="#8BBDD9" />
<rect x="525.00" y="725.70" width="3.74" height="6.50" fill="#C44A45" />
<rect x="528.34" y="725.70" width="3.74" height="6.50" fill="#EC9A7E" />
<rect x="531.68" y="725.70" width="3.74" height="6.50" fill="#8BBDD9" />
<rect x="535.02" y="725.70" width="3.74" height="6.50" fill="#C44A45" />
<rect x="538.36" y="725.70" width="3.74" height="6.50" fill="#C44A45" />
<rect x="541.70" y="725.70" width="3.74" height="6.50" fill="#8BBDD9" />
<rect x="545.04" y="725.70" width="3.74" height="6.50" fill="#C44A45" />
<rect x="548.38" y="725.70" width="3.74" height="6.50" fill="#EC9A7E" />
<rect x="551.72" y="725.70" width="3.74" height="6.50" fill="#EC9A7E" />
<rect x="555.06" y="725.70" width="3.74" height="6.50" fill="#F8CDB8" />
<rect x="558.40" y="725.70" width="3.74" height="6.50" fill="#EC9A7E" />
<rect x="561.74" y="725.70" width="3.74" height="6.50" fill="#78182A" />
<rect x="565.08" y="725.70" width="3.74" height="6.50" fill="#EC9A7E" />
<rect x="568.42" y="725.70" width="3.74" height="6.50" fill="#EC9A7E" />
<rect x="571.76" y="725.70" width="3.74" height="6.50" fill="#EC9A7E" />
<rect x="575.10" y="725.70" width="3.74" height="6.50" fill="#C8DEEB" />
<rect x="578.44" y="725.70" width="3.74" height="6.50" fill="#EC9A7E" />
<rect x="581.78" y="725.70" width="3.74" height="6.50" fill="#EC9A7E" />
<rect x="585.12" y="725.70" width="3.74" height="6.50" fill="#F3EEEC" />
<rect x="588.46" y="725.70" width="3.74" height="6.50" fill="#F3EEEC" />
<rect x="591.80" y="725.70" width="3.74" height="6.50" fill="#8BBDD9" />
<rect x="595.14" y="725.70" width="3.74" height="6.50" fill="#EC9A7E" />
<rect x="524.40" y="658.20" width="74.20" height="74.00" fill="none" stroke="#111" stroke-width="1.2"/>
<rect x="380.00" y="658.60" width="10.50" height="12.50" fill="#66BE9F" />
<rect x="380.00" y="670.80" width="10.50" height="30.80" fill="#F58766" />
<rect x="380.00" y="701.30" width="10.50" height="30.50" fill="#8899C6" />
<text x="601.70" y="664.15" font-size="7.2" text-anchor="start" fill="#222" >TGFBR1</text>
<text x="601.70" y="670.25" font-size="7.2" text-anchor="start" fill="#222" >PDGFC</text>
<text x="601.70" y="676.35" font-size="7.2" text-anchor="start" fill="#222" >FASLG</text>
<text x="601.70" y="682.45" font-size="7.2" text-anchor="start" fill="#222" >TGFB3</text>
<text x="601.70" y="688.55" font-size="7.2" text-anchor="start" fill="#222" >PDGFRB</text>
<text x="601.70" y="694.65" font-size="7.2" text-anchor="start" fill="#222" >PDGFRA</text>
<text x="601.70" y="700.75" font-size="7.2" text-anchor="start" fill="#222" >TGFBR3</text>
<text x="601.70" y="706.85" font-size="7.2" text-anchor="start" fill="#222" >TNF</text>
<text x="601.70" y="712.95" font-size="7.2" text-anchor="start" fill="#222" >CSF2</text>
<text x="601.70" y="719.05" font-size="7.2" text-anchor="start" fill="#222" >CSF2RB</text>
<text x="601.70" y="725.15" font-size="7.2" text-anchor="start" fill="#222" >CSF2RA</text>
<text x="601.70" y="731.25" font-size="7.2" text-anchor="start" fill="#222" >CSF1</text>
<rect x="393.90" y="743.70" width="3.72" height="5.90" fill="#EC9A7E" />
<rect x="397.22" y="743.70" width="3.72" height="5.90" fill="#243763" />
<rect x="400.54" y="743.70" width="3.72" height="5.90" fill="#4B8FC2" />
<rect x="403.86" y="743.70" width="3.72" height="5.90" fill="#F3EEEC" />
<rect x="407.18" y="743.70" width="3.72" height="5.90" fill="#F3EEEC" />
<rect x="410.50" y="743.70" width="3.72" height="5.90" fill="#C8DEEB" />
<rect x="413.82" y="743.70" width="3.72" height="5.90" fill="#3671B0" />
<rect x="417.14" y="743.70" width="3.72" height="5.90" fill="#F8CDB8" />
<rect x="420.46" y="743.70" width="3.72" height="5.90" fill="#243763" />
<rect x="423.78" y="743.70" width="3.72" height="5.90" fill="#EC9A7E" />
<rect x="427.10" y="743.70" width="3.72" height="5.90" fill="#C44A45" />
<rect x="430.42" y="743.70" width="3.72" height="5.90" fill="#3671B0" />
<rect x="433.74" y="743.70" width="3.72" height="5.90" fill="#F8CDB8" />
<rect x="437.06" y="743.70" width="3.72" height="5.90" fill="#8BBDD9" />
<rect x="440.38" y="743.70" width="3.72" height="5.90" fill="#4B8FC2" />
<rect x="443.70" y="743.70" width="3.72" height="5.90" fill="#EC9A7E" />
<rect x="447.02" y="743.70" width="3.72" height="5.90" fill="#C44A45" />
<rect x="450.34" y="743.70" width="3.72" height="5.90" fill="#C8DEEB" />
<rect x="453.66" y="743.70" width="3.72" height="5.90" fill="#8BBDD9" />
<rect x="456.98" y="743.70" width="3.72" height="5.90" fill="#8BBDD9" />
<rect x="460.30" y="743.70" width="3.72" height="5.90" fill="#8BBDD9" />
<rect x="463.62" y="743.70" width="3.72" height="5.90" fill="#3671B0" />
<rect x="466.94" y="743.70" width="3.72" height="5.90" fill="#8BBDD9" />
<rect x="470.26" y="743.70" width="3.72" height="5.90" fill="#C8DEEB" />
<rect x="393.90" y="749.20" width="3.72" height="5.90" fill="#F8CDB8" />
<rect x="397.22" y="749.20" width="3.72" height="5.90" fill="#4B8FC2" />
<rect x="400.54" y="749.20" width="3.72" height="5.90" fill="#8BBDD9" />
<rect x="403.86" y="749.20" width="3.72" height="5.90" fill="#C8DEEB" />
<rect x="407.18" y="749.20" width="3.72" height="5.90" fill="#4B8FC2" />
<rect x="410.50" y="749.20" width="3.72" height="5.90" fill="#8BBDD9" />
<rect x="413.82" y="749.20" width="3.72" height="5.90" fill="#4B8FC2" />
<rect x="417.14" y="749.20" width="3.72" height="5.90" fill="#3671B0" />
<rect x="420.46" y="749.20" width="3.72" height="5.90" fill="#243763" />
<rect x="423.78" y="749.20" width="3.72" height="5.90" fill="#EC9A7E" />
<rect x="427.10" y="749.20" width="3.72" height="5.90" fill="#C44A45" />
<rect x="430.42" y="749.20" width="3.72" height="5.90" fill="#8BBDD9" />
<rect x="433.74" y="749.20" width="3.72" height="5.90" fill="#C8DEEB" />
<rect x="437.06" y="749.20" width="3.72" height="5.90" fill="#4B8FC2" />
<rect x="440.38" y="749.20" width="3.72" height="5.90" fill="#C44A45" />
<rect x="443.70" y="749.20" width="3.72" height="5.90" fill="#4B8FC2" />
<rect x="447.02" y="749.20" width="3.72" height="5.90" fill="#4B8FC2" />
<rect x="450.34" y="749.20" width="3.72" height="5.90" fill="#8BBDD9" />
<rect x="453.66" y="749.20" width="3.72" height="5.90" fill="#4B8FC2" />
<rect x="456.98" y="749.20" width="3.72" height="5.90" fill="#F8CDB8" />
<rect x="460.30" y="749.20" width="3.72" height="5.90" fill="#C8DEEB" />
<rect x="463.62" y="749.20" width="3.72" height="5.90" fill="#3671B0" />
<rect x="466.94" y="749.20" width="3.72" height="5.90" fill="#2B5B9A" />
<rect x="470.26" y="749.20" width="3.72" height="5.90" fill="#F3EEEC" />
<rect x="393.30" y="743.30" width="81.00" height="11.80" fill="none" stroke="#111" stroke-width="1.2"/>
<rect x="478.00" y="743.70" width="3.73" height="5.90" fill="#8BBDD9" />
<rect x="481.33" y="743.70" width="3.73" height="5.90" fill="#8BBDD9" />
<rect x="484.66" y="743.70" width="3.73" height="5.90" fill="#4B8FC2" />
<rect x="487.99" y="743.70" width="3.73" height="5.90" fill="#F3EEEC" />
<rect x="491.32" y="743.70" width="3.73" height="5.90" fill="#4B8FC2" />
<rect x="494.65" y="743.70" width="3.73" height="5.90" fill="#4B8FC2" />
<rect x="497.98" y="743.70" width="3.73" height="5.90" fill="#4B8FC2" />
<rect x="501.31" y="743.70" width="3.73" height="5.90" fill="#8BBDD9" />
<rect x="504.64" y="743.70" width="3.73" height="5.90" fill="#3671B0" />
<rect x="507.97" y="743.70" width="3.73" height="5.90" fill="#2B5B9A" />
<rect x="511.30" y="743.70" width="3.73" height="5.90" fill="#4B8FC2" />
<rect x="514.63" y="743.70" width="3.73" height="5.90" fill="#F8CDB8" />
<rect x="517.96" y="743.70" width="3.73" height="5.90" fill="#F3EEEC" />
<rect x="478.00" y="749.20" width="3.73" height="5.90" fill="#8BBDD9" />
<rect x="481.33" y="749.20" width="3.73" height="5.90" fill="#F8CDB8" />
<rect x="484.66" y="749.20" width="3.73" height="5.90" fill="#F3EEEC" />
<rect x="487.99" y="749.20" width="3.73" height="5.90" fill="#8BBDD9" />
<rect x="491.32" y="749.20" width="3.73" height="5.90" fill="#3671B0" />
<rect x="494.65" y="749.20" width="3.73" height="5.90" fill="#C8DEEB" />
<rect x="497.98" y="749.20" width="3.73" height="5.90" fill="#F8CDB8" />
<rect x="501.31" y="749.20" width="3.73" height="5.90" fill="#EC9A7E" />
<rect x="504.64" y="749.20" width="3.73" height="5.90" fill="#C44A45" />
<rect x="507.97" y="749.20" width="3.73" height="5.90" fill="#F3EEEC" />
<rect x="511.30" y="749.20" width="3.73" height="5.90" fill="#4B8FC2" />
<rect x="514.63" y="749.20" width="3.73" height="5.90" fill="#243763" />
<rect x="517.96" y="749.20" width="3.73" height="5.90" fill="#C8DEEB" />
<rect x="477.40" y="743.30" width="44.30" height="11.80" fill="none" stroke="#111" stroke-width="1.2"/>
<rect x="525.00" y="743.70" width="3.74" height="5.90" fill="#78182A" />
<rect x="528.34" y="743.70" width="3.74" height="5.90" fill="#F8CDB8" />
<rect x="531.68" y="743.70" width="3.74" height="5.90" fill="#EC9A7E" />
<rect x="535.02" y="743.70" width="3.74" height="5.90" fill="#8BBDD9" />
<rect x="538.36" y="743.70" width="3.74" height="5.90" fill="#4B8FC2" />
<rect x="541.70" y="743.70" width="3.74" height="5.90" fill="#4B8FC2" />
<rect x="545.04" y="743.70" width="3.74" height="5.90" fill="#EC9A7E" />
<rect x="548.38" y="743.70" width="3.74" height="5.90" fill="#4B8FC2" />
<rect x="551.72" y="743.70" width="3.74" height="5.90" fill="#3671B0" />
<rect x="555.06" y="743.70" width="3.74" height="5.90" fill="#3671B0" />
<rect x="558.40" y="743.70" width="3.74" height="5.90" fill="#8BBDD9" />
<rect x="561.74" y="743.70" width="3.74" height="5.90" fill="#78182A" />
<rect x="565.08" y="743.70" width="3.74" height="5.90" fill="#F8CDB8" />
<rect x="568.42" y="743.70" width="3.74" height="5.90" fill="#C44A45" />
<rect x="571.76" y="743.70" width="3.74" height="5.90" fill="#C8DEEB" />
<rect x="575.10" y="743.70" width="3.74" height="5.90" fill="#F3EEEC" />
<rect x="578.44" y="743.70" width="3.74" height="5.90" fill="#EC9A7E" />
<rect x="581.78" y="743.70" width="3.74" height="5.90" fill="#F8CDB8" />
<rect x="585.12" y="743.70" width="3.74" height="5.90" fill="#C44A45" />
<rect x="588.46" y="743.70" width="3.74" height="5.90" fill="#78182A" />
<rect x="591.80" y="743.70" width="3.74" height="5.90" fill="#EC9A7E" />
<rect x="595.14" y="743.70" width="3.74" height="5.90" fill="#4B8FC2" />
<rect x="525.00" y="749.20" width="3.74" height="5.90" fill="#F8CDB8" />
<rect x="528.34" y="749.20" width="3.74" height="5.90" fill="#EC9A7E" />
<rect x="531.68" y="749.20" width="3.74" height="5.90" fill="#3671B0" />
<rect x="535.02" y="749.20" width="3.74" height="5.90" fill="#F8CDB8" />
<rect x="538.36" y="749.20" width="3.74" height="5.90" fill="#EC9A7E" />
<rect x="541.70" y="749.20" width="3.74" height="5.90" fill="#C44A45" />
<rect x="545.04" y="749.20" width="3.74" height="5.90" fill="#C8DEEB" />
<rect x="548.38" y="749.20" width="3.74" height="5.90" fill="#C8DEEB" />
<rect x="551.72" y="749.20" width="3.74" height="5.90" fill="#F8CDB8" />
<rect x="555.06" y="749.20" width="3.74" height="5.90" fill="#EC9A7E" />
<rect x="558.40" y="749.20" width="3.74" height="5.90" fill="#8BBDD9" />
<rect x="561.74" y="749.20" width="3.74" height="5.90" fill="#8BBDD9" />
<rect x="565.08" y="749.20" width="3.74" height="5.90" fill="#8BBDD9" />
<rect x="568.42" y="749.20" width="3.74" height="5.90" fill="#F8CDB8" />
<rect x="571.76" y="749.20" width="3.74" height="5.90" fill="#8BBDD9" />
<rect x="575.10" y="749.20" width="3.74" height="5.90" fill="#8BBDD9" />
<rect x="578.44" y="749.20" width="3.74" height="5.90" fill="#EC9A7E" />
<rect x="581.78" y="749.20" width="3.74" height="5.90" fill="#78182A" />
<rect x="585.12" y="749.20" width="3.74" height="5.90" fill="#C44A45" />
<rect x="588.46" y="749.20" width="3.74" height="5.90" fill="#F8CDB8" />
<rect x="591.80" y="749.20" width="3.74" height="5.90" fill="#8BBDD9" />
<rect x="595.14" y="749.20" width="3.74" height="5.90" fill="#78182A" />
<rect x="524.40" y="743.30" width="74.20" height="11.80" fill="none" stroke="#111" stroke-width="1.2"/>
<rect x="380.00" y="743.70" width="10.50" height="11.00" fill="#8899C6" />
<text x="601.70" y="747.40" font-size="7.2" text-anchor="start" fill="#222" >IL18</text>
<text x="601.70" y="754.40" font-size="7.2" text-anchor="start" fill="#222" >IL16</text>
<rect x="393.90" y="757.70" width="3.72" height="5.90" fill="#8BBDD9" />
<rect x="397.22" y="757.70" width="3.72" height="5.90" fill="#243763" />
<rect x="400.54" y="757.70" width="3.72" height="5.90" fill="#F3EEEC" />
<rect x="403.86" y="757.70" width="3.72" height="5.90" fill="#4B8FC2" />
<rect x="407.18" y="757.70" width="3.72" height="5.90" fill="#F8CDB8" />
<rect x="410.50" y="757.70" width="3.72" height="5.90" fill="#F3EEEC" />
<rect x="413.82" y="757.70" width="3.72" height="5.90" fill="#8BBDD9" />
<rect x="417.14" y="757.70" width="3.72" height="5.90" fill="#8BBDD9" />
<rect x="420.46" y="757.70" width="3.72" height="5.90" fill="#8BBDD9" />
<rect x="423.78" y="757.70" width="3.72" height="5.90" fill="#C8DEEB" />
<rect x="427.10" y="757.70" width="3.72" height="5.90" fill="#8BBDD9" />
<rect x="430.42" y="757.70" width="3.72" height="5.90" fill="#8BBDD9" />
<rect x="433.74" y="757.70" width="3.72" height="5.90" fill="#C8DEEB" />
<rect x="437.06" y="757.70" width="3.72" height="5.90" fill="#8BBDD9" />
<rect x="440.38" y="757.70" width="3.72" height="5.90" fill="#8BBDD9" />
<rect x="443.70" y="757.70" width="3.72" height="5.90" fill="#C8DEEB" />
<rect x="447.02" y="757.70" width="3.72" height="5.90" fill="#243763" />
<rect x="450.34" y="757.70" width="3.72" height="5.90" fill="#F8CDB8" />
<rect x="453.66" y="757.70" width="3.72" height="5.90" fill="#F8CDB8" />
<rect x="456.98" y="757.70" width="3.72" height="5.90" fill="#8BBDD9" />
<rect x="460.30" y="757.70" width="3.72" height="5.90" fill="#8BBDD9" />
<rect x="463.62" y="757.70" width="3.72" height="5.90" fill="#EC9A7E" />
<rect x="466.94" y="757.70" width="3.72" height="5.90" fill="#8BBDD9" />
<rect x="470.26" y="757.70" width="3.72" height="5.90" fill="#F8CDB8" />
<rect x="393.90" y="763.20" width="3.72" height="5.90" fill="#F8CDB8" />
<rect x="397.22" y="763.20" width="3.72" height="5.90" fill="#3671B0" />
<rect x="400.54" y="763.20" width="3.72" height="5.90" fill="#3671B0" />
<rect x="403.86" y="763.20" width="3.72" height="5.90" fill="#F8CDB8" />
<rect x="407.18" y="763.20" width="3.72" height="5.90" fill="#3671B0" />
<rect x="410.50" y="763.20" width="3.72" height="5.90" fill="#3671B0" />
<rect x="413.82" y="763.20" width="3.72" height="5.90" fill="#4B8FC2" />
<rect x="417.14" y="763.20" width="3.72" height="5.90" fill="#8BBDD9" />
<rect x="420.46" y="763.20" width="3.72" height="5.90" fill="#4B8FC2" />
<rect x="423.78" y="763.20" width="3.72" height="5.90" fill="#4B8FC2" />
<rect x="427.10" y="763.20" width="3.72" height="5.90" fill="#8BBDD9" />
<rect x="430.42" y="763.20" width="3.72" height="5.90" fill="#243763" />
<rect x="433.74" y="763.20" width="3.72" height="5.90" fill="#C8DEEB" />
<rect x="437.06" y="763.20" width="3.72" height="5.90" fill="#F8CDB8" />
<rect x="440.38" y="763.20" width="3.72" height="5.90" fill="#C8DEEB" />
<rect x="443.70" y="763.20" width="3.72" height="5.90" fill="#4B8FC2" />
<rect x="447.02" y="763.20" width="3.72" height="5.90" fill="#3671B0" />
<rect x="450.34" y="763.20" width="3.72" height="5.90" fill="#8BBDD9" />
<rect x="453.66" y="763.20" width="3.72" height="5.90" fill="#C8DEEB" />
<rect x="456.98" y="763.20" width="3.72" height="5.90" fill="#F3EEEC" />
<rect x="460.30" y="763.20" width="3.72" height="5.90" fill="#F8CDB8" />
<rect x="463.62" y="763.20" width="3.72" height="5.90" fill="#8BBDD9" />
<rect x="466.94" y="763.20" width="3.72" height="5.90" fill="#4B8FC2" />
<rect x="470.26" y="763.20" width="3.72" height="5.90" fill="#F8CDB8" />
<rect x="393.30" y="757.30" width="81.00" height="11.80" fill="none" stroke="#111" stroke-width="1.2"/>
<rect x="478.00" y="757.70" width="3.73" height="5.90" fill="#EC9A7E" />
<rect x="481.33" y="757.70" width="3.73" height="5.90" fill="#8BBDD9" />
<rect x="484.66" y="757.70" width="3.73" height="5.90" fill="#C44A45" />
<rect x="487.99" y="757.70" width="3.73" height="5.90" fill="#C44A45" />
<rect x="491.32" y="757.70" width="3.73" height="5.90" fill="#F8CDB8" />
<rect x="494.65" y="757.70" width="3.73" height="5.90" fill="#C8DEEB" />
<rect x="497.98" y="757.70" width="3.73" height="5.90" fill="#8BBDD9" />
<rect x="501.31" y="757.70" width="3.73" height="5.90" fill="#C44A45" />
<rect x="504.64" y="757.70" width="3.73" height="5.90" fill="#C44A45" />
<rect x="507.97" y="757.70" width="3.73" height="5.90" fill="#C44A45" />
<rect x="511.30" y="757.70" width="3.73" height="5.90" fill="#8BBDD9" />
<rect x="514.63" y="757.70" width="3.73" height="5.90" fill="#8BBDD9" />
<rect x="517.96" y="757.70" width="3.73" height="5.90" fill="#3671B0" />
<rect x="478.00" y="763.20" width="3.73" height="5.90" fill="#3671B0" />
<rect x="481.33" y="763.20" width="3.73" height="5.90" fill="#3671B0" />
<rect x="484.66" y="763.20" width="3.73" height="5.90" fill="#EC9A7E" />
<rect x="487.99" y="763.20" width="3.73" height="5.90" fill="#4B8FC2" />
<rect x="491.32" y="763.20" width="3.73" height="5.90" fill="#8BBDD9" />
<rect x="494.65" y="763.20" width="3.73" height="5.90" fill="#2B5B9A" />
<rect x="497.98" y="763.20" width="3.73" height="5.90" fill="#3671B0" />
<rect x="501.31" y="763.20" width="3.73" height="5.90" fill="#C44A45" />
<rect x="504.64" y="763.20" width="3.73" height="5.90" fill="#2B5B9A" />
<rect x="507.97" y="763.20" width="3.73" height="5.90" fill="#C8DEEB" />
<rect x="511.30" y="763.20" width="3.73" height="5.90" fill="#2B5B9A" />
<rect x="514.63" y="763.20" width="3.73" height="5.90" fill="#F8CDB8" />
<rect x="517.96" y="763.20" width="3.73" height="5.90" fill="#4B8FC2" />
<rect x="477.40" y="757.30" width="44.30" height="11.80" fill="none" stroke="#111" stroke-width="1.2"/>
<rect x="525.00" y="757.70" width="3.74" height="5.90" fill="#8BBDD9" />
<rect x="528.34" y="757.70" width="3.74" height="5.90" fill="#C8DEEB" />
<rect x="531.68" y="757.70" width="3.74" height="5.90" fill="#8BBDD9" />
<rect x="535.02" y="757.70" width="3.74" height="5.90" fill="#EC9A7E" />
<rect x="538.36" y="757.70" width="3.74" height="5.90" fill="#F3EEEC" />
<rect x="541.70" y="757.70" width="3.74" height="5.90" fill="#78182A" />
<rect x="545.04" y="757.70" width="3.74" height="5.90" fill="#C8DEEB" />
<rect x="548.38" y="757.70" width="3.74" height="5.90" fill="#C8DEEB" />
<rect x="551.72" y="757.70" width="3.74" height="5.90" fill="#C8DEEB" />
<rect x="555.06" y="757.70" width="3.74" height="5.90" fill="#8BBDD9" />
<rect x="558.40" y="757.70" width="3.74" height="5.90" fill="#8BBDD9" />
<rect x="561.74" y="757.70" width="3.74" height="5.90" fill="#4B8FC2" />
<rect x="565.08" y="757.70" width="3.74" height="5.90" fill="#243763" />
<rect x="568.42" y="757.70" width="3.74" height="5.90" fill="#C8DEEB" />
<rect x="571.76" y="757.70" width="3.74" height="5.90" fill="#C8DEEB" />
<rect x="575.10" y="757.70" width="3.74" height="5.90" fill="#C8DEEB" />
<rect x="578.44" y="757.70" width="3.74" height="5.90" fill="#4B8FC2" />
<rect x="581.78" y="757.70" width="3.74" height="5.90" fill="#F3EEEC" />
<rect x="585.12" y="757.70" width="3.74" height="5.90" fill="#78182A" />
<rect x="588.46" y="757.70" width="3.74" height="5.90" fill="#C8DEEB" />
<rect x="591.80" y="757.70" width="3.74" height="5.90" fill="#C8DEEB" />
<rect x="595.14" y="757.70" width="3.74" height="5.90" fill="#F8CDB8" />
<rect x="525.00" y="763.20" width="3.74" height="5.90" fill="#4B8FC2" />
<rect x="528.34" y="763.20" width="3.74" height="5.90" fill="#8BBDD9" />
<rect x="531.68" y="763.20" width="3.74" height="5.90" fill="#F8CDB8" />
<rect x="535.02" y="763.20" width="3.74" height="5.90" fill="#C8DEEB" />
<rect x="538.36" y="763.20" width="3.74" height="5.90" fill="#C8DEEB" />
<rect x="541.70" y="763.20" width="3.74" height="5.90" fill="#EC9A7E" />
<rect x="545.04" y="763.20" width="3.74" height="5.90" fill="#F8CDB8" />
<rect x="548.38" y="763.20" width="3.74" height="5.90" fill="#243763" />
<rect x="551.72" y="763.20" width="3.74" height="5.90" fill="#2B5B9A" />
<rect x="555.06" y="763.20" width="3.74" height="5.90" fill="#C44A45" />
<rect x="558.40" y="763.20" width="3.74" height="5.90" fill="#F8CDB8" />
<rect x="561.74" y="763.20" width="3.74" height="5.90" fill="#C8DEEB" />
<rect x="565.08" y="763.20" width="3.74" height="5.90" fill="#8BBDD9" />
<rect x="568.42" y="763.20" width="3.74" height="5.90" fill="#F8CDB8" />
<rect x="571.76" y="763.20" width="3.74" height="5.90" fill="#F8CDB8" />
<rect x="575.10" y="763.20" width="3.74" height="5.90" fill="#4B8FC2" />
<rect x="578.44" y="763.20" width="3.74" height="5.90" fill="#4B8FC2" />
<rect x="581.78" y="763.20" width="3.74" height="5.90" fill="#4B8FC2" />
<rect x="585.12" y="763.20" width="3.74" height="5.90" fill="#EC9A7E" />
<rect x="588.46" y="763.20" width="3.74" height="5.90" fill="#78182A" />
<rect x="591.80" y="763.20" width="3.74" height="5.90" fill="#8BBDD9" />
<rect x="595.14" y="763.20" width="3.74" height="5.90" fill="#EC9A7E" />
<rect x="524.40" y="757.30" width="74.20" height="11.80" fill="none" stroke="#111" stroke-width="1.2"/>
<rect x="380.00" y="757.70" width="10.50" height="5.80" fill="#F58766" />
<rect x="380.00" y="763.20" width="10.50" height="5.50" fill="#8899C6" />
<text x="601.70" y="763.20" font-size="7.2" text-anchor="start" fill="#222" >TGFB3</text>
<text x="601.70" y="770.00" font-size="7.2" text-anchor="start" fill="#222" >PDGFRB</text>
<text x="365.30" y="438.60" font-size="8.6" text-anchor="end" fill="#222" >Chemokines</text>
<text x="367.10" y="448.70" font-size="8.6" text-anchor="end" fill="#222" >&amp; receptors</text>
<text x="367.30" y="497.30" font-size="8.6" text-anchor="end" fill="#222" >Interferons</text>
<text x="367.30" y="507.60" font-size="8.6" text-anchor="end" fill="#222" >&amp; receptors</text>
<text x="367.30" y="574.70" font-size="8.6" text-anchor="end" fill="#222" >Interleukines</text>
<text x="367.30" y="585.00" font-size="8.6" text-anchor="end" fill="#222" >&amp; receptors</text>
<text x="373.20" y="695.40" font-size="8.6" text-anchor="end" fill="#222" >Other cytokines</text>
<text x="373.10" y="745.90" font-size="8.6" text-anchor="end" fill="#222" >Interleukines</text>
<text x="373.10" y="754.60" font-size="8.6" text-anchor="end" fill="#222" >&amp;receptors</text>
<text x="373.10" y="770.10" font-size="8.6" text-anchor="end" fill="#222" >Other cytokines</text>
<line x1="641.10" y1="393.00" x2="641.10" y2="730.50" stroke="#AAAAAA" stroke-width="1.6" />
<line x1="641.10" y1="742.20" x2="641.10" y2="770.50" stroke="#AAAAAA" stroke-width="1.6" />
<rect x="639.80" y="594.70" width="2.60" height="0.80" fill="#fff" />
<rect x="639.80" y="605.10" width="2.60" height="0.80" fill="#fff" />
<rect x="639.80" y="615.10" width="2.60" height="0.80" fill="#fff" />
<rect x="639.80" y="625.20" width="2.60" height="0.80" fill="#fff" />
<rect x="639.80" y="635.10" width="2.60" height="0.80" fill="#fff" />
<text x="645.20" y="553.40" font-size="12.8" text-anchor="start" fill="#111" >RNA</text>
<text x="645.50" y="755.40" font-size="12.8" text-anchor="start" fill="#111" >Protein</text>
<text x="345.00" y="791.60" font-size="11.3" text-anchor="start" fill="#222" >Highly expressed</text>
<text x="345.00" y="805.00" font-size="11.3" text-anchor="start" fill="#222" >in subgroup</text>
<rect x="437.60" y="782.80" width="13.40" height="12.90" fill="#3B9A78" />
<rect x="452.60" y="782.80" width="12.80" height="12.90" fill="#D2692F" />
<rect x="466.80" y="782.80" width="12.90" height="12.90" fill="#7470AE" />
<text x="443.60" y="808.30" font-size="11" text-anchor="middle" fill="#222" >S1</text>
<text x="458.60" y="808.30" font-size="11" text-anchor="middle" fill="#222" >S2</text>
<text x="473.40" y="808.30" font-size="11" text-anchor="middle" fill="#222" >S3</text>
<text x="508.20" y="788.80" font-size="11.3" text-anchor="start" fill="#222" >RNA/protein</text>
<text x="508.20" y="802.80" font-size="11.3" text-anchor="start" fill="#222" >abundance</text>
<defs><linearGradient id="gd" x1="0" x2="1" y1="0" y2="0"><stop offset="0" stop-color="#213461"/><stop offset="0.22" stop-color="#243A68"/><stop offset="0.28" stop-color="#3068A8"/><stop offset="0.38" stop-color="#6FA8D0"/><stop offset="0.5" stop-color="#F3F1EF"/><stop offset="0.6" stop-color="#F4BBA0"/><stop offset="0.68" stop-color="#D9705E"/><stop offset="0.74" stop-color="#B83A3E"/><stop offset="0.84" stop-color="#7A1A2B"/><stop offset="1" stop-color="#661222"/></linearGradient><linearGradient id="ge" x1="0" x2="1" y1="0" y2="0"><stop offset="0" stop-color="#213461"/><stop offset="0.1" stop-color="#26427A"/><stop offset="0.26" stop-color="#3A77B4"/><stop offset="0.4" stop-color="#A3CBE1"/><stop offset="0.5" stop-color="#F4F2F0"/><stop offset="0.62" stop-color="#F3B59B"/><stop offset="0.78" stop-color="#C5463F"/><stop offset="0.92" stop-color="#7E1A2B"/><stop offset="1" stop-color="#661222"/></linearGradient></defs>
<rect x="575.30" y="780.80" width="69.40" height="14.10" fill="url(#gd)" />
<line x1="577.90" y1="780.80" x2="577.90" y2="783.30" stroke="#fff" stroke-width="1.0" />
<line x1="577.90" y1="792.40" x2="577.90" y2="794.90" stroke="#fff" stroke-width="1.0" />
<line x1="594.20" y1="780.80" x2="594.20" y2="783.30" stroke="#fff" stroke-width="1.0" />
<line x1="594.20" y1="792.40" x2="594.20" y2="794.90" stroke="#fff" stroke-width="1.0" />
<line x1="610.30" y1="780.80" x2="610.30" y2="783.30" stroke="#fff" stroke-width="1.0" />
<line x1="610.30" y1="792.40" x2="610.30" y2="794.90" stroke="#fff" stroke-width="1.0" />
<line x1="626.00" y1="780.80" x2="626.00" y2="783.30" stroke="#fff" stroke-width="1.0" />
<line x1="626.00" y1="792.40" x2="626.00" y2="794.90" stroke="#fff" stroke-width="1.0" />
<line x1="642.40" y1="780.80" x2="642.40" y2="783.30" stroke="#fff" stroke-width="1.0" />
<line x1="642.40" y1="792.40" x2="642.40" y2="794.90" stroke="#fff" stroke-width="1.0" />
<text x="578.30" y="810.20" font-size="11" text-anchor="middle" fill="#222" >-4</text>
<text x="594.60" y="810.20" font-size="11" text-anchor="middle" fill="#222" >-2</text>
<text x="611.00" y="810.20" font-size="11" text-anchor="middle" fill="#222" >0</text>
<text x="626.10" y="810.20" font-size="11" text-anchor="middle" fill="#222" >2</text>
<text x="641.80" y="810.20" font-size="11" text-anchor="middle" fill="#222" >4</text>
<text x="0.20" y="623.70" font-size="15.5" text-anchor="start" fill="#222" >e</text>
<line x1="25.90" y1="621.90" x2="207.30" y2="621.90" stroke="#999" stroke-width="1.2" />
<line x1="213.90" y1="621.90" x2="263.90" y2="621.90" stroke="#999" stroke-width="1.2" />
<text x="116.90" y="617.20" font-size="10.5" text-anchor="middle" fill="#222" >RNA</text>
<text x="235.60" y="617.20" font-size="10.5" text-anchor="middle" fill="#222" >Protein</text>
<rect x="24.50" y="649.10" width="12.38" height="18.35" fill="#8DBDD8" />
<rect x="24.50" y="667.20" width="12.38" height="18.35" fill="#F5E6E0" />
<rect x="24.50" y="685.30" width="12.38" height="18.35" fill="#F2AC90" />
<text transform="translate(34.87,706.80) rotate(-90)" font-size="9.8" text-anchor="end" fill="#222">CTLA4</text>
<text transform="translate(34.97,646.00) rotate(-90)" font-size="11.4" text-anchor="start" fill="#111">NS</text>
<rect x="36.63" y="649.10" width="12.38" height="18.35" fill="#C2DCE8" />
<rect x="36.63" y="667.20" width="12.38" height="18.35" fill="#8DBDD8" />
<rect x="36.63" y="685.30" width="12.38" height="18.35" fill="#E8917A" />
<text transform="translate(47.00,706.80) rotate(-90)" font-size="9.8" text-anchor="end" fill="#222">TIGIT</text>
<text transform="translate(47.10,645.80) rotate(-90)" font-size="11.4" letter-spacing="0.55" fill="#111">*</text>
<rect x="48.77" y="649.10" width="12.38" height="18.35" fill="#7AB2D2" />
<rect x="48.77" y="667.20" width="12.38" height="18.35" fill="#CFE3EE" />
<rect x="48.77" y="685.30" width="12.38" height="18.35" fill="#D8695C" />
<text transform="translate(59.13,706.80) rotate(-90)" font-size="9.8" text-anchor="end" fill="#222">BTLA</text>
<text transform="translate(59.23,645.80) rotate(-90)" font-size="11.4" letter-spacing="0.55" fill="#111">**</text>
<rect x="60.90" y="649.10" width="12.38" height="18.35" fill="#8DBDD8" />
<rect x="60.90" y="667.20" width="12.38" height="18.35" fill="#BCD8E7" />
<rect x="60.90" y="685.30" width="12.38" height="18.35" fill="#D96F60" />
<text transform="translate(71.27,706.80) rotate(-90)" font-size="9.8" text-anchor="end" fill="#222">CD48</text>
<text transform="translate(71.37,645.80) rotate(-90)" font-size="11.4" letter-spacing="0.55" fill="#111">**</text>
<rect x="73.03" y="649.10" width="12.38" height="18.35" fill="#B3D4E5" />
<rect x="73.03" y="667.20" width="12.38" height="18.35" fill="#A5CCE1" />
<rect x="73.03" y="685.30" width="12.38" height="18.35" fill="#E8917A" />
<text transform="translate(83.40,706.80) rotate(-90)" font-size="9.8" text-anchor="end" fill="#222">PDCD1</text>
<text transform="translate(83.50,645.80) rotate(-90)" font-size="11.4" letter-spacing="0.55" fill="#111">*</text>
<rect x="85.17" y="649.10" width="12.38" height="18.35" fill="#F2A88C" />
<rect x="85.17" y="667.20" width="12.38" height="18.35" fill="#90C0DA" />
<rect x="85.17" y="685.30" width="12.38" height="18.35" fill="#D0E4EE" />
<text transform="translate(95.53,706.80) rotate(-90)" font-size="9.8" text-anchor="end" fill="#222">LAG3</text>
<text transform="translate(95.63,646.00) rotate(-90)" font-size="11.4" text-anchor="start" fill="#111">NS</text>
<rect x="97.30" y="649.10" width="12.38" height="18.35" fill="#7FB5D5" />
<rect x="97.30" y="667.20" width="12.38" height="18.35" fill="#D5E5EF" />
<rect x="97.30" y="685.30" width="12.38" height="18.35" fill="#DC7565" />
<text transform="translate(107.67,706.80) rotate(-90)" font-size="9.8" text-anchor="end" fill="#222">CD274</text>
<text transform="translate(107.77,645.80) rotate(-90)" font-size="11.4" letter-spacing="0.55" fill="#111">**</text>
<rect x="109.43" y="649.10" width="12.38" height="18.35" fill="#8DBDD8" />
<rect x="109.43" y="667.20" width="12.38" height="18.35" fill="#90C0DA" />
<rect x="109.43" y="685.30" width="12.38" height="18.35" fill="#CF5B52" />
<text transform="translate(119.80,706.80) rotate(-90)" font-size="9.8" text-anchor="end" fill="#222">HAVCR2</text>
<text transform="translate(119.90,645.80) rotate(-90)" font-size="11.4" letter-spacing="0.55" fill="#111">**</text>
<rect x="121.57" y="649.10" width="12.38" height="18.35" fill="#F5E8E2" />
<rect x="121.57" y="667.20" width="12.38" height="18.35" fill="#B8D6E7" />
<rect x="121.57" y="685.30" width="12.38" height="18.35" fill="#F8E3DA" />
<text transform="translate(131.93,706.80) rotate(-90)" font-size="9.8" text-anchor="end" fill="#222">BTN2A2</text>
<text transform="translate(132.03,646.00) rotate(-90)" font-size="11.4" text-anchor="start" fill="#111">NS</text>
<rect x="133.70" y="649.10" width="12.38" height="18.35" fill="#A0C8DF" />
<rect x="133.70" y="667.20" width="12.38" height="18.35" fill="#C2DCE8" />
<rect x="133.70" y="685.30" width="12.38" height="18.35" fill="#E99479" />
<text transform="translate(144.07,706.80) rotate(-90)" font-size="9.8" text-anchor="end" fill="#222">LAIR2</text>
<text transform="translate(144.17,645.80) rotate(-90)" font-size="11.4" letter-spacing="0.55" fill="#111">**</text>
<rect x="145.83" y="649.10" width="12.38" height="18.35" fill="#6DA8CE" />
<rect x="145.83" y="667.20" width="12.38" height="18.35" fill="#EFA085" />
<rect x="145.83" y="685.30" width="12.38" height="18.35" fill="#F4B29A" />
<text transform="translate(156.20,706.80) rotate(-90)" font-size="9.8" text-anchor="end" fill="#222">BTN3A1</text>
<text transform="translate(156.30,645.80) rotate(-90)" font-size="11.4" letter-spacing="0.55" fill="#111">**</text>
<rect x="157.97" y="649.10" width="12.38" height="18.35" fill="#8DBDD8" />
<rect x="157.97" y="667.20" width="12.38" height="18.35" fill="#F8E0D6" />
<rect x="157.97" y="685.30" width="12.38" height="18.35" fill="#F2AC90" />
<text transform="translate(168.33,706.80) rotate(-90)" font-size="9.8" text-anchor="end" fill="#222">PDCD1LG2</text>
<text transform="translate(168.43,646.00) rotate(-90)" font-size="11.4" text-anchor="start" fill="#111">NS</text>
<rect x="170.10" y="649.10" width="12.38" height="18.35" fill="#CF6456" />
<rect x="170.10" y="667.20" width="12.38" height="18.35" fill="#3F7DB8" />
<rect x="170.10" y="685.30" width="12.38" height="18.35" fill="#A8CCE0" />
<text transform="translate(180.47,706.80) rotate(-90)" font-size="9.8" text-anchor="end" fill="#222">BTN1A1</text>
<text transform="translate(180.57,645.80) rotate(-90)" font-size="11.4" letter-spacing="0.55" fill="#111">***</text>
<rect x="182.23" y="649.10" width="12.38" height="18.35" fill="#D0E4EE" />
<rect x="182.23" y="667.20" width="12.38" height="18.35" fill="#EAECEE" />
<rect x="182.23" y="685.30" width="12.38" height="18.35" fill="#FAD4C4" />
<text transform="translate(192.60,706.80) rotate(-90)" font-size="9.8" text-anchor="end" fill="#222">VTCN1</text>
<text transform="translate(192.70,646.00) rotate(-90)" font-size="11.4" text-anchor="start" fill="#111">NS</text>
<rect x="194.37" y="649.10" width="12.38" height="18.35" fill="#EB957A" />
<rect x="194.37" y="667.20" width="12.38" height="18.35" fill="#4A8DC0" />
<rect x="194.37" y="685.30" width="12.38" height="18.35" fill="#D5E5EE" />
<text transform="translate(204.73,706.80) rotate(-90)" font-size="9.8" text-anchor="end" fill="#222">BTNL2</text>
<text transform="translate(204.83,645.80) rotate(-90)" font-size="11.4" letter-spacing="0.55" fill="#111">**</text>
<rect x="24.50" y="649.10" width="182.00" height="54.30" fill="none" stroke="#222" stroke-width="1.3"/>
<rect x="213.40" y="649.10" width="12.32" height="18.35" fill="#6AA5CC" />
<rect x="213.40" y="667.20" width="12.32" height="18.35" fill="#F2A88C" />
<rect x="213.40" y="685.30" width="12.32" height="18.35" fill="#F6BCA4" />
<text transform="translate(223.74,706.80) rotate(-90)" font-size="9.8" text-anchor="end" fill="#222">BTN3A1</text>
<text transform="translate(223.84,645.80) rotate(-90)" font-size="11.4" letter-spacing="0.55" fill="#111">**</text>
<rect x="225.47" y="649.10" width="12.32" height="18.35" fill="#BCD8E6" />
<rect x="225.47" y="667.20" width="12.32" height="18.35" fill="#F0EDEB" />
<rect x="225.47" y="685.30" width="12.32" height="18.35" fill="#F8C7B2" />
<text transform="translate(235.81,706.80) rotate(-90)" font-size="9.8" text-anchor="end" fill="#222">CD48</text>
<text transform="translate(235.91,646.00) rotate(-90)" font-size="11.4" text-anchor="start" fill="#111">NS</text>
<rect x="237.55" y="649.10" width="12.32" height="18.35" fill="#6AA5CC" />
<rect x="237.55" y="667.20" width="12.32" height="18.35" fill="#DC7868" />
<rect x="237.55" y="685.30" width="12.32" height="18.35" fill="#F8C7B2" />
<text transform="translate(247.89,706.80) rotate(-90)" font-size="9.8" text-anchor="end" fill="#222">VTCN1</text>
<text transform="translate(247.99,645.80) rotate(-90)" font-size="11.4" letter-spacing="0.55" fill="#111">**</text>
<rect x="249.62" y="649.10" width="12.32" height="18.35" fill="#6AA5CC" />
<rect x="249.62" y="667.20" width="12.32" height="18.35" fill="#F2A88C" />
<rect x="249.62" y="685.30" width="12.32" height="18.35" fill="#F2A88C" />
<text transform="translate(259.96,706.80) rotate(-90)" font-size="9.8" text-anchor="end" fill="#222">CD274</text>
<text transform="translate(260.06,645.80) rotate(-90)" font-size="11.4" letter-spacing="0.55" fill="#111">***</text>
<rect x="213.40" y="649.10" width="48.30" height="54.30" fill="none" stroke="#222" stroke-width="1.3"/>
<text x="265.30" y="662.15" font-size="11" text-anchor="start" fill="#222" >S1</text>
<text x="265.30" y="680.25" font-size="11" text-anchor="start" fill="#222" >S2</text>
<text x="265.30" y="698.35" font-size="11" text-anchor="start" fill="#222" >S3</text>
<text x="150.60" y="774.00" font-size="12.1" text-anchor="middle" fill="#222" >Immune checkpoint genes/proteins</text>
<text x="145.50" y="793.20" font-size="9.8" text-anchor="middle" fill="#222" >RNA/protein abundance</text>
<rect x="108.00" y="797.30" width="73.60" height="14.20" fill="url(#ge)" />
<line x1="109.60" y1="797.30" x2="109.60" y2="799.30" stroke="#fff" stroke-width="0.8" />
<line x1="109.60" y1="809.50" x2="109.60" y2="811.50" stroke="#fff" stroke-width="0.8" />
<line x1="127.40" y1="797.30" x2="127.40" y2="799.30" stroke="#fff" stroke-width="0.8" />
<line x1="127.40" y1="809.50" x2="127.40" y2="811.50" stroke="#fff" stroke-width="0.8" />
<line x1="145.00" y1="797.30" x2="145.00" y2="799.30" stroke="#fff" stroke-width="0.8" />
<line x1="145.00" y1="809.50" x2="145.00" y2="811.50" stroke="#fff" stroke-width="0.8" />
<line x1="162.40" y1="797.30" x2="162.40" y2="799.30" stroke="#fff" stroke-width="0.8" />
<line x1="162.40" y1="809.50" x2="162.40" y2="811.50" stroke="#fff" stroke-width="0.8" />
<line x1="180.10" y1="797.30" x2="180.10" y2="799.30" stroke="#fff" stroke-width="0.8" />
<line x1="180.10" y1="809.50" x2="180.10" y2="811.50" stroke="#fff" stroke-width="0.8" />
<text x="109.60" y="822.30" font-size="9.6" text-anchor="middle" fill="#222" >-1</text>
<text x="127.50" y="822.30" font-size="9.6" text-anchor="middle" fill="#222" >-0.5</text>
<text x="145.30" y="822.30" font-size="9.6" text-anchor="middle" fill="#222" >0</text>
<text x="162.40" y="822.30" font-size="9.6" text-anchor="middle" fill="#222" >0.5</text>
<text x="177.50" y="822.30" font-size="9.6" text-anchor="middle" fill="#222" >1</text>
</svg></body></html>
